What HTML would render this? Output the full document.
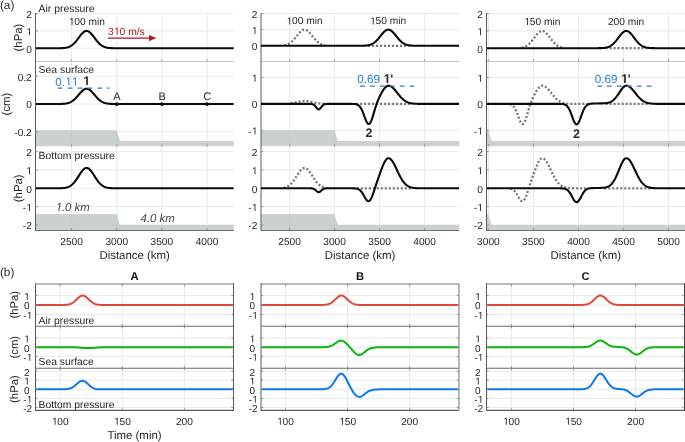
<!DOCTYPE html>
<html><head><meta charset="utf-8"><style>
html,body{margin:0;padding:0;background:#fff;}
svg{display:block;will-change:transform;}
text{font-family:"Liberation Sans", sans-serif;text-rendering:geometricPrecision;}
</style></head><body>
<svg width="685" height="442" viewBox="0 0 685 442">
<defs><clipPath id="ca00"><rect x="35.5" y="13.5" width="198.3" height="48.0"/></clipPath><clipPath id="ca01"><rect x="35.5" y="61.5" width="198.3" height="84.80000000000001"/></clipPath><clipPath id="ca02"><rect x="35.5" y="146.3" width="198.3" height="84.0"/></clipPath><clipPath id="ca10"><rect x="261.0" y="13.5" width="198.2" height="48.0"/></clipPath><clipPath id="ca11"><rect x="261.0" y="61.5" width="198.2" height="84.80000000000001"/></clipPath><clipPath id="ca12"><rect x="261.0" y="146.3" width="198.2" height="84.0"/></clipPath><clipPath id="ca20"><rect x="486.5" y="13.5" width="198.5" height="48.0"/></clipPath><clipPath id="ca21"><rect x="486.5" y="61.5" width="198.5" height="84.80000000000001"/></clipPath><clipPath id="ca22"><rect x="486.5" y="146.3" width="198.5" height="84.0"/></clipPath><clipPath id="cb00"><rect x="35.5" y="284.3" width="198.2" height="42.0"/></clipPath><clipPath id="cb01"><rect x="35.5" y="326.3" width="198.2" height="41.89999999999998"/></clipPath><clipPath id="cb02"><rect x="35.5" y="368.2" width="198.2" height="42.10000000000002"/></clipPath><clipPath id="cb10"><rect x="261.0" y="284.3" width="198.3" height="42.0"/></clipPath><clipPath id="cb11"><rect x="261.0" y="326.3" width="198.3" height="41.89999999999998"/></clipPath><clipPath id="cb12"><rect x="261.0" y="368.2" width="198.3" height="42.10000000000002"/></clipPath><clipPath id="cb20"><rect x="486.5" y="284.3" width="198.10000000000002" height="42.0"/></clipPath><clipPath id="cb21"><rect x="486.5" y="326.3" width="198.10000000000002" height="41.89999999999998"/></clipPath><clipPath id="cb22"><rect x="486.5" y="368.2" width="198.10000000000002" height="42.10000000000002"/></clipPath>
<path id="g1r" d="M585,0 L585,1237 L267,1010 L267,1180 L600,1409 L766,1409 L766,0 Z"/>
<path id="g1b" d="M538,0 L538,1170 L200,959 L200,1180 L553,1409 L819,1409 L819,0 Z"/>
<path id="g1i" d="M472,0 L710,1223 L349,1000 L384,1180 L761,1409 L927,1409 L653,0 Z"/>
</defs>
<rect width="685" height="442" fill="#fff"/>
<line x1="71.60" y1="13.50" x2="71.60" y2="61.50" stroke="#e9e9e9" stroke-width="1" />
<line x1="116.73" y1="13.50" x2="116.73" y2="61.50" stroke="#e9e9e9" stroke-width="1" />
<line x1="161.86" y1="13.50" x2="161.86" y2="61.50" stroke="#e9e9e9" stroke-width="1" />
<line x1="206.99" y1="13.50" x2="206.99" y2="61.50" stroke="#e9e9e9" stroke-width="1" />
<line x1="35.50" y1="48.25" x2="233.80" y2="48.25" stroke="#e9e9e9" stroke-width="1" />
<line x1="35.50" y1="30.90" x2="233.80" y2="30.90" stroke="#e9e9e9" stroke-width="1" />
<line x1="35.50" y1="13.55" x2="233.80" y2="13.55" stroke="#e9e9e9" stroke-width="1" />
<line x1="71.60" y1="61.50" x2="71.60" y2="146.30" stroke="#e9e9e9" stroke-width="1" />
<line x1="116.73" y1="61.50" x2="116.73" y2="146.30" stroke="#e9e9e9" stroke-width="1" />
<line x1="161.86" y1="61.50" x2="161.86" y2="146.30" stroke="#e9e9e9" stroke-width="1" />
<line x1="206.99" y1="61.50" x2="206.99" y2="146.30" stroke="#e9e9e9" stroke-width="1" />
<line x1="35.50" y1="131.70" x2="233.80" y2="131.70" stroke="#e9e9e9" stroke-width="1" />
<line x1="35.50" y1="104.00" x2="233.80" y2="104.00" stroke="#e9e9e9" stroke-width="1" />
<line x1="35.50" y1="76.30" x2="233.80" y2="76.30" stroke="#e9e9e9" stroke-width="1" />
<line x1="71.60" y1="146.30" x2="71.60" y2="230.30" stroke="#e9e9e9" stroke-width="1" />
<line x1="116.73" y1="146.30" x2="116.73" y2="230.30" stroke="#e9e9e9" stroke-width="1" />
<line x1="161.86" y1="146.30" x2="161.86" y2="230.30" stroke="#e9e9e9" stroke-width="1" />
<line x1="206.99" y1="146.30" x2="206.99" y2="230.30" stroke="#e9e9e9" stroke-width="1" />
<line x1="35.50" y1="225.00" x2="233.80" y2="225.00" stroke="#e9e9e9" stroke-width="1" />
<line x1="35.50" y1="206.65" x2="233.80" y2="206.65" stroke="#e9e9e9" stroke-width="1" />
<line x1="35.50" y1="188.30" x2="233.80" y2="188.30" stroke="#e9e9e9" stroke-width="1" />
<line x1="35.50" y1="169.95" x2="233.80" y2="169.95" stroke="#e9e9e9" stroke-width="1" />
<line x1="35.50" y1="151.60" x2="233.80" y2="151.60" stroke="#e9e9e9" stroke-width="1" />
<line x1="289.60" y1="13.50" x2="289.60" y2="61.50" stroke="#e9e9e9" stroke-width="1" />
<line x1="334.60" y1="13.50" x2="334.60" y2="61.50" stroke="#e9e9e9" stroke-width="1" />
<line x1="379.60" y1="13.50" x2="379.60" y2="61.50" stroke="#e9e9e9" stroke-width="1" />
<line x1="424.60" y1="13.50" x2="424.60" y2="61.50" stroke="#e9e9e9" stroke-width="1" />
<line x1="261.00" y1="45.80" x2="459.20" y2="45.80" stroke="#e9e9e9" stroke-width="1" />
<line x1="261.00" y1="29.65" x2="459.20" y2="29.65" stroke="#e9e9e9" stroke-width="1" />
<line x1="261.00" y1="13.50" x2="459.20" y2="13.50" stroke="#e9e9e9" stroke-width="1" />
<line x1="289.60" y1="61.50" x2="289.60" y2="146.30" stroke="#e9e9e9" stroke-width="1" />
<line x1="334.60" y1="61.50" x2="334.60" y2="146.30" stroke="#e9e9e9" stroke-width="1" />
<line x1="379.60" y1="61.50" x2="379.60" y2="146.30" stroke="#e9e9e9" stroke-width="1" />
<line x1="424.60" y1="61.50" x2="424.60" y2="146.30" stroke="#e9e9e9" stroke-width="1" />
<line x1="261.00" y1="130.30" x2="459.20" y2="130.30" stroke="#e9e9e9" stroke-width="1" />
<line x1="261.00" y1="103.90" x2="459.20" y2="103.90" stroke="#e9e9e9" stroke-width="1" />
<line x1="261.00" y1="77.50" x2="459.20" y2="77.50" stroke="#e9e9e9" stroke-width="1" />
<line x1="289.60" y1="146.30" x2="289.60" y2="230.30" stroke="#e9e9e9" stroke-width="1" />
<line x1="334.60" y1="146.30" x2="334.60" y2="230.30" stroke="#e9e9e9" stroke-width="1" />
<line x1="379.60" y1="146.30" x2="379.60" y2="230.30" stroke="#e9e9e9" stroke-width="1" />
<line x1="424.60" y1="146.30" x2="424.60" y2="230.30" stroke="#e9e9e9" stroke-width="1" />
<line x1="261.00" y1="225.00" x2="459.20" y2="225.00" stroke="#e9e9e9" stroke-width="1" />
<line x1="261.00" y1="206.65" x2="459.20" y2="206.65" stroke="#e9e9e9" stroke-width="1" />
<line x1="261.00" y1="188.30" x2="459.20" y2="188.30" stroke="#e9e9e9" stroke-width="1" />
<line x1="261.00" y1="169.95" x2="459.20" y2="169.95" stroke="#e9e9e9" stroke-width="1" />
<line x1="261.00" y1="151.60" x2="459.20" y2="151.60" stroke="#e9e9e9" stroke-width="1" />
<line x1="488.40" y1="13.50" x2="488.40" y2="61.50" stroke="#e9e9e9" stroke-width="1" />
<line x1="533.45" y1="13.50" x2="533.45" y2="61.50" stroke="#e9e9e9" stroke-width="1" />
<line x1="578.50" y1="13.50" x2="578.50" y2="61.50" stroke="#e9e9e9" stroke-width="1" />
<line x1="623.55" y1="13.50" x2="623.55" y2="61.50" stroke="#e9e9e9" stroke-width="1" />
<line x1="668.60" y1="13.50" x2="668.60" y2="61.50" stroke="#e9e9e9" stroke-width="1" />
<line x1="486.50" y1="48.20" x2="685.00" y2="48.20" stroke="#e9e9e9" stroke-width="1" />
<line x1="486.50" y1="30.90" x2="685.00" y2="30.90" stroke="#e9e9e9" stroke-width="1" />
<line x1="486.50" y1="13.60" x2="685.00" y2="13.60" stroke="#e9e9e9" stroke-width="1" />
<line x1="488.40" y1="61.50" x2="488.40" y2="146.30" stroke="#e9e9e9" stroke-width="1" />
<line x1="533.45" y1="61.50" x2="533.45" y2="146.30" stroke="#e9e9e9" stroke-width="1" />
<line x1="578.50" y1="61.50" x2="578.50" y2="146.30" stroke="#e9e9e9" stroke-width="1" />
<line x1="623.55" y1="61.50" x2="623.55" y2="146.30" stroke="#e9e9e9" stroke-width="1" />
<line x1="668.60" y1="61.50" x2="668.60" y2="146.30" stroke="#e9e9e9" stroke-width="1" />
<line x1="486.50" y1="130.30" x2="685.00" y2="130.30" stroke="#e9e9e9" stroke-width="1" />
<line x1="486.50" y1="103.90" x2="685.00" y2="103.90" stroke="#e9e9e9" stroke-width="1" />
<line x1="486.50" y1="77.50" x2="685.00" y2="77.50" stroke="#e9e9e9" stroke-width="1" />
<line x1="488.40" y1="146.30" x2="488.40" y2="230.30" stroke="#e9e9e9" stroke-width="1" />
<line x1="533.45" y1="146.30" x2="533.45" y2="230.30" stroke="#e9e9e9" stroke-width="1" />
<line x1="578.50" y1="146.30" x2="578.50" y2="230.30" stroke="#e9e9e9" stroke-width="1" />
<line x1="623.55" y1="146.30" x2="623.55" y2="230.30" stroke="#e9e9e9" stroke-width="1" />
<line x1="668.60" y1="146.30" x2="668.60" y2="230.30" stroke="#e9e9e9" stroke-width="1" />
<line x1="486.50" y1="225.00" x2="685.00" y2="225.00" stroke="#e9e9e9" stroke-width="1" />
<line x1="486.50" y1="206.65" x2="685.00" y2="206.65" stroke="#e9e9e9" stroke-width="1" />
<line x1="486.50" y1="188.30" x2="685.00" y2="188.30" stroke="#e9e9e9" stroke-width="1" />
<line x1="486.50" y1="169.95" x2="685.00" y2="169.95" stroke="#e9e9e9" stroke-width="1" />
<line x1="486.50" y1="151.60" x2="685.00" y2="151.60" stroke="#e9e9e9" stroke-width="1" />
<path d="M35.50,130.20 L116.73,130.20 L119.93,141.10 L233.80,141.10 L233.80,146.30 L35.50,146.30 Z" fill="#bcc4c4" fill-opacity="0.78"/>
<path d="M35.50,214.00 L116.73,214.00 L119.93,225.00 L233.80,225.00 L233.80,230.30 L35.50,230.30 Z" fill="#bcc4c4" fill-opacity="0.78"/>
<path d="M261.00,130.20 L334.60,130.20 L337.80,141.10 L459.20,141.10 L459.20,146.30 L261.00,146.30 Z" fill="#bcc4c4" fill-opacity="0.78"/>
<path d="M261.00,214.00 L334.60,214.00 L337.80,225.00 L459.20,225.00 L459.20,230.30 L261.00,230.30 Z" fill="#bcc4c4" fill-opacity="0.78"/>
<path d="M486.50,130.20 L488.40,130.20 L491.60,141.10 L685.00,141.10 L685.00,146.30 L486.50,146.30 Z" fill="#bcc4c4" fill-opacity="0.78"/>
<path d="M486.50,214.00 L488.40,214.00 L491.60,225.00 L685.00,225.00 L685.00,230.30 L486.50,230.30 Z" fill="#bcc4c4" fill-opacity="0.78"/>
<line x1="71.60" y1="59.50" x2="71.60" y2="61.50" stroke="#8a8a8a" stroke-width="1" />
<line x1="116.73" y1="59.50" x2="116.73" y2="61.50" stroke="#8a8a8a" stroke-width="1" />
<line x1="161.86" y1="59.50" x2="161.86" y2="61.50" stroke="#8a8a8a" stroke-width="1" />
<line x1="206.99" y1="59.50" x2="206.99" y2="61.50" stroke="#8a8a8a" stroke-width="1" />
<line x1="71.60" y1="144.30" x2="71.60" y2="146.30" stroke="#8a8a8a" stroke-width="1" />
<line x1="116.73" y1="144.30" x2="116.73" y2="146.30" stroke="#8a8a8a" stroke-width="1" />
<line x1="161.86" y1="144.30" x2="161.86" y2="146.30" stroke="#8a8a8a" stroke-width="1" />
<line x1="206.99" y1="144.30" x2="206.99" y2="146.30" stroke="#8a8a8a" stroke-width="1" />
<line x1="71.60" y1="228.30" x2="71.60" y2="230.30" stroke="#8a8a8a" stroke-width="1" />
<line x1="116.73" y1="228.30" x2="116.73" y2="230.30" stroke="#8a8a8a" stroke-width="1" />
<line x1="161.86" y1="228.30" x2="161.86" y2="230.30" stroke="#8a8a8a" stroke-width="1" />
<line x1="206.99" y1="228.30" x2="206.99" y2="230.30" stroke="#8a8a8a" stroke-width="1" />
<line x1="35.50" y1="61.50" x2="233.80" y2="61.50" stroke="#c4c4c4" stroke-width="1" />
<line x1="35.50" y1="230.50" x2="233.80" y2="230.50" stroke="#6e6e6e" stroke-width="1" />
<line x1="35.50" y1="13.00" x2="35.50" y2="231.00" stroke="#5a5a5a" stroke-width="1" />
<line x1="35.50" y1="48.25" x2="37.70" y2="48.25" stroke="#8a8a8a" stroke-width="1" />
<text x="31.80" y="52.55" font-size="10.2" text-anchor="end" fill="#262626" font-weight="normal" font-style="normal" >0</text>
<line x1="35.50" y1="30.90" x2="37.70" y2="30.90" stroke="#8a8a8a" stroke-width="1" />
<text id="t0" x="31.80" y="35.20" font-size="10.2" text-anchor="end" fill="#262626" font-weight="normal" font-style="normal" >&#8199;</text>
<line x1="35.50" y1="13.55" x2="37.70" y2="13.55" stroke="#8a8a8a" stroke-width="1" />
<text x="31.80" y="17.85" font-size="10.2" text-anchor="end" fill="#262626" font-weight="normal" font-style="normal" >2</text>
<line x1="35.50" y1="131.70" x2="37.70" y2="131.70" stroke="#8a8a8a" stroke-width="1" />
<text x="31.80" y="136.00" font-size="10.2" text-anchor="end" fill="#262626" font-weight="normal" font-style="normal" >-0.2</text>
<line x1="35.50" y1="104.00" x2="37.70" y2="104.00" stroke="#8a8a8a" stroke-width="1" />
<text x="31.80" y="108.30" font-size="10.2" text-anchor="end" fill="#262626" font-weight="normal" font-style="normal" >0</text>
<line x1="35.50" y1="76.30" x2="37.70" y2="76.30" stroke="#8a8a8a" stroke-width="1" />
<text x="31.80" y="80.60" font-size="10.2" text-anchor="end" fill="#262626" font-weight="normal" font-style="normal" >0.2</text>
<line x1="35.50" y1="225.00" x2="37.70" y2="225.00" stroke="#8a8a8a" stroke-width="1" />
<text x="31.80" y="229.30" font-size="10.2" text-anchor="end" fill="#262626" font-weight="normal" font-style="normal" >-2</text>
<line x1="35.50" y1="206.65" x2="37.70" y2="206.65" stroke="#8a8a8a" stroke-width="1" />
<text id="t1" x="31.80" y="210.95" font-size="10.2" text-anchor="end" fill="#262626" font-weight="normal" font-style="normal" >-&#8199;</text>
<line x1="35.50" y1="188.30" x2="37.70" y2="188.30" stroke="#8a8a8a" stroke-width="1" />
<text x="31.80" y="192.60" font-size="10.2" text-anchor="end" fill="#262626" font-weight="normal" font-style="normal" >0</text>
<line x1="35.50" y1="169.95" x2="37.70" y2="169.95" stroke="#8a8a8a" stroke-width="1" />
<text id="t2" x="31.80" y="174.25" font-size="10.2" text-anchor="end" fill="#262626" font-weight="normal" font-style="normal" >&#8199;</text>
<line x1="35.50" y1="151.60" x2="37.70" y2="151.60" stroke="#8a8a8a" stroke-width="1" />
<text x="31.80" y="155.90" font-size="10.2" text-anchor="end" fill="#262626" font-weight="normal" font-style="normal" >2</text>
<text x="71.60" y="244.60" font-size="10.2" text-anchor="middle" fill="#262626" font-weight="normal" font-style="normal" >2500</text>
<text x="116.73" y="244.60" font-size="10.2" text-anchor="middle" fill="#262626" font-weight="normal" font-style="normal" >3000</text>
<text x="161.86" y="244.60" font-size="10.2" text-anchor="middle" fill="#262626" font-weight="normal" font-style="normal" >3500</text>
<text x="206.99" y="244.60" font-size="10.2" text-anchor="middle" fill="#262626" font-weight="normal" font-style="normal" >4000</text>
<text x="134.65" y="259.00" font-size="11.45" text-anchor="middle" fill="#262626" font-weight="normal" font-style="normal" >Distance (km)</text>
<line x1="289.60" y1="59.50" x2="289.60" y2="61.50" stroke="#8a8a8a" stroke-width="1" />
<line x1="334.60" y1="59.50" x2="334.60" y2="61.50" stroke="#8a8a8a" stroke-width="1" />
<line x1="379.60" y1="59.50" x2="379.60" y2="61.50" stroke="#8a8a8a" stroke-width="1" />
<line x1="424.60" y1="59.50" x2="424.60" y2="61.50" stroke="#8a8a8a" stroke-width="1" />
<line x1="289.60" y1="144.30" x2="289.60" y2="146.30" stroke="#8a8a8a" stroke-width="1" />
<line x1="334.60" y1="144.30" x2="334.60" y2="146.30" stroke="#8a8a8a" stroke-width="1" />
<line x1="379.60" y1="144.30" x2="379.60" y2="146.30" stroke="#8a8a8a" stroke-width="1" />
<line x1="424.60" y1="144.30" x2="424.60" y2="146.30" stroke="#8a8a8a" stroke-width="1" />
<line x1="289.60" y1="228.30" x2="289.60" y2="230.30" stroke="#8a8a8a" stroke-width="1" />
<line x1="334.60" y1="228.30" x2="334.60" y2="230.30" stroke="#8a8a8a" stroke-width="1" />
<line x1="379.60" y1="228.30" x2="379.60" y2="230.30" stroke="#8a8a8a" stroke-width="1" />
<line x1="424.60" y1="228.30" x2="424.60" y2="230.30" stroke="#8a8a8a" stroke-width="1" />
<line x1="261.00" y1="61.50" x2="459.20" y2="61.50" stroke="#c4c4c4" stroke-width="1" />
<line x1="261.00" y1="230.50" x2="459.20" y2="230.50" stroke="#6e6e6e" stroke-width="1" />
<line x1="261.00" y1="13.00" x2="261.00" y2="231.00" stroke="#5a5a5a" stroke-width="1" />
<line x1="261.00" y1="45.80" x2="263.20" y2="45.80" stroke="#8a8a8a" stroke-width="1" />
<text x="257.30" y="50.10" font-size="10.2" text-anchor="end" fill="#262626" font-weight="normal" font-style="normal" >0</text>
<line x1="261.00" y1="29.65" x2="263.20" y2="29.65" stroke="#8a8a8a" stroke-width="1" />
<text id="t3" x="257.30" y="33.95" font-size="10.2" text-anchor="end" fill="#262626" font-weight="normal" font-style="normal" >&#8199;</text>
<line x1="261.00" y1="13.50" x2="263.20" y2="13.50" stroke="#8a8a8a" stroke-width="1" />
<text x="257.30" y="17.80" font-size="10.2" text-anchor="end" fill="#262626" font-weight="normal" font-style="normal" >2</text>
<line x1="261.00" y1="130.30" x2="263.20" y2="130.30" stroke="#8a8a8a" stroke-width="1" />
<text id="t4" x="257.30" y="134.60" font-size="10.2" text-anchor="end" fill="#262626" font-weight="normal" font-style="normal" >-&#8199;</text>
<line x1="261.00" y1="103.90" x2="263.20" y2="103.90" stroke="#8a8a8a" stroke-width="1" />
<text x="257.30" y="108.20" font-size="10.2" text-anchor="end" fill="#262626" font-weight="normal" font-style="normal" >0</text>
<line x1="261.00" y1="77.50" x2="263.20" y2="77.50" stroke="#8a8a8a" stroke-width="1" />
<text id="t5" x="257.30" y="81.80" font-size="10.2" text-anchor="end" fill="#262626" font-weight="normal" font-style="normal" >&#8199;</text>
<line x1="261.00" y1="225.00" x2="263.20" y2="225.00" stroke="#8a8a8a" stroke-width="1" />
<text x="257.30" y="229.30" font-size="10.2" text-anchor="end" fill="#262626" font-weight="normal" font-style="normal" >-2</text>
<line x1="261.00" y1="206.65" x2="263.20" y2="206.65" stroke="#8a8a8a" stroke-width="1" />
<text id="t6" x="257.30" y="210.95" font-size="10.2" text-anchor="end" fill="#262626" font-weight="normal" font-style="normal" >-&#8199;</text>
<line x1="261.00" y1="188.30" x2="263.20" y2="188.30" stroke="#8a8a8a" stroke-width="1" />
<text x="257.30" y="192.60" font-size="10.2" text-anchor="end" fill="#262626" font-weight="normal" font-style="normal" >0</text>
<line x1="261.00" y1="169.95" x2="263.20" y2="169.95" stroke="#8a8a8a" stroke-width="1" />
<text id="t7" x="257.30" y="174.25" font-size="10.2" text-anchor="end" fill="#262626" font-weight="normal" font-style="normal" >&#8199;</text>
<line x1="261.00" y1="151.60" x2="263.20" y2="151.60" stroke="#8a8a8a" stroke-width="1" />
<text x="257.30" y="155.90" font-size="10.2" text-anchor="end" fill="#262626" font-weight="normal" font-style="normal" >2</text>
<text x="289.60" y="244.60" font-size="10.2" text-anchor="middle" fill="#262626" font-weight="normal" font-style="normal" >2500</text>
<text x="334.60" y="244.60" font-size="10.2" text-anchor="middle" fill="#262626" font-weight="normal" font-style="normal" >3000</text>
<text x="379.60" y="244.60" font-size="10.2" text-anchor="middle" fill="#262626" font-weight="normal" font-style="normal" >3500</text>
<text x="424.60" y="244.60" font-size="10.2" text-anchor="middle" fill="#262626" font-weight="normal" font-style="normal" >4000</text>
<text x="360.10" y="259.00" font-size="11.45" text-anchor="middle" fill="#262626" font-weight="normal" font-style="normal" >Distance (km)</text>
<line x1="488.40" y1="59.50" x2="488.40" y2="61.50" stroke="#8a8a8a" stroke-width="1" />
<line x1="533.45" y1="59.50" x2="533.45" y2="61.50" stroke="#8a8a8a" stroke-width="1" />
<line x1="578.50" y1="59.50" x2="578.50" y2="61.50" stroke="#8a8a8a" stroke-width="1" />
<line x1="623.55" y1="59.50" x2="623.55" y2="61.50" stroke="#8a8a8a" stroke-width="1" />
<line x1="668.60" y1="59.50" x2="668.60" y2="61.50" stroke="#8a8a8a" stroke-width="1" />
<line x1="488.40" y1="144.30" x2="488.40" y2="146.30" stroke="#8a8a8a" stroke-width="1" />
<line x1="533.45" y1="144.30" x2="533.45" y2="146.30" stroke="#8a8a8a" stroke-width="1" />
<line x1="578.50" y1="144.30" x2="578.50" y2="146.30" stroke="#8a8a8a" stroke-width="1" />
<line x1="623.55" y1="144.30" x2="623.55" y2="146.30" stroke="#8a8a8a" stroke-width="1" />
<line x1="668.60" y1="144.30" x2="668.60" y2="146.30" stroke="#8a8a8a" stroke-width="1" />
<line x1="488.40" y1="228.30" x2="488.40" y2="230.30" stroke="#8a8a8a" stroke-width="1" />
<line x1="533.45" y1="228.30" x2="533.45" y2="230.30" stroke="#8a8a8a" stroke-width="1" />
<line x1="578.50" y1="228.30" x2="578.50" y2="230.30" stroke="#8a8a8a" stroke-width="1" />
<line x1="623.55" y1="228.30" x2="623.55" y2="230.30" stroke="#8a8a8a" stroke-width="1" />
<line x1="668.60" y1="228.30" x2="668.60" y2="230.30" stroke="#8a8a8a" stroke-width="1" />
<line x1="486.50" y1="61.50" x2="685.00" y2="61.50" stroke="#c4c4c4" stroke-width="1" />
<line x1="486.50" y1="230.50" x2="685.00" y2="230.50" stroke="#6e6e6e" stroke-width="1" />
<line x1="486.50" y1="13.00" x2="486.50" y2="231.00" stroke="#5a5a5a" stroke-width="1" />
<line x1="486.50" y1="48.20" x2="488.70" y2="48.20" stroke="#8a8a8a" stroke-width="1" />
<text x="482.80" y="52.50" font-size="10.2" text-anchor="end" fill="#262626" font-weight="normal" font-style="normal" >0</text>
<line x1="486.50" y1="30.90" x2="488.70" y2="30.90" stroke="#8a8a8a" stroke-width="1" />
<text id="t8" x="482.80" y="35.20" font-size="10.2" text-anchor="end" fill="#262626" font-weight="normal" font-style="normal" >&#8199;</text>
<line x1="486.50" y1="13.60" x2="488.70" y2="13.60" stroke="#8a8a8a" stroke-width="1" />
<text x="482.80" y="17.90" font-size="10.2" text-anchor="end" fill="#262626" font-weight="normal" font-style="normal" >2</text>
<line x1="486.50" y1="130.30" x2="488.70" y2="130.30" stroke="#8a8a8a" stroke-width="1" />
<text id="t9" x="482.80" y="134.60" font-size="10.2" text-anchor="end" fill="#262626" font-weight="normal" font-style="normal" >-&#8199;</text>
<line x1="486.50" y1="103.90" x2="488.70" y2="103.90" stroke="#8a8a8a" stroke-width="1" />
<text x="482.80" y="108.20" font-size="10.2" text-anchor="end" fill="#262626" font-weight="normal" font-style="normal" >0</text>
<line x1="486.50" y1="77.50" x2="488.70" y2="77.50" stroke="#8a8a8a" stroke-width="1" />
<text id="t10" x="482.80" y="81.80" font-size="10.2" text-anchor="end" fill="#262626" font-weight="normal" font-style="normal" >&#8199;</text>
<line x1="486.50" y1="225.00" x2="488.70" y2="225.00" stroke="#8a8a8a" stroke-width="1" />
<text x="482.80" y="229.30" font-size="10.2" text-anchor="end" fill="#262626" font-weight="normal" font-style="normal" >-2</text>
<line x1="486.50" y1="206.65" x2="488.70" y2="206.65" stroke="#8a8a8a" stroke-width="1" />
<text id="t11" x="482.80" y="210.95" font-size="10.2" text-anchor="end" fill="#262626" font-weight="normal" font-style="normal" >-&#8199;</text>
<line x1="486.50" y1="188.30" x2="488.70" y2="188.30" stroke="#8a8a8a" stroke-width="1" />
<text x="482.80" y="192.60" font-size="10.2" text-anchor="end" fill="#262626" font-weight="normal" font-style="normal" >0</text>
<line x1="486.50" y1="169.95" x2="488.70" y2="169.95" stroke="#8a8a8a" stroke-width="1" />
<text id="t12" x="482.80" y="174.25" font-size="10.2" text-anchor="end" fill="#262626" font-weight="normal" font-style="normal" >&#8199;</text>
<line x1="486.50" y1="151.60" x2="488.70" y2="151.60" stroke="#8a8a8a" stroke-width="1" />
<text x="482.80" y="155.90" font-size="10.2" text-anchor="end" fill="#262626" font-weight="normal" font-style="normal" >2</text>
<text x="488.40" y="244.60" font-size="10.2" text-anchor="middle" fill="#262626" font-weight="normal" font-style="normal" >3000</text>
<text x="533.45" y="244.60" font-size="10.2" text-anchor="middle" fill="#262626" font-weight="normal" font-style="normal" >3500</text>
<text x="578.50" y="244.60" font-size="10.2" text-anchor="middle" fill="#262626" font-weight="normal" font-style="normal" >4000</text>
<text x="623.55" y="244.60" font-size="10.2" text-anchor="middle" fill="#262626" font-weight="normal" font-style="normal" >4500</text>
<text x="668.60" y="244.60" font-size="10.2" text-anchor="middle" fill="#262626" font-weight="normal" font-style="normal" >5000</text>
<text x="585.75" y="259.00" font-size="11.45" text-anchor="middle" fill="#262626" font-weight="normal" font-style="normal" >Distance (km)</text>
<path d="M35.50,48.25 L36.16,48.25 L36.82,48.25 L37.48,48.25 L38.14,48.25 L38.81,48.25 L39.47,48.25 L40.13,48.25 L40.79,48.25 L41.45,48.25 L42.11,48.25 L42.77,48.25 L43.43,48.25 L44.09,48.25 L44.75,48.25 L45.42,48.25 L46.08,48.25 L46.74,48.25 L47.40,48.25 L48.06,48.25 L48.72,48.25 L49.38,48.25 L50.04,48.25 L50.70,48.25 L51.36,48.25 L52.03,48.25 L52.69,48.25 L53.35,48.25 L54.01,48.25 L54.67,48.25 L55.33,48.24 L55.99,48.24 L56.65,48.24 L57.31,48.23 L57.97,48.23 L58.64,48.22 L59.30,48.21 L59.96,48.19 L60.62,48.18 L61.28,48.15 L61.94,48.12 L62.60,48.09 L63.26,48.04 L63.92,47.98 L64.58,47.91 L65.25,47.82 L65.91,47.71 L66.57,47.58 L67.23,47.42 L67.89,47.23 L68.55,47.01 L69.21,46.75 L69.87,46.45 L70.53,46.10 L71.19,45.71 L71.86,45.26 L72.52,44.76 L73.18,44.21 L73.84,43.60 L74.50,42.94 L75.16,42.23 L75.82,41.47 L76.48,40.66 L77.14,39.83 L77.80,38.96 L78.47,38.08 L79.13,37.20 L79.79,36.32 L80.45,35.46 L81.11,34.64 L81.77,33.87 L82.43,33.16 L83.09,32.53 L83.75,31.99 L84.41,31.55 L85.07,31.22 L85.74,31.00 L86.40,30.90 L87.06,30.93 L87.72,31.08 L88.38,31.35 L89.04,31.73 L89.70,32.22 L90.36,32.80 L91.02,33.46 L91.69,34.20 L92.35,35.00 L93.01,35.83 L93.67,36.70 L94.33,37.58 L94.99,38.47 L95.65,39.34 L96.31,40.20 L96.97,41.02 L97.63,41.80 L98.29,42.54 L98.96,43.24 L99.62,43.87 L100.28,44.46 L100.94,44.99 L101.60,45.46 L102.26,45.89 L102.92,46.26 L103.58,46.58 L104.24,46.87 L104.91,47.11 L105.57,47.32 L106.23,47.49 L106.89,47.64 L107.55,47.76 L108.21,47.86 L108.87,47.94 L109.53,48.01 L110.19,48.06 L110.85,48.10 L111.52,48.14 L112.18,48.16 L112.84,48.19 L113.50,48.20 L114.16,48.21 L114.82,48.22 L115.48,48.23 L116.14,48.24 L116.80,48.24 L117.46,48.24 L118.13,48.24 L118.79,48.25 L119.45,48.25 L120.11,48.25 L120.77,48.25 L121.43,48.25 L122.09,48.25 L122.75,48.25 L123.41,48.25 L124.07,48.25 L124.74,48.25 L125.40,48.25 L126.06,48.25 L126.72,48.25 L127.38,48.25 L128.04,48.25 L128.70,48.25 L129.36,48.25 L130.02,48.25 L130.68,48.25 L131.35,48.25 L132.01,48.25 L132.67,48.25 L133.33,48.25 L133.99,48.25 L134.65,48.25 L135.31,48.25 L135.97,48.25 L136.63,48.25 L137.29,48.25 L137.96,48.25 L138.62,48.25 L139.28,48.25 L139.94,48.25 L140.60,48.25 L141.26,48.25 L141.92,48.25 L142.58,48.25 L143.24,48.25 L143.90,48.25 L144.56,48.25 L145.23,48.25 L145.89,48.25 L146.55,48.25 L147.21,48.25 L147.87,48.25 L148.53,48.25 L149.19,48.25 L149.85,48.25 L150.51,48.25 L151.18,48.25 L151.84,48.25 L152.50,48.25 L153.16,48.25 L153.82,48.25 L154.48,48.25 L155.14,48.25 L155.80,48.25 L156.46,48.25 L157.12,48.25 L157.79,48.25 L158.45,48.25 L159.11,48.25 L159.77,48.25 L160.43,48.25 L161.09,48.25 L161.75,48.25 L162.41,48.25 L163.07,48.25 L163.73,48.25 L164.40,48.25 L165.06,48.25 L165.72,48.25 L166.38,48.25 L167.04,48.25 L167.70,48.25 L168.36,48.25 L169.02,48.25 L169.68,48.25 L170.34,48.25 L171.00,48.25 L171.67,48.25 L172.33,48.25 L172.99,48.25 L173.65,48.25 L174.31,48.25 L174.97,48.25 L175.63,48.25 L176.29,48.25 L176.95,48.25 L177.62,48.25 L178.28,48.25 L178.94,48.25 L179.60,48.25 L180.26,48.25 L180.92,48.25 L181.58,48.25 L182.24,48.25 L182.90,48.25 L183.56,48.25 L184.23,48.25 L184.89,48.25 L185.55,48.25 L186.21,48.25 L186.87,48.25 L187.53,48.25 L188.19,48.25 L188.85,48.25 L189.51,48.25 L190.17,48.25 L190.84,48.25 L191.50,48.25 L192.16,48.25 L192.82,48.25 L193.48,48.25 L194.14,48.25 L194.80,48.25 L195.46,48.25 L196.12,48.25 L196.78,48.25 L197.44,48.25 L198.11,48.25 L198.77,48.25 L199.43,48.25 L200.09,48.25 L200.75,48.25 L201.41,48.25 L202.07,48.25 L202.73,48.25 L203.39,48.25 L204.06,48.25 L204.72,48.25 L205.38,48.25 L206.04,48.25 L206.70,48.25 L207.36,48.25 L208.02,48.25 L208.68,48.25 L209.34,48.25 L210.00,48.25 L210.67,48.25 L211.33,48.25 L211.99,48.25 L212.65,48.25 L213.31,48.25 L213.97,48.25 L214.63,48.25 L215.29,48.25 L215.95,48.25 L216.61,48.25 L217.28,48.25 L217.94,48.25 L218.60,48.25 L219.26,48.25 L219.92,48.25 L220.58,48.25 L221.24,48.25 L221.90,48.25 L222.56,48.25 L223.22,48.25 L223.89,48.25 L224.55,48.25 L225.21,48.25 L225.87,48.25 L226.53,48.25 L227.19,48.25 L227.85,48.25 L228.51,48.25 L229.17,48.25 L229.83,48.25 L230.50,48.25 L231.16,48.25 L231.82,48.25 L232.48,48.25 L233.14,48.25 L233.80,48.25" fill="none" stroke="#0a0a0a" stroke-width="2.1" stroke-linejoin="round" stroke-linecap="butt"  clip-path="url(#ca00)"/>
<path d="M35.50,104.00 L36.16,104.00 L36.82,104.00 L37.48,104.00 L38.14,104.00 L38.81,104.00 L39.47,104.00 L40.13,104.00 L40.79,104.00 L41.45,104.00 L42.11,104.00 L42.77,104.00 L43.43,104.00 L44.09,104.00 L44.75,104.00 L45.42,104.00 L46.08,104.00 L46.74,104.00 L47.40,104.00 L48.06,104.00 L48.72,104.00 L49.38,104.00 L50.04,104.00 L50.70,104.00 L51.36,104.00 L52.03,104.00 L52.69,104.00 L53.35,104.00 L54.01,104.00 L54.67,104.00 L55.33,103.99 L55.99,103.99 L56.65,103.99 L57.31,103.99 L57.97,103.98 L58.64,103.97 L59.30,103.96 L59.96,103.95 L60.62,103.94 L61.28,103.92 L61.94,103.89 L62.60,103.86 L63.26,103.81 L63.92,103.76 L64.58,103.70 L65.25,103.62 L65.91,103.52 L66.57,103.41 L67.23,103.27 L67.89,103.10 L68.55,102.91 L69.21,102.68 L69.87,102.42 L70.53,102.11 L71.19,101.77 L71.86,101.38 L72.52,100.94 L73.18,100.45 L73.84,99.92 L74.50,99.34 L75.16,98.71 L75.82,98.04 L76.48,97.34 L77.14,96.60 L77.80,95.84 L78.47,95.07 L79.13,94.29 L79.79,93.52 L80.45,92.77 L81.11,92.05 L81.77,91.37 L82.43,90.75 L83.09,90.20 L83.75,89.72 L84.41,89.34 L85.07,89.04 L85.74,88.85 L86.40,88.77 L87.06,88.79 L87.72,88.92 L88.38,89.16 L89.04,89.49 L89.70,89.92 L90.36,90.43 L91.02,91.02 L91.69,91.66 L92.35,92.36 L93.01,93.10 L93.67,93.86 L94.33,94.63 L94.99,95.41 L95.65,96.18 L96.31,96.93 L96.97,97.65 L97.63,98.34 L98.29,98.99 L98.96,99.60 L99.62,100.16 L100.28,100.67 L100.94,101.14 L101.60,101.55 L102.26,101.92 L102.92,102.25 L103.58,102.54 L104.24,102.79 L104.91,103.00 L105.57,103.18 L106.23,103.33 L106.89,103.46 L107.55,103.57 L108.21,103.66 L108.87,103.73 L109.53,103.79 L110.19,103.83 L110.85,103.87 L111.52,103.90 L112.18,103.92 L112.84,103.94 L113.50,103.96 L114.16,103.97 L114.82,103.98 L115.48,103.98 L116.14,103.99 L116.80,103.99 L117.46,103.99 L118.13,104.00 L118.79,104.00 L119.45,104.00 L120.11,104.00 L120.77,104.00 L121.43,104.00 L122.09,104.00 L122.75,104.00 L123.41,104.00 L124.07,104.00 L124.74,104.00 L125.40,104.00 L126.06,104.00 L126.72,104.00 L127.38,104.00 L128.04,104.00 L128.70,104.00 L129.36,104.00 L130.02,104.00 L130.68,104.00 L131.35,104.00 L132.01,104.00 L132.67,104.00 L133.33,104.00 L133.99,104.00 L134.65,104.00 L135.31,104.00 L135.97,104.00 L136.63,104.00 L137.29,104.00 L137.96,104.00 L138.62,104.00 L139.28,104.00 L139.94,104.00 L140.60,104.00 L141.26,104.00 L141.92,104.00 L142.58,104.00 L143.24,104.00 L143.90,104.00 L144.56,104.00 L145.23,104.00 L145.89,104.00 L146.55,104.00 L147.21,104.00 L147.87,104.00 L148.53,104.00 L149.19,104.00 L149.85,104.00 L150.51,104.00 L151.18,104.00 L151.84,104.00 L152.50,104.00 L153.16,104.00 L153.82,104.00 L154.48,104.00 L155.14,104.00 L155.80,104.00 L156.46,104.00 L157.12,104.00 L157.79,104.00 L158.45,104.00 L159.11,104.00 L159.77,104.00 L160.43,104.00 L161.09,104.00 L161.75,104.00 L162.41,104.00 L163.07,104.00 L163.73,104.00 L164.40,104.00 L165.06,104.00 L165.72,104.00 L166.38,104.00 L167.04,104.00 L167.70,104.00 L168.36,104.00 L169.02,104.00 L169.68,104.00 L170.34,104.00 L171.00,104.00 L171.67,104.00 L172.33,104.00 L172.99,104.00 L173.65,104.00 L174.31,104.00 L174.97,104.00 L175.63,104.00 L176.29,104.00 L176.95,104.00 L177.62,104.00 L178.28,104.00 L178.94,104.00 L179.60,104.00 L180.26,104.00 L180.92,104.00 L181.58,104.00 L182.24,104.00 L182.90,104.00 L183.56,104.00 L184.23,104.00 L184.89,104.00 L185.55,104.00 L186.21,104.00 L186.87,104.00 L187.53,104.00 L188.19,104.00 L188.85,104.00 L189.51,104.00 L190.17,104.00 L190.84,104.00 L191.50,104.00 L192.16,104.00 L192.82,104.00 L193.48,104.00 L194.14,104.00 L194.80,104.00 L195.46,104.00 L196.12,104.00 L196.78,104.00 L197.44,104.00 L198.11,104.00 L198.77,104.00 L199.43,104.00 L200.09,104.00 L200.75,104.00 L201.41,104.00 L202.07,104.00 L202.73,104.00 L203.39,104.00 L204.06,104.00 L204.72,104.00 L205.38,104.00 L206.04,104.00 L206.70,104.00 L207.36,104.00 L208.02,104.00 L208.68,104.00 L209.34,104.00 L210.00,104.00 L210.67,104.00 L211.33,104.00 L211.99,104.00 L212.65,104.00 L213.31,104.00 L213.97,104.00 L214.63,104.00 L215.29,104.00 L215.95,104.00 L216.61,104.00 L217.28,104.00 L217.94,104.00 L218.60,104.00 L219.26,104.00 L219.92,104.00 L220.58,104.00 L221.24,104.00 L221.90,104.00 L222.56,104.00 L223.22,104.00 L223.89,104.00 L224.55,104.00 L225.21,104.00 L225.87,104.00 L226.53,104.00 L227.19,104.00 L227.85,104.00 L228.51,104.00 L229.17,104.00 L229.83,104.00 L230.50,104.00 L231.16,104.00 L231.82,104.00 L232.48,104.00 L233.14,104.00 L233.80,104.00" fill="none" stroke="#0a0a0a" stroke-width="2.1" stroke-linejoin="round" stroke-linecap="butt"  clip-path="url(#ca01)"/>
<path d="M35.50,188.30 L36.16,188.30 L36.82,188.30 L37.48,188.30 L38.14,188.30 L38.81,188.30 L39.47,188.30 L40.13,188.30 L40.79,188.30 L41.45,188.30 L42.11,188.30 L42.77,188.30 L43.43,188.30 L44.09,188.30 L44.75,188.30 L45.42,188.30 L46.08,188.30 L46.74,188.30 L47.40,188.30 L48.06,188.30 L48.72,188.30 L49.38,188.30 L50.04,188.30 L50.70,188.30 L51.36,188.30 L52.03,188.30 L52.69,188.30 L53.35,188.30 L54.01,188.30 L54.67,188.29 L55.33,188.29 L55.99,188.29 L56.65,188.29 L57.31,188.28 L57.97,188.27 L58.64,188.26 L59.30,188.25 L59.96,188.24 L60.62,188.21 L61.28,188.19 L61.94,188.15 L62.60,188.11 L63.26,188.05 L63.92,187.98 L64.58,187.90 L65.25,187.79 L65.91,187.66 L66.57,187.51 L67.23,187.32 L67.89,187.10 L68.55,186.84 L69.21,186.54 L69.87,186.18 L70.53,185.78 L71.19,185.31 L71.86,184.79 L72.52,184.21 L73.18,183.56 L73.84,182.84 L74.50,182.07 L75.16,181.23 L75.82,180.34 L76.48,179.39 L77.14,178.41 L77.80,177.40 L78.47,176.36 L79.13,175.32 L79.79,174.29 L80.45,173.29 L81.11,172.33 L81.77,171.42 L82.43,170.59 L83.09,169.85 L83.75,169.21 L84.41,168.69 L85.07,168.30 L85.74,168.05 L86.40,167.94 L87.06,167.97 L87.72,168.14 L88.38,168.46 L89.04,168.91 L89.70,169.48 L90.36,170.16 L91.02,170.94 L91.69,171.81 L92.35,172.74 L93.01,173.72 L93.67,174.74 L94.33,175.78 L94.99,176.82 L95.65,177.84 L96.31,178.85 L96.97,179.81 L97.63,180.73 L98.29,181.60 L98.96,182.41 L99.62,183.16 L100.28,183.85 L100.94,184.47 L101.60,185.03 L102.26,185.52 L102.92,185.96 L103.58,186.34 L104.24,186.68 L104.91,186.96 L105.57,187.20 L106.23,187.41 L106.89,187.58 L107.55,187.72 L108.21,187.84 L108.87,187.94 L109.53,188.02 L110.19,188.08 L110.85,188.13 L111.52,188.17 L112.18,188.20 L112.84,188.22 L113.50,188.24 L114.16,188.26 L114.82,188.27 L115.48,188.28 L116.14,188.28 L116.80,188.29 L117.46,188.29 L118.13,188.29 L118.79,188.30 L119.45,188.30 L120.11,188.30 L120.77,188.30 L121.43,188.30 L122.09,188.30 L122.75,188.30 L123.41,188.30 L124.07,188.30 L124.74,188.30 L125.40,188.30 L126.06,188.30 L126.72,188.30 L127.38,188.30 L128.04,188.30 L128.70,188.30 L129.36,188.30 L130.02,188.30 L130.68,188.30 L131.35,188.30 L132.01,188.30 L132.67,188.30 L133.33,188.30 L133.99,188.30 L134.65,188.30 L135.31,188.30 L135.97,188.30 L136.63,188.30 L137.29,188.30 L137.96,188.30 L138.62,188.30 L139.28,188.30 L139.94,188.30 L140.60,188.30 L141.26,188.30 L141.92,188.30 L142.58,188.30 L143.24,188.30 L143.90,188.30 L144.56,188.30 L145.23,188.30 L145.89,188.30 L146.55,188.30 L147.21,188.30 L147.87,188.30 L148.53,188.30 L149.19,188.30 L149.85,188.30 L150.51,188.30 L151.18,188.30 L151.84,188.30 L152.50,188.30 L153.16,188.30 L153.82,188.30 L154.48,188.30 L155.14,188.30 L155.80,188.30 L156.46,188.30 L157.12,188.30 L157.79,188.30 L158.45,188.30 L159.11,188.30 L159.77,188.30 L160.43,188.30 L161.09,188.30 L161.75,188.30 L162.41,188.30 L163.07,188.30 L163.73,188.30 L164.40,188.30 L165.06,188.30 L165.72,188.30 L166.38,188.30 L167.04,188.30 L167.70,188.30 L168.36,188.30 L169.02,188.30 L169.68,188.30 L170.34,188.30 L171.00,188.30 L171.67,188.30 L172.33,188.30 L172.99,188.30 L173.65,188.30 L174.31,188.30 L174.97,188.30 L175.63,188.30 L176.29,188.30 L176.95,188.30 L177.62,188.30 L178.28,188.30 L178.94,188.30 L179.60,188.30 L180.26,188.30 L180.92,188.30 L181.58,188.30 L182.24,188.30 L182.90,188.30 L183.56,188.30 L184.23,188.30 L184.89,188.30 L185.55,188.30 L186.21,188.30 L186.87,188.30 L187.53,188.30 L188.19,188.30 L188.85,188.30 L189.51,188.30 L190.17,188.30 L190.84,188.30 L191.50,188.30 L192.16,188.30 L192.82,188.30 L193.48,188.30 L194.14,188.30 L194.80,188.30 L195.46,188.30 L196.12,188.30 L196.78,188.30 L197.44,188.30 L198.11,188.30 L198.77,188.30 L199.43,188.30 L200.09,188.30 L200.75,188.30 L201.41,188.30 L202.07,188.30 L202.73,188.30 L203.39,188.30 L204.06,188.30 L204.72,188.30 L205.38,188.30 L206.04,188.30 L206.70,188.30 L207.36,188.30 L208.02,188.30 L208.68,188.30 L209.34,188.30 L210.00,188.30 L210.67,188.30 L211.33,188.30 L211.99,188.30 L212.65,188.30 L213.31,188.30 L213.97,188.30 L214.63,188.30 L215.29,188.30 L215.95,188.30 L216.61,188.30 L217.28,188.30 L217.94,188.30 L218.60,188.30 L219.26,188.30 L219.92,188.30 L220.58,188.30 L221.24,188.30 L221.90,188.30 L222.56,188.30 L223.22,188.30 L223.89,188.30 L224.55,188.30 L225.21,188.30 L225.87,188.30 L226.53,188.30 L227.19,188.30 L227.85,188.30 L228.51,188.30 L229.17,188.30 L229.83,188.30 L230.50,188.30 L231.16,188.30 L231.82,188.30 L232.48,188.30 L233.14,188.30 L233.80,188.30" fill="none" stroke="#0a0a0a" stroke-width="2.1" stroke-linejoin="round" stroke-linecap="butt"  clip-path="url(#ca02)"/>
<path d="M284.12,45.26 L284.78,45.13 L285.44,44.97 L286.11,44.79 L286.77,44.57 L287.43,44.32 L288.09,44.02 L288.75,43.69 L289.41,43.30 L290.07,42.87 L290.73,42.39 L291.39,41.86 L292.05,41.27 L292.71,40.64 L293.37,39.96 L294.03,39.24 L294.69,38.47 L295.35,37.68 L296.02,36.87 L296.68,36.05 L297.34,35.22 L298.00,34.41 L298.66,33.62 L299.32,32.87 L299.98,32.17 L300.64,31.53 L301.30,30.97 L301.96,30.50 L302.62,30.13 L303.28,29.86 L303.94,29.70 L304.60,29.65 L305.26,29.72 L305.93,29.90 L306.59,30.19 L307.25,30.59 L307.91,31.08 L308.57,31.65 L309.23,32.30 L309.89,33.01 L310.55,33.77 L311.21,34.57 L311.87,35.38 L312.53,36.21 L313.19,37.03 L313.85,37.84 L314.51,38.62 L315.17,39.38 L315.84,40.09 L316.50,40.77 L317.16,41.39 L317.82,41.96 L318.48,42.49 L319.14,42.96 L319.80,43.38 L320.46,43.76 L321.12,44.08 L321.78,44.37 L322.44,44.62 L323.10,44.83 L323.76,45.01 L324.42,45.16 L325.08,45.28" fill="none" stroke="#767676" stroke-width="2.3" stroke-linejoin="round" stroke-linecap="butt" stroke-dasharray="2.0 2.0" clip-path="url(#ca10)"/>
<path d="M368.03,45.80 L368.69,45.80 L369.35,45.80 L370.01,45.80 L370.67,45.80 L371.33,45.80 L371.99,45.80 L372.65,45.80 L373.31,45.80 L373.97,45.80 L374.63,45.80 L375.30,45.80 L375.96,45.80 L376.62,45.80 L377.28,45.80 L377.94,45.80 L378.60,45.80 L379.26,45.80 L379.92,45.80 L380.58,45.80 L381.24,45.80 L381.90,45.80 L382.56,45.80 L383.22,45.80 L383.88,45.80 L384.54,45.80 L385.21,45.80 L385.87,45.80 L386.53,45.80 L387.19,45.80 L387.85,45.80 L388.51,45.80 L389.17,45.80 L389.83,45.80 L390.49,45.80 L391.15,45.80 L391.81,45.80 L392.47,45.80 L393.13,45.80 L393.79,45.80 L394.45,45.80 L395.12,45.80 L395.78,45.80 L396.44,45.80 L397.10,45.80 L397.76,45.80 L398.42,45.80 L399.08,45.80 L399.74,45.80 L400.40,45.80 L401.06,45.80 L401.72,45.80 L402.38,45.80 L403.04,45.80 L403.70,45.80 L404.36,45.80 L405.03,45.80 L405.69,45.80 L406.35,45.80 L407.01,45.80 L407.67,45.80 L408.33,45.80 L408.99,45.80" fill="none" stroke="#767676" stroke-width="2.3" stroke-linejoin="round" stroke-linecap="butt" stroke-dasharray="2.0 2.0" clip-path="url(#ca10)"/>
<path d="M261.00,45.80 L261.66,45.80 L262.32,45.80 L262.98,45.80 L263.64,45.80 L264.30,45.80 L264.96,45.80 L265.62,45.80 L266.29,45.80 L266.95,45.80 L267.61,45.80 L268.27,45.80 L268.93,45.80 L269.59,45.80 L270.25,45.80 L270.91,45.80 L271.57,45.80 L272.23,45.80 L272.89,45.80 L273.55,45.80 L274.21,45.80 L274.87,45.80 L275.53,45.80 L276.20,45.80 L276.86,45.80 L277.52,45.80 L278.18,45.80 L278.84,45.80 L279.50,45.80 L280.16,45.80 L280.82,45.80 L281.48,45.80 L282.14,45.80 L282.80,45.80 L283.46,45.80 L284.12,45.80 L284.78,45.80 L285.44,45.80 L286.11,45.80 L286.77,45.80 L287.43,45.80 L288.09,45.80 L288.75,45.80 L289.41,45.80 L290.07,45.80 L290.73,45.80 L291.39,45.80 L292.05,45.80 L292.71,45.80 L293.37,45.80 L294.03,45.80 L294.69,45.80 L295.35,45.80 L296.02,45.80 L296.68,45.80 L297.34,45.80 L298.00,45.80 L298.66,45.80 L299.32,45.80 L299.98,45.80 L300.64,45.80 L301.30,45.80 L301.96,45.80 L302.62,45.80 L303.28,45.80 L303.94,45.80 L304.60,45.80 L305.26,45.80 L305.93,45.80 L306.59,45.80 L307.25,45.80 L307.91,45.80 L308.57,45.80 L309.23,45.80 L309.89,45.80 L310.55,45.80 L311.21,45.80 L311.87,45.80 L312.53,45.80 L313.19,45.80 L313.85,45.80 L314.51,45.80 L315.17,45.80 L315.84,45.80 L316.50,45.80 L317.16,45.80 L317.82,45.80 L318.48,45.80 L319.14,45.80 L319.80,45.80 L320.46,45.80 L321.12,45.80 L321.78,45.80 L322.44,45.80 L323.10,45.80 L323.76,45.80 L324.42,45.80 L325.08,45.80 L325.75,45.80 L326.41,45.80 L327.07,45.80 L327.73,45.80 L328.39,45.80 L329.05,45.80 L329.71,45.80 L330.37,45.80 L331.03,45.80 L331.69,45.80 L332.35,45.80 L333.01,45.80 L333.67,45.80 L334.33,45.80 L334.99,45.80 L335.66,45.80 L336.32,45.80 L336.98,45.80 L337.64,45.80 L338.30,45.80 L338.96,45.80 L339.62,45.80 L340.28,45.80 L340.94,45.80 L341.60,45.80 L342.26,45.80 L342.92,45.80 L343.58,45.80 L344.24,45.80 L344.90,45.80 L345.57,45.80 L346.23,45.80 L346.89,45.80 L347.55,45.80 L348.21,45.80 L348.87,45.80 L349.53,45.80 L350.19,45.80 L350.85,45.80 L351.51,45.80 L352.17,45.80 L352.83,45.80 L353.49,45.80 L354.15,45.80 L354.81,45.80 L355.48,45.80 L356.14,45.80 L356.80,45.80 L357.46,45.79 L358.12,45.79 L358.78,45.79 L359.44,45.78 L360.10,45.78 L360.76,45.77 L361.42,45.76 L362.08,45.74 L362.74,45.72 L363.40,45.70 L364.06,45.67 L364.72,45.63 L365.39,45.58 L366.05,45.52 L366.71,45.44 L367.37,45.35 L368.03,45.24 L368.69,45.11 L369.35,44.94 L370.01,44.75 L370.67,44.53 L371.33,44.27 L371.99,43.97 L372.65,43.62 L373.31,43.23 L373.97,42.79 L374.63,42.30 L375.30,41.76 L375.96,41.17 L376.62,40.53 L377.28,39.84 L377.94,39.11 L378.60,38.34 L379.26,37.54 L379.92,36.73 L380.58,35.90 L381.24,35.08 L381.90,34.27 L382.56,33.49 L383.22,32.74 L383.88,32.05 L384.54,31.43 L385.21,30.89 L385.87,30.43 L386.53,30.07 L387.19,29.82 L387.85,29.68 L388.51,29.65 L389.17,29.74 L389.83,29.94 L390.49,30.25 L391.15,30.67 L391.81,31.17 L392.47,31.76 L393.13,32.42 L393.79,33.14 L394.45,33.91 L395.12,34.71 L395.78,35.52 L396.44,36.35 L397.10,37.17 L397.76,37.98 L398.42,38.76 L399.08,39.51 L399.74,40.21 L400.40,40.88 L401.06,41.49 L401.72,42.06 L402.38,42.57 L403.04,43.04 L403.70,43.45 L404.36,43.82 L405.03,44.14 L405.69,44.42 L406.35,44.66 L407.01,44.86 L407.67,45.03 L408.33,45.18 L408.99,45.30 L409.65,45.40 L410.31,45.49 L410.97,45.55 L411.63,45.61 L412.29,45.65 L412.95,45.68 L413.61,45.71 L414.27,45.73 L414.94,45.75 L415.60,45.76 L416.26,45.77 L416.92,45.78 L417.58,45.78 L418.24,45.79 L418.90,45.79 L419.56,45.79 L420.22,45.80 L420.88,45.80 L421.54,45.80 L422.20,45.80 L422.86,45.80 L423.52,45.80 L424.18,45.80 L424.85,45.80 L425.51,45.80 L426.17,45.80 L426.83,45.80 L427.49,45.80 L428.15,45.80 L428.81,45.80 L429.47,45.80 L430.13,45.80 L430.79,45.80 L431.45,45.80 L432.11,45.80 L432.77,45.80 L433.43,45.80 L434.09,45.80 L434.76,45.80 L435.42,45.80 L436.08,45.80 L436.74,45.80 L437.40,45.80 L438.06,45.80 L438.72,45.80 L439.38,45.80 L440.04,45.80 L440.70,45.80 L441.36,45.80 L442.02,45.80 L442.68,45.80 L443.34,45.80 L444.00,45.80 L444.67,45.80 L445.33,45.80 L445.99,45.80 L446.65,45.80 L447.31,45.80 L447.97,45.80 L448.63,45.80 L449.29,45.80 L449.95,45.80 L450.61,45.80 L451.27,45.80 L451.93,45.80 L452.59,45.80 L453.25,45.80 L453.91,45.80 L454.58,45.80 L455.24,45.80 L455.90,45.80 L456.56,45.80 L457.22,45.80 L457.88,45.80 L458.54,45.80 L459.20,45.80" fill="none" stroke="#0a0a0a" stroke-width="2.1" stroke-linejoin="round" stroke-linecap="butt"  clip-path="url(#ca10)"/>
<path d="M290.73,103.29 L291.39,103.19 L292.05,103.09 L292.71,102.97 L293.37,102.85 L294.03,102.72 L294.69,102.58 L295.35,102.44 L296.02,102.29 L296.68,102.15 L297.34,102.00 L298.00,101.85 L298.66,101.71 L299.32,101.57 L299.98,101.45 L300.64,101.33 L301.30,101.23 L301.96,101.15 L302.62,101.08 L303.28,101.03 L303.94,101.00 L304.60,101.00 L305.26,101.01 L305.93,101.04 L306.59,101.09 L307.25,101.16 L307.91,101.25 L308.57,101.36 L309.23,101.47 L309.89,101.60 L310.55,101.74 L311.21,101.88 L311.87,102.03 L312.53,102.18 L313.19,102.32 L313.85,102.47 L314.51,102.61 L315.17,102.75 L315.84,102.87 L316.50,102.99 L317.16,103.11 L317.82,103.21 L318.48,103.30 L319.14,103.39 L319.80,103.47 L320.46,103.53 L321.12,103.59 L321.78,103.64 L322.44,103.69 L323.10,103.73 L323.76,103.76 L324.42,103.78 L325.08,103.81" fill="none" stroke="#767676" stroke-width="2.3" stroke-linejoin="round" stroke-linecap="butt" stroke-dasharray="2.0 2.0" clip-path="url(#ca11)"/>
<path d="M356.14,103.90 L356.80,103.90 L357.46,103.90 L358.12,103.90 L358.78,103.90 L359.44,103.90 L360.10,103.90 L360.76,103.90 L361.42,103.90 L362.08,103.90 L362.74,103.90 L363.40,103.90 L364.06,103.90 L364.72,103.90 L365.39,103.90 L366.05,103.90 L366.71,103.90 L367.37,103.90 L368.03,103.90 L368.69,103.90 L369.35,103.90 L370.01,103.90 L370.67,103.90 L371.33,103.90 L371.99,103.90 L372.65,103.90 L373.31,103.90 L373.97,103.90 L374.63,103.90 L375.30,103.90 L375.96,103.90 L376.62,103.90 L377.28,103.90 L377.94,103.90 L378.60,103.90 L379.26,103.90 L379.92,103.90 L380.58,103.90 L381.24,103.90 L381.90,103.90 L382.56,103.90 L383.22,103.90 L383.88,103.90 L384.54,103.90 L385.21,103.90 L385.87,103.90 L386.53,103.90 L387.19,103.90 L387.85,103.90 L388.51,103.90 L389.17,103.90 L389.83,103.90 L390.49,103.90 L391.15,103.90 L391.81,103.90 L392.47,103.90 L393.13,103.90 L393.79,103.90 L394.45,103.90 L395.12,103.90 L395.78,103.90 L396.44,103.90 L397.10,103.90 L397.76,103.90 L398.42,103.90 L399.08,103.90 L399.74,103.90 L400.40,103.90 L401.06,103.90 L401.72,103.90 L402.38,103.90 L403.04,103.90 L403.70,103.90 L404.36,103.90 L405.03,103.90 L405.69,103.90 L406.35,103.90 L407.01,103.90 L407.67,103.90 L408.33,103.90 L408.99,103.90 L409.65,103.90 L410.31,103.90 L410.97,103.90 L411.63,103.90" fill="none" stroke="#767676" stroke-width="2.3" stroke-linejoin="round" stroke-linecap="butt" stroke-dasharray="2.0 2.0" clip-path="url(#ca11)"/>
<path d="M261.00,103.90 L261.66,103.90 L262.32,103.90 L262.98,103.90 L263.64,103.90 L264.30,103.90 L264.96,103.90 L265.62,103.90 L266.29,103.90 L266.95,103.90 L267.61,103.90 L268.27,103.90 L268.93,103.90 L269.59,103.90 L270.25,103.90 L270.91,103.90 L271.57,103.90 L272.23,103.90 L272.89,103.90 L273.55,103.90 L274.21,103.90 L274.87,103.90 L275.53,103.90 L276.20,103.90 L276.86,103.90 L277.52,103.90 L278.18,103.90 L278.84,103.90 L279.50,103.90 L280.16,103.90 L280.82,103.90 L281.48,103.90 L282.14,103.90 L282.80,103.90 L283.46,103.90 L284.12,103.90 L284.78,103.90 L285.44,103.90 L286.11,103.90 L286.77,103.90 L287.43,103.90 L288.09,103.90 L288.75,103.90 L289.41,103.90 L290.07,103.90 L290.73,103.90 L291.39,103.90 L292.05,103.90 L292.71,103.90 L293.37,103.90 L294.03,103.90 L294.69,103.90 L295.35,103.90 L296.02,103.90 L296.68,103.90 L297.34,103.90 L298.00,103.90 L298.66,103.90 L299.32,103.90 L299.98,103.90 L300.64,103.90 L301.30,103.90 L301.96,103.90 L302.62,103.90 L303.28,103.90 L303.94,103.90 L304.60,103.90 L305.26,103.90 L305.93,103.90 L306.59,103.90 L307.25,103.90 L307.91,103.90 L308.57,103.90 L309.23,103.90 L309.89,103.91 L310.55,103.93 L311.21,103.97 L311.87,104.05 L312.53,104.19 L313.19,104.42 L313.85,104.79 L314.51,105.32 L315.17,106.02 L315.84,106.84 L316.50,107.72 L317.16,108.53 L317.82,109.14 L318.48,109.43 L319.14,109.35 L319.80,108.91 L320.46,108.21 L321.12,107.36 L321.78,106.49 L322.44,105.71 L323.10,105.08 L323.76,104.62 L324.42,104.31 L325.08,104.12 L325.75,104.01 L326.41,103.95 L327.07,103.92 L327.73,103.91 L328.39,103.90 L329.05,103.90 L329.71,103.90 L330.37,103.90 L331.03,103.90 L331.69,103.90 L332.35,103.90 L333.01,103.90 L333.67,103.90 L334.33,103.90 L334.99,103.90 L335.66,103.90 L336.32,103.90 L336.98,103.90 L337.64,103.90 L338.30,103.90 L338.96,103.90 L339.62,103.90 L340.28,103.90 L340.94,103.90 L341.60,103.90 L342.26,103.90 L342.92,103.90 L343.58,103.90 L344.24,103.90 L344.90,103.90 L345.57,103.90 L346.23,103.90 L346.89,103.90 L347.55,103.90 L348.21,103.90 L348.87,103.90 L349.53,103.90 L350.19,103.90 L350.85,103.91 L351.51,103.91 L352.17,103.92 L352.83,103.94 L353.49,103.96 L354.15,104.00 L354.81,104.05 L355.48,104.14 L356.14,104.27 L356.80,104.46 L357.46,104.72 L358.12,105.07 L358.78,105.55 L359.44,106.16 L360.10,106.95 L360.76,107.92 L361.42,109.08 L362.08,110.44 L362.74,111.97 L363.40,113.65 L364.06,115.43 L364.72,117.24 L365.39,119.00 L366.05,120.62 L366.71,122.02 L367.37,123.10 L368.03,123.80 L368.69,124.06 L369.35,123.86 L370.01,123.19 L370.67,122.10 L371.33,120.62 L371.99,118.83 L372.65,116.81 L373.31,114.64 L373.97,112.40 L374.63,110.17 L375.30,108.00 L375.96,105.92 L376.62,103.96 L377.28,102.13 L377.94,100.43 L378.60,98.85 L379.26,97.37 L379.92,95.98 L380.58,94.67 L381.24,93.43 L381.90,92.26 L382.56,91.15 L383.22,90.12 L383.88,89.16 L384.54,88.30 L385.21,87.53 L385.87,86.89 L386.53,86.37 L387.19,85.99 L387.85,85.76 L388.51,85.69 L389.17,85.74 L389.83,85.89 L390.49,86.15 L391.15,86.50 L391.81,86.94 L392.47,87.47 L393.13,88.07 L393.79,88.73 L394.45,89.45 L395.12,90.22 L395.78,91.02 L396.44,91.84 L397.10,92.67 L397.76,93.51 L398.42,94.33 L399.08,95.15 L399.74,95.94 L400.40,96.70 L401.06,97.42 L401.72,98.10 L402.38,98.75 L403.04,99.34 L403.70,99.89 L404.36,100.40 L405.03,100.86 L405.69,101.27 L406.35,101.64 L407.01,101.97 L407.67,102.26 L408.33,102.52 L408.99,102.74 L409.65,102.93 L410.31,103.09 L410.97,103.23 L411.63,103.35 L412.29,103.45 L412.95,103.54 L413.61,103.61 L414.27,103.67 L414.94,103.71 L415.60,103.75 L416.26,103.78 L416.92,103.81 L417.58,103.83 L418.24,103.84 L418.90,103.86 L419.56,103.87 L420.22,103.88 L420.88,103.88 L421.54,103.89 L422.20,103.89 L422.86,103.89 L423.52,103.89 L424.18,103.90 L424.85,103.90 L425.51,103.90 L426.17,103.90 L426.83,103.90 L427.49,103.90 L428.15,103.90 L428.81,103.90 L429.47,103.90 L430.13,103.90 L430.79,103.90 L431.45,103.90 L432.11,103.90 L432.77,103.90 L433.43,103.90 L434.09,103.90 L434.76,103.90 L435.42,103.90 L436.08,103.90 L436.74,103.90 L437.40,103.90 L438.06,103.90 L438.72,103.90 L439.38,103.90 L440.04,103.90 L440.70,103.90 L441.36,103.90 L442.02,103.90 L442.68,103.90 L443.34,103.90 L444.00,103.90 L444.67,103.90 L445.33,103.90 L445.99,103.90 L446.65,103.90 L447.31,103.90 L447.97,103.90 L448.63,103.90 L449.29,103.90 L449.95,103.90 L450.61,103.90 L451.27,103.90 L451.93,103.90 L452.59,103.90 L453.25,103.90 L453.91,103.90 L454.58,103.90 L455.24,103.90 L455.90,103.90 L456.56,103.90 L457.22,103.90 L457.88,103.90 L458.54,103.90 L459.20,103.90" fill="none" stroke="#0a0a0a" stroke-width="2.1" stroke-linejoin="round" stroke-linecap="butt"  clip-path="url(#ca11)"/>
<path d="M283.46,187.76 L284.12,187.62 L284.78,187.46 L285.44,187.26 L286.11,187.03 L286.77,186.75 L287.43,186.43 L288.09,186.06 L288.75,185.64 L289.41,185.15 L290.07,184.61 L290.73,184.00 L291.39,183.33 L292.05,182.59 L292.71,181.79 L293.37,180.93 L294.03,180.02 L294.69,179.06 L295.35,178.06 L296.02,177.04 L296.68,176.00 L297.34,174.96 L298.00,173.93 L298.66,172.94 L299.32,171.99 L299.98,171.11 L300.64,170.31 L301.30,169.60 L301.96,169.01 L302.62,168.53 L303.28,168.19 L303.94,167.99 L304.60,167.93 L305.26,168.02 L305.93,168.25 L306.59,168.62 L307.25,169.11 L307.91,169.73 L308.57,170.46 L309.23,171.27 L309.89,172.17 L310.55,173.13 L311.21,174.13 L311.87,175.16 L312.53,176.20 L313.19,177.24 L313.85,178.26 L314.51,179.25 L315.17,180.20 L315.84,181.10 L316.50,181.95 L317.16,182.74 L317.82,183.46 L318.48,184.12 L319.14,184.72 L319.80,185.25 L320.46,185.72 L321.12,186.14 L321.78,186.50 L322.44,186.81 L323.10,187.07 L323.76,187.30 L324.42,187.49 L325.08,187.65 L325.75,187.78 L326.41,187.89" fill="none" stroke="#767676" stroke-width="2.3" stroke-linejoin="round" stroke-linecap="butt" stroke-dasharray="2.0 2.0" clip-path="url(#ca12)"/>
<path d="M356.80,188.30 L357.46,188.30 L358.12,188.30 L358.78,188.30 L359.44,188.30 L360.10,188.30 L360.76,188.30 L361.42,188.30 L362.08,188.30 L362.74,188.30 L363.40,188.30 L364.06,188.30 L364.72,188.30 L365.39,188.30 L366.05,188.30 L366.71,188.30 L367.37,188.30 L368.03,188.30 L368.69,188.30 L369.35,188.30 L370.01,188.30 L370.67,188.30 L371.33,188.30 L371.99,188.30 L372.65,188.30 L373.31,188.30 L373.97,188.30 L374.63,188.30 L375.30,188.30 L375.96,188.30 L376.62,188.30 L377.28,188.30 L377.94,188.30 L378.60,188.30 L379.26,188.30 L379.92,188.30 L380.58,188.30 L381.24,188.30 L381.90,188.30 L382.56,188.30 L383.22,188.30 L383.88,188.30 L384.54,188.30 L385.21,188.30 L385.87,188.30 L386.53,188.30 L387.19,188.30 L387.85,188.30 L388.51,188.30 L389.17,188.30 L389.83,188.30 L390.49,188.30 L391.15,188.30 L391.81,188.30 L392.47,188.30 L393.13,188.30 L393.79,188.30 L394.45,188.30 L395.12,188.30 L395.78,188.30 L396.44,188.30 L397.10,188.30 L397.76,188.30 L398.42,188.30 L399.08,188.30 L399.74,188.30 L400.40,188.30 L401.06,188.30 L401.72,188.30 L402.38,188.30 L403.04,188.30 L403.70,188.30 L404.36,188.30 L405.03,188.30 L405.69,188.30 L406.35,188.30 L407.01,188.30 L407.67,188.30 L408.33,188.30 L408.99,188.30 L409.65,188.30 L410.31,188.30 L410.97,188.30 L411.63,188.30 L412.29,188.30 L412.95,188.30" fill="none" stroke="#767676" stroke-width="2.3" stroke-linejoin="round" stroke-linecap="butt" stroke-dasharray="2.0 2.0" clip-path="url(#ca12)"/>
<path d="M261.00,188.30 L261.66,188.30 L262.32,188.30 L262.98,188.30 L263.64,188.30 L264.30,188.30 L264.96,188.30 L265.62,188.30 L266.29,188.30 L266.95,188.30 L267.61,188.30 L268.27,188.30 L268.93,188.30 L269.59,188.30 L270.25,188.30 L270.91,188.30 L271.57,188.30 L272.23,188.30 L272.89,188.30 L273.55,188.30 L274.21,188.30 L274.87,188.30 L275.53,188.30 L276.20,188.30 L276.86,188.30 L277.52,188.30 L278.18,188.30 L278.84,188.30 L279.50,188.30 L280.16,188.30 L280.82,188.30 L281.48,188.30 L282.14,188.30 L282.80,188.30 L283.46,188.30 L284.12,188.30 L284.78,188.30 L285.44,188.30 L286.11,188.30 L286.77,188.30 L287.43,188.30 L288.09,188.30 L288.75,188.30 L289.41,188.30 L290.07,188.30 L290.73,188.30 L291.39,188.30 L292.05,188.30 L292.71,188.30 L293.37,188.30 L294.03,188.30 L294.69,188.30 L295.35,188.30 L296.02,188.30 L296.68,188.30 L297.34,188.30 L298.00,188.30 L298.66,188.30 L299.32,188.30 L299.98,188.30 L300.64,188.30 L301.30,188.30 L301.96,188.30 L302.62,188.30 L303.28,188.30 L303.94,188.30 L304.60,188.30 L305.26,188.30 L305.93,188.30 L306.59,188.30 L307.25,188.30 L307.91,188.30 L308.57,188.30 L309.23,188.30 L309.89,188.31 L310.55,188.32 L311.21,188.35 L311.87,188.40 L312.53,188.50 L313.19,188.66 L313.85,188.92 L314.51,189.29 L315.17,189.77 L315.84,190.35 L316.50,190.96 L317.16,191.52 L317.82,191.94 L318.48,192.14 L319.14,192.09 L319.80,191.79 L320.46,191.29 L321.12,190.70 L321.78,190.10 L322.44,189.56 L323.10,189.12 L323.76,188.80 L324.42,188.58 L325.08,188.45 L325.75,188.37 L326.41,188.33 L327.07,188.31 L327.73,188.31 L328.39,188.30 L329.05,188.30 L329.71,188.30 L330.37,188.30 L331.03,188.30 L331.69,188.30 L332.35,188.30 L333.01,188.30 L333.67,188.30 L334.33,188.30 L334.99,188.30 L335.66,188.30 L336.32,188.30 L336.98,188.30 L337.64,188.30 L338.30,188.30 L338.96,188.30 L339.62,188.30 L340.28,188.30 L340.94,188.30 L341.60,188.30 L342.26,188.30 L342.92,188.30 L343.58,188.30 L344.24,188.30 L344.90,188.30 L345.57,188.30 L346.23,188.30 L346.89,188.30 L347.55,188.30 L348.21,188.30 L348.87,188.30 L349.53,188.30 L350.19,188.30 L350.85,188.30 L351.51,188.31 L352.17,188.31 L352.83,188.32 L353.49,188.34 L354.15,188.36 L354.81,188.40 L355.48,188.46 L356.14,188.55 L356.80,188.67 L357.46,188.84 L358.12,189.08 L358.78,189.39 L359.44,189.80 L360.10,190.32 L360.76,190.96 L361.42,191.73 L362.08,192.63 L362.74,193.64 L363.40,194.75 L364.06,195.91 L364.72,197.09 L365.39,198.23 L366.05,199.27 L366.71,200.14 L367.37,200.78 L368.03,201.15 L368.69,201.20 L369.35,200.92 L370.01,200.30 L370.67,199.36 L371.33,198.12 L371.99,196.63 L372.65,194.93 L373.31,193.09 L373.97,191.14 L374.63,189.13 L375.30,187.11 L375.96,185.08 L376.62,183.08 L377.28,181.10 L377.94,179.15 L378.60,177.23 L379.26,175.34 L379.92,173.48 L380.58,171.65 L381.24,169.87 L381.90,168.14 L382.56,166.47 L383.22,164.90 L383.88,163.44 L384.54,162.11 L385.21,160.95 L385.87,159.97 L386.53,159.19 L387.19,158.63 L387.85,158.30 L388.51,158.21 L389.17,158.32 L389.83,158.61 L390.49,159.08 L391.15,159.70 L391.81,160.48 L392.47,161.40 L393.13,162.45 L393.79,163.60 L394.45,164.84 L395.12,166.15 L395.78,167.52 L396.44,168.91 L397.10,170.32 L397.76,171.72 L398.42,173.11 L399.08,174.47 L399.74,175.77 L400.40,177.03 L401.06,178.21 L401.72,179.33 L402.38,180.37 L403.04,181.33 L403.70,182.21 L404.36,183.01 L405.03,183.74 L405.69,184.38 L406.35,184.96 L407.01,185.47 L407.67,185.91 L408.33,186.30 L408.99,186.63 L409.65,186.92 L410.31,187.16 L410.97,187.37 L411.63,187.54 L412.29,187.69 L412.95,187.81 L413.61,187.91 L414.27,187.99 L414.94,188.05 L415.60,188.11 L416.26,188.15 L416.92,188.18 L417.58,188.21 L418.24,188.23 L418.90,188.25 L419.56,188.26 L420.22,188.27 L420.88,188.28 L421.54,188.28 L422.20,188.29 L422.86,188.29 L423.52,188.29 L424.18,188.30 L424.85,188.30 L425.51,188.30 L426.17,188.30 L426.83,188.30 L427.49,188.30 L428.15,188.30 L428.81,188.30 L429.47,188.30 L430.13,188.30 L430.79,188.30 L431.45,188.30 L432.11,188.30 L432.77,188.30 L433.43,188.30 L434.09,188.30 L434.76,188.30 L435.42,188.30 L436.08,188.30 L436.74,188.30 L437.40,188.30 L438.06,188.30 L438.72,188.30 L439.38,188.30 L440.04,188.30 L440.70,188.30 L441.36,188.30 L442.02,188.30 L442.68,188.30 L443.34,188.30 L444.00,188.30 L444.67,188.30 L445.33,188.30 L445.99,188.30 L446.65,188.30 L447.31,188.30 L447.97,188.30 L448.63,188.30 L449.29,188.30 L449.95,188.30 L450.61,188.30 L451.27,188.30 L451.93,188.30 L452.59,188.30 L453.25,188.30 L453.91,188.30 L454.58,188.30 L455.24,188.30 L455.90,188.30 L456.56,188.30 L457.22,188.30 L457.88,188.30 L458.54,188.30 L459.20,188.30" fill="none" stroke="#0a0a0a" stroke-width="2.1" stroke-linejoin="round" stroke-linecap="butt"  clip-path="url(#ca12)"/>
<path d="M521.57,47.66 L522.23,47.52 L522.89,47.36 L523.55,47.18 L524.22,46.95 L524.88,46.69 L525.54,46.39 L526.20,46.04 L526.86,45.64 L527.52,45.19 L528.19,44.69 L528.85,44.14 L529.51,43.53 L530.17,42.86 L530.83,42.14 L531.49,41.38 L532.15,40.58 L532.82,39.74 L533.48,38.87 L534.14,37.99 L534.80,37.10 L535.46,36.23 L536.12,35.37 L536.79,34.56 L537.45,33.79 L538.11,33.09 L538.77,32.47 L539.43,31.94 L540.10,31.51 L540.76,31.19 L541.42,30.98 L542.08,30.90 L542.74,30.94 L543.40,31.11 L544.07,31.39 L544.73,31.78 L545.39,32.28 L546.05,32.88 L546.71,33.55 L547.37,34.30 L548.03,35.10 L548.70,35.94 L549.36,36.81 L550.02,37.70 L550.68,38.58 L551.34,39.45 L552.00,40.30 L552.67,41.12 L553.33,41.90 L553.99,42.63 L554.65,43.31 L555.31,43.94 L555.98,44.51 L556.64,45.03 L557.30,45.50 L557.96,45.91 L558.62,46.28 L559.28,46.60 L559.95,46.87 L560.61,47.11 L561.27,47.31 L561.93,47.47 L562.59,47.62" fill="none" stroke="#767676" stroke-width="2.3" stroke-linejoin="round" stroke-linecap="butt" stroke-dasharray="2.0 2.0" clip-path="url(#ca20)"/>
<path d="M605.60,48.20 L606.26,48.20 L606.92,48.20 L607.59,48.20 L608.25,48.20 L608.91,48.20 L609.57,48.20 L610.23,48.20 L610.89,48.20 L611.56,48.20 L612.22,48.20 L612.88,48.20 L613.54,48.20 L614.20,48.20 L614.86,48.20 L615.53,48.20 L616.19,48.20 L616.85,48.20 L617.51,48.20 L618.17,48.20 L618.83,48.20 L619.50,48.20 L620.16,48.20 L620.82,48.20 L621.48,48.20 L622.14,48.20 L622.80,48.20 L623.47,48.20 L624.13,48.20 L624.79,48.20 L625.45,48.20 L626.11,48.20 L626.77,48.20 L627.44,48.20 L628.10,48.20 L628.76,48.20 L629.42,48.20 L630.08,48.20 L630.74,48.20 L631.41,48.20 L632.07,48.20 L632.73,48.20 L633.39,48.20 L634.05,48.20 L634.71,48.20 L635.38,48.20 L636.04,48.20 L636.70,48.20 L637.36,48.20 L638.02,48.20 L638.68,48.20 L639.35,48.20 L640.01,48.20 L640.67,48.20 L641.33,48.20 L641.99,48.20 L642.65,48.20 L643.32,48.20 L643.98,48.20 L644.64,48.20 L645.30,48.20 L645.96,48.20 L646.62,48.20 L647.29,48.20" fill="none" stroke="#767676" stroke-width="2.3" stroke-linejoin="round" stroke-linecap="butt" stroke-dasharray="2.0 2.0" clip-path="url(#ca20)"/>
<path d="M486.50,48.20 L487.16,48.20 L487.82,48.20 L488.49,48.20 L489.15,48.20 L489.81,48.20 L490.47,48.20 L491.13,48.20 L491.79,48.20 L492.45,48.20 L493.12,48.20 L493.78,48.20 L494.44,48.20 L495.10,48.20 L495.76,48.20 L496.43,48.20 L497.09,48.20 L497.75,48.20 L498.41,48.20 L499.07,48.20 L499.73,48.20 L500.39,48.20 L501.06,48.20 L501.72,48.20 L502.38,48.20 L503.04,48.20 L503.70,48.20 L504.37,48.20 L505.03,48.20 L505.69,48.20 L506.35,48.20 L507.01,48.20 L507.67,48.20 L508.33,48.20 L509.00,48.20 L509.66,48.20 L510.32,48.20 L510.98,48.20 L511.64,48.20 L512.31,48.20 L512.97,48.20 L513.63,48.20 L514.29,48.20 L514.95,48.20 L515.61,48.20 L516.27,48.20 L516.94,48.20 L517.60,48.20 L518.26,48.20 L518.92,48.20 L519.58,48.20 L520.25,48.20 L520.91,48.20 L521.57,48.20 L522.23,48.20 L522.89,48.20 L523.55,48.20 L524.22,48.20 L524.88,48.20 L525.54,48.20 L526.20,48.20 L526.86,48.20 L527.52,48.20 L528.19,48.20 L528.85,48.20 L529.51,48.20 L530.17,48.20 L530.83,48.20 L531.49,48.20 L532.15,48.20 L532.82,48.20 L533.48,48.20 L534.14,48.20 L534.80,48.20 L535.46,48.20 L536.12,48.20 L536.79,48.20 L537.45,48.20 L538.11,48.20 L538.77,48.20 L539.43,48.20 L540.10,48.20 L540.76,48.20 L541.42,48.20 L542.08,48.20 L542.74,48.20 L543.40,48.20 L544.07,48.20 L544.73,48.20 L545.39,48.20 L546.05,48.20 L546.71,48.20 L547.37,48.20 L548.03,48.20 L548.70,48.20 L549.36,48.20 L550.02,48.20 L550.68,48.20 L551.34,48.20 L552.00,48.20 L552.67,48.20 L553.33,48.20 L553.99,48.20 L554.65,48.20 L555.31,48.20 L555.98,48.20 L556.64,48.20 L557.30,48.20 L557.96,48.20 L558.62,48.20 L559.28,48.20 L559.95,48.20 L560.61,48.20 L561.27,48.20 L561.93,48.20 L562.59,48.20 L563.25,48.20 L563.91,48.20 L564.58,48.20 L565.24,48.20 L565.90,48.20 L566.56,48.20 L567.22,48.20 L567.88,48.20 L568.55,48.20 L569.21,48.20 L569.87,48.20 L570.53,48.20 L571.19,48.20 L571.86,48.20 L572.52,48.20 L573.18,48.20 L573.84,48.20 L574.50,48.20 L575.16,48.20 L575.83,48.20 L576.49,48.20 L577.15,48.20 L577.81,48.20 L578.47,48.20 L579.13,48.20 L579.79,48.20 L580.46,48.20 L581.12,48.20 L581.78,48.20 L582.44,48.20 L583.10,48.20 L583.76,48.20 L584.43,48.20 L585.09,48.20 L585.75,48.20 L586.41,48.20 L587.07,48.20 L587.74,48.20 L588.40,48.20 L589.06,48.20 L589.72,48.20 L590.38,48.20 L591.04,48.20 L591.71,48.20 L592.37,48.20 L593.03,48.20 L593.69,48.20 L594.35,48.20 L595.01,48.19 L595.67,48.19 L596.34,48.19 L597.00,48.18 L597.66,48.18 L598.32,48.17 L598.98,48.16 L599.64,48.15 L600.31,48.13 L600.97,48.10 L601.63,48.08 L602.29,48.04 L602.95,47.99 L603.62,47.93 L604.28,47.86 L604.94,47.77 L605.60,47.66 L606.26,47.53 L606.92,47.37 L607.59,47.18 L608.25,46.96 L608.91,46.70 L609.57,46.40 L610.23,46.06 L610.89,45.66 L611.56,45.22 L612.22,44.72 L612.88,44.16 L613.54,43.56 L614.20,42.89 L614.86,42.18 L615.53,41.42 L616.19,40.62 L616.85,39.78 L617.51,38.91 L618.17,38.03 L618.83,37.15 L619.50,36.27 L620.16,35.41 L620.82,34.60 L621.48,33.83 L622.14,33.12 L622.80,32.50 L623.47,31.96 L624.13,31.52 L624.79,31.20 L625.45,30.99 L626.11,30.90 L626.77,30.94 L627.44,31.10 L628.10,31.37 L628.76,31.76 L629.42,32.26 L630.08,32.85 L630.74,33.52 L631.41,34.26 L632.07,35.06 L632.73,35.90 L633.39,36.77 L634.05,37.65 L634.71,38.54 L635.38,39.41 L636.04,40.26 L636.70,41.08 L637.36,41.86 L638.02,42.59 L638.68,43.28 L639.35,43.91 L640.01,44.49 L640.67,45.01 L641.33,45.48 L641.99,45.90 L642.65,46.26 L643.32,46.58 L643.98,46.86 L644.64,47.09 L645.30,47.30 L645.96,47.47 L646.62,47.61 L647.29,47.73 L647.95,47.82 L648.61,47.90 L649.27,47.97 L649.93,48.02 L650.59,48.06 L651.26,48.09 L651.92,48.12 L652.58,48.14 L653.24,48.15 L653.90,48.17 L654.56,48.17 L655.23,48.18 L655.89,48.19 L656.55,48.19 L657.21,48.19 L657.87,48.19 L658.53,48.20 L659.20,48.20 L659.86,48.20 L660.52,48.20 L661.18,48.20 L661.84,48.20 L662.50,48.20 L663.17,48.20 L663.83,48.20 L664.49,48.20 L665.15,48.20 L665.81,48.20 L666.47,48.20 L667.14,48.20 L667.80,48.20 L668.46,48.20 L669.12,48.20 L669.78,48.20 L670.44,48.20 L671.11,48.20 L671.77,48.20 L672.43,48.20 L673.09,48.20 L673.75,48.20 L674.41,48.20 L675.08,48.20 L675.74,48.20 L676.40,48.20 L677.06,48.20 L677.72,48.20 L678.38,48.20 L679.05,48.20 L679.71,48.20 L680.37,48.20 L681.03,48.20 L681.69,48.20 L682.35,48.20 L683.02,48.20 L683.68,48.20 L684.34,48.20 L685.00,48.20" fill="none" stroke="#0a0a0a" stroke-width="2.1" stroke-linejoin="round" stroke-linecap="butt"  clip-path="url(#ca20)"/>
<path d="M509.66,104.21 L510.32,104.36 L510.98,104.59 L511.64,104.90 L512.31,105.31 L512.97,105.86 L513.63,106.57 L514.29,107.45 L514.95,108.53 L515.61,109.80 L516.27,111.26 L516.94,112.88 L517.60,114.62 L518.26,116.42 L518.92,118.22 L519.58,119.92 L520.25,121.43 L520.91,122.66 L521.57,123.54 L522.23,124.00 L522.89,124.01 L523.55,123.55 L524.22,122.64 L524.88,121.32 L525.54,119.66 L526.20,117.73 L526.86,115.62 L527.52,113.40 L528.19,111.16 L528.85,108.95 L529.51,106.83 L530.17,104.81 L530.83,102.93 L531.49,101.17 L532.15,99.53 L532.82,98.01 L533.48,96.58 L534.14,95.24 L534.80,93.97 L535.46,92.77 L536.12,91.63 L536.79,90.56 L537.45,89.57 L538.11,88.66 L538.77,87.85 L539.43,87.16 L540.10,86.58 L540.76,86.14 L541.42,85.85 L542.08,85.70 L542.74,85.70 L543.40,85.81 L544.07,86.02 L544.73,86.33 L545.39,86.74 L546.05,87.23 L546.71,87.80 L547.37,88.44 L548.03,89.14 L548.70,89.88 L549.36,90.67 L550.02,91.48 L550.68,92.31 L551.34,93.15 L552.00,93.98 L552.67,94.80 L553.33,95.60 L553.99,96.37 L554.65,97.11 L555.31,97.82 L555.98,98.48 L556.64,99.09 L557.30,99.66 L557.96,100.19 L558.62,100.67 L559.28,101.10 L559.95,101.49 L560.61,101.83 L561.27,102.14 L561.93,102.41 L562.59,102.65 L563.25,102.85 L563.91,103.03 L564.58,103.18 L565.24,103.31 L565.90,103.41 L566.56,103.50 L567.22,103.58 L567.88,103.64 L568.55,103.69 L569.21,103.74 L569.87,103.77 L570.53,103.80 L571.19,103.82 L571.86,103.84 L572.52,103.85 L573.18,103.86 L573.84,103.87 L574.50,103.88 L575.16,103.88 L575.83,103.89 L576.49,103.89 L577.15,103.89 L577.81,103.90 L578.47,103.90 L579.13,103.90 L579.79,103.90 L580.46,103.90 L581.12,103.90 L581.78,103.90 L582.44,103.90 L583.10,103.90 L583.76,103.90 L584.43,103.90 L585.09,103.90 L585.75,103.90 L586.41,103.90 L587.07,103.90 L587.74,103.90 L588.40,103.90 L589.06,103.90" fill="none" stroke="#767676" stroke-width="2.3" stroke-linejoin="round" stroke-linecap="butt" stroke-dasharray="2.0 2.0" clip-path="url(#ca21)"/>
<path d="M605.60,103.90 L606.26,103.90 L606.92,103.90 L607.59,103.90 L608.25,103.90 L608.91,103.90 L609.57,103.90 L610.23,103.90 L610.89,103.90 L611.56,103.90 L612.22,103.90 L612.88,103.90 L613.54,103.90 L614.20,103.90 L614.86,103.90 L615.53,103.90 L616.19,103.90 L616.85,103.90 L617.51,103.90 L618.17,103.90 L618.83,103.90 L619.50,103.90 L620.16,103.90 L620.82,103.90 L621.48,103.90 L622.14,103.90 L622.80,103.90 L623.47,103.90 L624.13,103.90 L624.79,103.90 L625.45,103.90 L626.11,103.90 L626.77,103.90 L627.44,103.90 L628.10,103.90 L628.76,103.90 L629.42,103.90 L630.08,103.90 L630.74,103.90 L631.41,103.90 L632.07,103.90 L632.73,103.90 L633.39,103.90 L634.05,103.90 L634.71,103.90 L635.38,103.90 L636.04,103.90 L636.70,103.90 L637.36,103.90 L638.02,103.90 L638.68,103.90 L639.35,103.90 L640.01,103.90 L640.67,103.90 L641.33,103.90 L641.99,103.90 L642.65,103.90 L643.32,103.90 L643.98,103.90 L644.64,103.90 L645.30,103.90 L645.96,103.90 L646.62,103.90 L647.29,103.90 L647.95,103.90 L648.61,103.90 L649.27,103.90" fill="none" stroke="#767676" stroke-width="2.3" stroke-linejoin="round" stroke-linecap="butt" stroke-dasharray="2.0 2.0" clip-path="url(#ca21)"/>
<path d="M486.50,103.90 L487.16,103.90 L487.82,103.90 L488.49,103.90 L489.15,103.90 L489.81,103.90 L490.47,103.90 L491.13,103.90 L491.79,103.90 L492.45,103.90 L493.12,103.90 L493.78,103.90 L494.44,103.90 L495.10,103.90 L495.76,103.90 L496.43,103.90 L497.09,103.90 L497.75,103.90 L498.41,103.90 L499.07,103.90 L499.73,103.90 L500.39,103.90 L501.06,103.90 L501.72,103.90 L502.38,103.90 L503.04,103.90 L503.70,103.90 L504.37,103.90 L505.03,103.90 L505.69,103.90 L506.35,103.90 L507.01,103.90 L507.67,103.90 L508.33,103.90 L509.00,103.90 L509.66,103.90 L510.32,103.90 L510.98,103.90 L511.64,103.90 L512.31,103.90 L512.97,103.90 L513.63,103.90 L514.29,103.90 L514.95,103.90 L515.61,103.90 L516.27,103.90 L516.94,103.90 L517.60,103.90 L518.26,103.90 L518.92,103.90 L519.58,103.90 L520.25,103.90 L520.91,103.90 L521.57,103.90 L522.23,103.90 L522.89,103.90 L523.55,103.90 L524.22,103.90 L524.88,103.90 L525.54,103.90 L526.20,103.90 L526.86,103.90 L527.52,103.90 L528.19,103.90 L528.85,103.90 L529.51,103.90 L530.17,103.90 L530.83,103.90 L531.49,103.90 L532.15,103.90 L532.82,103.90 L533.48,103.90 L534.14,103.90 L534.80,103.90 L535.46,103.90 L536.12,103.90 L536.79,103.90 L537.45,103.90 L538.11,103.90 L538.77,103.90 L539.43,103.90 L540.10,103.90 L540.76,103.90 L541.42,103.90 L542.08,103.90 L542.74,103.90 L543.40,103.90 L544.07,103.90 L544.73,103.90 L545.39,103.90 L546.05,103.90 L546.71,103.90 L547.37,103.90 L548.03,103.90 L548.70,103.90 L549.36,103.90 L550.02,103.90 L550.68,103.90 L551.34,103.90 L552.00,103.90 L552.67,103.90 L553.33,103.90 L553.99,103.90 L554.65,103.90 L555.31,103.90 L555.98,103.90 L556.64,103.90 L557.30,103.90 L557.96,103.90 L558.62,103.91 L559.28,103.91 L559.95,103.92 L560.61,103.94 L561.27,103.96 L561.93,104.00 L562.59,104.06 L563.25,104.15 L563.91,104.29 L564.58,104.48 L565.24,104.75 L565.90,105.12 L566.56,105.61 L567.22,106.25 L567.88,107.05 L568.55,108.05 L569.21,109.24 L569.87,110.62 L570.53,112.18 L571.19,113.89 L571.86,115.69 L572.52,117.52 L573.18,119.29 L573.84,120.93 L574.50,122.34 L575.16,123.43 L575.83,124.15 L576.49,124.45 L577.15,124.30 L577.81,123.72 L578.47,122.75 L579.13,121.44 L579.79,119.86 L580.46,118.12 L581.12,116.29 L581.78,114.46 L582.44,112.70 L583.10,111.06 L583.76,109.60 L584.43,108.32 L585.09,107.24 L585.75,106.35 L586.41,105.64 L587.07,105.08 L587.74,104.65 L588.40,104.33 L589.06,104.09 L589.72,103.92 L590.38,103.80 L591.04,103.71 L591.71,103.65 L592.37,103.60 L593.03,103.56 L593.69,103.54 L594.35,103.52 L595.01,103.50 L595.67,103.48 L596.34,103.47 L597.00,103.45 L597.66,103.44 L598.32,103.43 L598.98,103.42 L599.64,103.41 L600.31,103.40 L600.97,103.39 L601.63,103.38 L602.29,103.36 L602.95,103.34 L603.62,103.32 L604.28,103.28 L604.94,103.24 L605.60,103.19 L606.26,103.11 L606.92,103.02 L607.59,102.91 L608.25,102.76 L608.91,102.59 L609.57,102.37 L610.23,102.11 L610.89,101.80 L611.56,101.44 L612.22,101.02 L612.88,100.53 L613.54,99.98 L614.20,99.36 L614.86,98.67 L615.53,97.91 L616.19,97.09 L616.85,96.21 L617.51,95.29 L618.17,94.32 L618.83,93.33 L619.50,92.33 L620.16,91.33 L620.82,90.36 L621.48,89.44 L622.14,88.57 L622.80,87.79 L623.47,87.11 L624.13,86.54 L624.79,86.11 L625.45,85.82 L626.11,85.67 L626.77,85.67 L627.44,85.78 L628.10,85.99 L628.76,86.30 L629.42,86.70 L630.08,87.19 L630.74,87.76 L631.41,88.40 L632.07,89.09 L632.73,89.84 L633.39,90.62 L634.05,91.44 L634.71,92.27 L635.38,93.10 L636.04,93.94 L636.70,94.76 L637.36,95.56 L638.02,96.34 L638.68,97.08 L639.35,97.78 L640.01,98.45 L640.67,99.06 L641.33,99.64 L641.99,100.16 L642.65,100.65 L643.32,101.08 L643.98,101.47 L644.64,101.82 L645.30,102.13 L645.96,102.40 L646.62,102.64 L647.29,102.84 L647.95,103.02 L648.61,103.17 L649.27,103.30 L649.93,103.41 L650.59,103.50 L651.26,103.58 L651.92,103.64 L652.58,103.69 L653.24,103.73 L653.90,103.77 L654.56,103.80 L655.23,103.82 L655.89,103.84 L656.55,103.85 L657.21,103.86 L657.87,103.87 L658.53,103.88 L659.20,103.88 L659.86,103.89 L660.52,103.89 L661.18,103.89 L661.84,103.90 L662.50,103.90 L663.17,103.90 L663.83,103.90 L664.49,103.90 L665.15,103.90 L665.81,103.90 L666.47,103.90 L667.14,103.90 L667.80,103.90 L668.46,103.90 L669.12,103.90 L669.78,103.90 L670.44,103.90 L671.11,103.90 L671.77,103.90 L672.43,103.90 L673.09,103.90 L673.75,103.90 L674.41,103.90 L675.08,103.90 L675.74,103.90 L676.40,103.90 L677.06,103.90 L677.72,103.90 L678.38,103.90 L679.05,103.90 L679.71,103.90 L680.37,103.90 L681.03,103.90 L681.69,103.90 L682.35,103.90 L683.02,103.90 L683.68,103.90 L684.34,103.90 L685.00,103.90" fill="none" stroke="#0a0a0a" stroke-width="2.1" stroke-linejoin="round" stroke-linecap="butt"  clip-path="url(#ca21)"/>
<path d="M510.32,188.61 L510.98,188.76 L511.64,188.96 L512.31,189.24 L512.97,189.60 L513.63,190.07 L514.29,190.66 L514.95,191.37 L515.61,192.21 L516.27,193.17 L516.94,194.24 L517.60,195.38 L518.26,196.56 L518.92,197.73 L519.58,198.82 L520.25,199.77 L520.91,200.52 L521.57,201.02 L522.23,201.22 L522.89,201.09 L523.55,200.62 L524.22,199.82 L524.88,198.71 L525.54,197.32 L526.20,195.71 L526.86,193.92 L527.52,192.02 L528.19,190.03 L528.85,188.01 L529.51,185.98 L530.17,183.96 L530.83,181.97 L531.49,180.01 L532.15,178.07 L532.82,176.17 L533.48,174.30 L534.14,172.45 L534.80,170.65 L535.46,168.89 L536.12,167.19 L536.79,165.58 L537.45,164.07 L538.11,162.68 L538.77,161.44 L539.43,160.37 L540.10,159.50 L540.76,158.84 L541.42,158.41 L542.08,158.22 L542.74,158.25 L543.40,158.46 L544.07,158.85 L544.73,159.41 L545.39,160.13 L546.05,160.99 L546.71,161.98 L547.37,163.09 L548.03,164.29 L548.70,165.58 L549.36,166.92 L550.02,168.31 L550.68,169.71 L551.34,171.12 L552.00,172.52 L552.67,173.89 L553.33,175.22 L553.99,176.50 L554.65,177.71 L555.31,178.86 L555.98,179.93 L556.64,180.93 L557.30,181.84 L557.96,182.68 L558.62,183.44 L559.28,184.12 L559.95,184.72 L560.61,185.26 L561.27,185.73 L561.93,186.14 L562.59,186.50 L563.25,186.80 L563.91,187.07 L564.58,187.29 L565.24,187.48 L565.90,187.63 L566.56,187.76 L567.22,187.87 L567.88,187.96 L568.55,188.03 L569.21,188.09 L569.87,188.13 L570.53,188.17 L571.19,188.20 L571.86,188.22 L572.52,188.24 L573.18,188.26 L573.84,188.27 L574.50,188.27 L575.16,188.28 L575.83,188.29 L576.49,188.29 L577.15,188.29 L577.81,188.29 L578.47,188.30 L579.13,188.30 L579.79,188.30 L580.46,188.30 L581.12,188.30 L581.78,188.30 L582.44,188.30 L583.10,188.30 L583.76,188.30 L584.43,188.30 L585.09,188.30 L585.75,188.30 L586.41,188.30 L587.07,188.30 L587.74,188.30 L588.40,188.30" fill="none" stroke="#767676" stroke-width="2.3" stroke-linejoin="round" stroke-linecap="butt" stroke-dasharray="2.0 2.0" clip-path="url(#ca22)"/>
<path d="M604.28,188.30 L604.94,188.30 L605.60,188.30 L606.26,188.30 L606.92,188.30 L607.59,188.30 L608.25,188.30 L608.91,188.30 L609.57,188.30 L610.23,188.30 L610.89,188.30 L611.56,188.30 L612.22,188.30 L612.88,188.30 L613.54,188.30 L614.20,188.30 L614.86,188.30 L615.53,188.30 L616.19,188.30 L616.85,188.30 L617.51,188.30 L618.17,188.30 L618.83,188.30 L619.50,188.30 L620.16,188.30 L620.82,188.30 L621.48,188.30 L622.14,188.30 L622.80,188.30 L623.47,188.30 L624.13,188.30 L624.79,188.30 L625.45,188.30 L626.11,188.30 L626.77,188.30 L627.44,188.30 L628.10,188.30 L628.76,188.30 L629.42,188.30 L630.08,188.30 L630.74,188.30 L631.41,188.30 L632.07,188.30 L632.73,188.30 L633.39,188.30 L634.05,188.30 L634.71,188.30 L635.38,188.30 L636.04,188.30 L636.70,188.30 L637.36,188.30 L638.02,188.30 L638.68,188.30 L639.35,188.30 L640.01,188.30 L640.67,188.30 L641.33,188.30 L641.99,188.30 L642.65,188.30 L643.32,188.30 L643.98,188.30 L644.64,188.30 L645.30,188.30 L645.96,188.30 L646.62,188.30 L647.29,188.30 L647.95,188.30 L648.61,188.30 L649.27,188.30 L649.93,188.30 L650.59,188.30" fill="none" stroke="#767676" stroke-width="2.3" stroke-linejoin="round" stroke-linecap="butt" stroke-dasharray="2.0 2.0" clip-path="url(#ca22)"/>
<path d="M486.50,188.30 L487.16,188.30 L487.82,188.30 L488.49,188.30 L489.15,188.30 L489.81,188.30 L490.47,188.30 L491.13,188.30 L491.79,188.30 L492.45,188.30 L493.12,188.30 L493.78,188.30 L494.44,188.30 L495.10,188.30 L495.76,188.30 L496.43,188.30 L497.09,188.30 L497.75,188.30 L498.41,188.30 L499.07,188.30 L499.73,188.30 L500.39,188.30 L501.06,188.30 L501.72,188.30 L502.38,188.30 L503.04,188.30 L503.70,188.30 L504.37,188.30 L505.03,188.30 L505.69,188.30 L506.35,188.30 L507.01,188.30 L507.67,188.30 L508.33,188.30 L509.00,188.30 L509.66,188.30 L510.32,188.30 L510.98,188.30 L511.64,188.30 L512.31,188.30 L512.97,188.30 L513.63,188.30 L514.29,188.30 L514.95,188.30 L515.61,188.30 L516.27,188.30 L516.94,188.30 L517.60,188.30 L518.26,188.30 L518.92,188.30 L519.58,188.30 L520.25,188.30 L520.91,188.30 L521.57,188.30 L522.23,188.30 L522.89,188.30 L523.55,188.30 L524.22,188.30 L524.88,188.30 L525.54,188.30 L526.20,188.30 L526.86,188.30 L527.52,188.30 L528.19,188.30 L528.85,188.30 L529.51,188.30 L530.17,188.30 L530.83,188.30 L531.49,188.30 L532.15,188.30 L532.82,188.30 L533.48,188.30 L534.14,188.30 L534.80,188.30 L535.46,188.30 L536.12,188.30 L536.79,188.30 L537.45,188.30 L538.11,188.30 L538.77,188.30 L539.43,188.30 L540.10,188.30 L540.76,188.30 L541.42,188.30 L542.08,188.30 L542.74,188.30 L543.40,188.30 L544.07,188.30 L544.73,188.30 L545.39,188.30 L546.05,188.30 L546.71,188.30 L547.37,188.30 L548.03,188.30 L548.70,188.30 L549.36,188.30 L550.02,188.30 L550.68,188.30 L551.34,188.30 L552.00,188.30 L552.67,188.30 L553.33,188.30 L553.99,188.30 L554.65,188.30 L555.31,188.30 L555.98,188.30 L556.64,188.30 L557.30,188.30 L557.96,188.30 L558.62,188.30 L559.28,188.31 L559.95,188.31 L560.61,188.33 L561.27,188.34 L561.93,188.37 L562.59,188.41 L563.25,188.47 L563.91,188.56 L564.58,188.69 L565.24,188.88 L565.90,189.13 L566.56,189.46 L567.22,189.89 L567.88,190.44 L568.55,191.11 L569.21,191.91 L569.87,192.85 L570.53,193.91 L571.19,195.07 L571.86,196.29 L572.52,197.52 L573.18,198.73 L573.84,199.83 L574.50,200.79 L575.16,201.53 L575.83,202.02 L576.49,202.22 L577.15,202.12 L577.81,201.73 L578.47,201.06 L579.13,200.18 L579.79,199.11 L580.46,197.93 L581.12,196.69 L581.78,195.45 L582.44,194.25 L583.10,193.15 L583.76,192.16 L584.43,191.29 L585.09,190.56 L585.75,189.96 L586.41,189.47 L587.07,189.10 L587.74,188.81 L588.40,188.59 L589.06,188.43 L589.72,188.31 L590.38,188.23 L591.04,188.17 L591.71,188.12 L592.37,188.09 L593.03,188.07 L593.69,188.05 L594.35,188.03 L595.01,188.02 L595.67,188.00 L596.34,187.99 L597.00,187.98 L597.66,187.97 L598.32,187.96 L598.98,187.94 L599.64,187.93 L600.31,187.91 L600.97,187.89 L601.63,187.86 L602.29,187.82 L602.95,187.77 L603.62,187.71 L604.28,187.64 L604.94,187.54 L605.60,187.41 L606.26,187.26 L606.92,187.06 L607.59,186.83 L608.25,186.54 L608.91,186.19 L609.57,185.77 L610.23,185.28 L610.89,184.70 L611.56,184.03 L612.22,183.27 L612.88,182.40 L613.54,181.43 L614.20,180.34 L614.86,179.15 L615.53,177.86 L616.19,176.48 L616.85,175.01 L617.51,173.47 L618.17,171.88 L618.83,170.26 L619.50,168.64 L620.16,167.04 L620.82,165.48 L621.48,164.01 L622.14,162.65 L622.80,161.43 L623.47,160.37 L624.13,159.50 L624.79,158.84 L625.45,158.40 L626.11,158.20 L626.77,158.22 L627.44,158.43 L628.10,158.82 L628.76,159.37 L629.42,160.08 L630.08,160.93 L630.74,161.92 L631.41,163.03 L632.07,164.23 L632.73,165.51 L633.39,166.85 L634.05,168.24 L634.71,169.64 L635.38,171.05 L636.04,172.45 L636.70,173.82 L637.36,175.15 L638.02,176.43 L638.68,177.65 L639.35,178.81 L640.01,179.88 L640.67,180.88 L641.33,181.80 L641.99,182.64 L642.65,183.40 L643.32,184.09 L643.98,184.70 L644.64,185.23 L645.30,185.71 L645.96,186.12 L646.62,186.48 L647.29,186.79 L647.95,187.05 L648.61,187.28 L649.27,187.47 L649.93,187.62 L650.59,187.76 L651.26,187.86 L651.92,187.95 L652.58,188.03 L653.24,188.08 L653.90,188.13 L654.56,188.17 L655.23,188.20 L655.89,188.22 L656.55,188.24 L657.21,188.25 L657.87,188.27 L658.53,188.27 L659.20,188.28 L659.86,188.29 L660.52,188.29 L661.18,188.29 L661.84,188.29 L662.50,188.30 L663.17,188.30 L663.83,188.30 L664.49,188.30 L665.15,188.30 L665.81,188.30 L666.47,188.30 L667.14,188.30 L667.80,188.30 L668.46,188.30 L669.12,188.30 L669.78,188.30 L670.44,188.30 L671.11,188.30 L671.77,188.30 L672.43,188.30 L673.09,188.30 L673.75,188.30 L674.41,188.30 L675.08,188.30 L675.74,188.30 L676.40,188.30 L677.06,188.30 L677.72,188.30 L678.38,188.30 L679.05,188.30 L679.71,188.30 L680.37,188.30 L681.03,188.30 L681.69,188.30 L682.35,188.30 L683.02,188.30 L683.68,188.30 L684.34,188.30 L685.00,188.30" fill="none" stroke="#0a0a0a" stroke-width="2.1" stroke-linejoin="round" stroke-linecap="butt"  clip-path="url(#ca22)"/>
<text x="22.00" y="37.50" font-size="11.4" text-anchor="middle" fill="#262626" transform="rotate(-90 22.00 37.50)">(hPa)</text>
<text x="9.50" y="104.00" font-size="11.4" text-anchor="middle" fill="#262626" transform="rotate(-90 9.50 104.00)">(cm)</text>
<text x="22.00" y="188.30" font-size="11.4" text-anchor="middle" fill="#262626" transform="rotate(-90 22.00 188.30)">(hPa)</text>
<text x="38.60" y="11.70" font-size="10.4" text-anchor="start" fill="#262626" font-weight="normal" font-style="normal" >Air pressure</text>
<text x="38.60" y="72.60" font-size="10.4" text-anchor="start" fill="#262626" font-weight="normal" font-style="normal" >Sea surface</text>
<text x="38.60" y="158.70" font-size="10.4" text-anchor="start" fill="#262626" font-weight="normal" font-style="normal" >Bottom pressure</text>
<text x="-0.10" y="9.20" font-size="11.8" text-anchor="start" fill="#262626" font-weight="normal" font-style="normal" >(a)</text>
<text id="t13" x="86.80" y="25.10" font-size="10.2" text-anchor="middle" fill="#262626" font-weight="normal" font-style="normal" >&#8199;00 min</text>
<text id="t14" x="304.50" y="24.40" font-size="10.2" text-anchor="middle" fill="#262626" font-weight="normal" font-style="normal" >&#8199;00 min</text>
<text id="t15" x="388.00" y="24.40" font-size="10.2" text-anchor="middle" fill="#262626" font-weight="normal" font-style="normal" >&#8199;50 min</text>
<text id="t16" x="542.30" y="25.10" font-size="10.2" text-anchor="middle" fill="#262626" font-weight="normal" font-style="normal" >&#8199;50 min</text>
<text x="626.00" y="25.10" font-size="10.2" text-anchor="middle" fill="#262626" font-weight="normal" font-style="normal" >200 min</text>
<text id="t17" x="108.00" y="34.80" font-size="10.35" text-anchor="start" fill="#b0191e" font-weight="normal" font-style="normal" >3&#8199;0 m/s</text>
<line x1="108.00" y1="38.10" x2="150.00" y2="38.10" stroke="#b0191e" stroke-width="1.3" />
<path d="M149.0,34.9 L156.3,38.1 L149.0,41.3 Z" fill="#b0191e"/>
<line x1="57.7" y1="88.2" x2="109.6" y2="88.2" stroke="#2a7fd4" stroke-width="1.3" stroke-dasharray="4.8 5.1"/>
<text id="t18" x="55.30" y="85.50" font-size="11.7" text-anchor="start" fill="#2a7fd4" font-weight="normal" font-style="normal" >0.&#8199;&#8199;</text>
<text id="t19" x="86.40" y="85.10" font-size="12.5" text-anchor="middle" fill="#2a2a2a" font-weight="bold" font-style="normal" >&#8199;</text>
<line x1="360.2" y1="86.1" x2="414.2" y2="86.1" stroke="#2a7fd4" stroke-width="1.3" stroke-dasharray="4.8 5.1"/>
<text x="357.20" y="83.30" font-size="11.7" text-anchor="start" fill="#2a7fd4" font-weight="normal" font-style="normal" >0.69</text>
<text id="t20" x="383.30" y="82.90" font-size="12.5" text-anchor="start" fill="#2a2a2a" font-weight="bold" font-style="normal" >&#8199;'</text>
<text x="368.95" y="136.90" font-size="12.5" text-anchor="middle" fill="#2a2a2a" font-weight="bold" font-style="normal" >2</text>
<line x1="597.2" y1="86.1" x2="652.4" y2="86.1" stroke="#2a7fd4" stroke-width="1.3" stroke-dasharray="4.8 5.1"/>
<text x="594.70" y="83.30" font-size="11.7" text-anchor="start" fill="#2a7fd4" font-weight="normal" font-style="normal" >0.69</text>
<text id="t21" x="620.80" y="82.90" font-size="12.5" text-anchor="start" fill="#2a2a2a" font-weight="bold" font-style="normal" >&#8199;'</text>
<text x="576.45" y="137.70" font-size="12.5" text-anchor="middle" fill="#2a2a2a" font-weight="bold" font-style="normal" >2</text>
<circle cx="116.73" cy="104.1" r="1.9" fill="#0a0a0a"/>
<text x="116.93" y="99.80" font-size="11.0" text-anchor="middle" fill="#262626" font-weight="normal" font-style="normal" >A</text>
<circle cx="161.86" cy="104.1" r="1.9" fill="#0a0a0a"/>
<text x="162.06" y="99.80" font-size="11.0" text-anchor="middle" fill="#262626" font-weight="normal" font-style="normal" >B</text>
<circle cx="206.99" cy="104.1" r="1.9" fill="#0a0a0a"/>
<text x="207.19" y="99.80" font-size="11.0" text-anchor="middle" fill="#262626" font-weight="normal" font-style="normal" >C</text>
<text id="t22" x="72.70" y="210.90" font-size="11.4" text-anchor="middle" fill="#444" font-weight="normal" font-style="italic" >&#8199;.0 km</text>
<text x="157.70" y="221.80" font-size="11.4" text-anchor="middle" fill="#444" font-weight="normal" font-style="italic" >4.0 km</text>
<line x1="60.20" y1="284.30" x2="60.20" y2="326.30" stroke="#e9e9e9" stroke-width="1" />
<line x1="122.30" y1="284.30" x2="122.30" y2="326.30" stroke="#e9e9e9" stroke-width="1" />
<line x1="184.40" y1="284.30" x2="184.40" y2="326.30" stroke="#e9e9e9" stroke-width="1" />
<line x1="35.50" y1="314.45" x2="233.70" y2="314.45" stroke="#e9e9e9" stroke-width="1" />
<line x1="35.50" y1="305.00" x2="233.70" y2="305.00" stroke="#e9e9e9" stroke-width="1" />
<line x1="35.50" y1="295.55" x2="233.70" y2="295.55" stroke="#e9e9e9" stroke-width="1" />
<line x1="60.20" y1="326.30" x2="60.20" y2="368.20" stroke="#e9e9e9" stroke-width="1" />
<line x1="122.30" y1="326.30" x2="122.30" y2="368.20" stroke="#e9e9e9" stroke-width="1" />
<line x1="184.40" y1="326.30" x2="184.40" y2="368.20" stroke="#e9e9e9" stroke-width="1" />
<line x1="35.50" y1="356.40" x2="233.70" y2="356.40" stroke="#e9e9e9" stroke-width="1" />
<line x1="35.50" y1="347.20" x2="233.70" y2="347.20" stroke="#e9e9e9" stroke-width="1" />
<line x1="35.50" y1="338.00" x2="233.70" y2="338.00" stroke="#e9e9e9" stroke-width="1" />
<line x1="60.20" y1="368.20" x2="60.20" y2="410.30" stroke="#e9e9e9" stroke-width="1" />
<line x1="122.30" y1="368.20" x2="122.30" y2="410.30" stroke="#e9e9e9" stroke-width="1" />
<line x1="184.40" y1="368.20" x2="184.40" y2="410.30" stroke="#e9e9e9" stroke-width="1" />
<line x1="35.50" y1="407.50" x2="233.70" y2="407.50" stroke="#e9e9e9" stroke-width="1" />
<line x1="35.50" y1="398.40" x2="233.70" y2="398.40" stroke="#e9e9e9" stroke-width="1" />
<line x1="35.50" y1="389.30" x2="233.70" y2="389.30" stroke="#e9e9e9" stroke-width="1" />
<line x1="35.50" y1="380.20" x2="233.70" y2="380.20" stroke="#e9e9e9" stroke-width="1" />
<line x1="35.50" y1="371.10" x2="233.70" y2="371.10" stroke="#e9e9e9" stroke-width="1" />
<path d="M35.36,305.00 L35.86,305.00 L36.35,305.00 L36.85,305.00 L37.35,305.00 L37.84,305.00 L38.34,305.00 L38.84,305.00 L39.33,305.00 L39.83,305.00 L40.33,305.00 L40.82,305.00 L41.32,305.00 L41.82,305.00 L42.32,305.00 L42.81,305.00 L43.31,305.00 L43.81,305.00 L44.30,305.00 L44.80,305.00 L45.30,305.00 L45.79,305.00 L46.29,305.00 L46.79,305.00 L47.28,305.00 L47.78,305.00 L48.28,305.00 L48.77,305.00 L49.27,305.00 L49.77,305.00 L50.26,305.00 L50.76,305.00 L51.26,305.00 L51.75,305.00 L52.25,305.00 L52.75,305.00 L53.24,305.00 L53.74,305.00 L54.24,305.00 L54.74,305.00 L55.23,305.00 L55.73,305.00 L56.23,305.00 L56.72,305.00 L57.22,305.00 L57.72,305.00 L58.21,305.00 L58.71,305.00 L59.21,305.00 L59.70,305.00 L60.20,304.99 L60.70,304.99 L61.19,304.99 L61.69,304.98 L62.19,304.98 L62.68,304.97 L63.18,304.96 L63.68,304.95 L64.17,304.93 L64.67,304.91 L65.17,304.88 L65.66,304.85 L66.16,304.81 L66.66,304.76 L67.16,304.70 L67.65,304.63 L68.15,304.55 L68.65,304.44 L69.14,304.32 L69.64,304.18 L70.14,304.01 L70.63,303.83 L71.13,303.61 L71.63,303.37 L72.12,303.09 L72.62,302.79 L73.12,302.46 L73.61,302.10 L74.11,301.71 L74.61,301.29 L75.10,300.86 L75.60,300.40 L76.10,299.93 L76.59,299.45 L77.09,298.97 L77.59,298.49 L78.08,298.02 L78.58,297.58 L79.08,297.16 L79.58,296.77 L80.07,296.43 L80.57,296.14 L81.07,295.90 L81.56,295.72 L82.06,295.60 L82.56,295.55 L83.05,295.57 L83.55,295.65 L84.05,295.80 L84.54,296.01 L85.04,296.28 L85.54,296.60 L86.03,296.96 L86.53,297.36 L87.03,297.80 L87.52,298.25 L88.02,298.73 L88.52,299.21 L89.01,299.69 L89.51,300.17 L90.01,300.63 L90.50,301.08 L91.00,301.51 L91.50,301.91 L92.00,302.28 L92.49,302.63 L92.99,302.95 L93.49,303.23 L93.98,303.49 L94.48,303.72 L94.98,303.92 L95.47,304.10 L95.97,304.25 L96.47,304.38 L96.96,304.50 L97.46,304.59 L97.96,304.67 L98.45,304.74 L98.95,304.79 L99.45,304.83 L99.94,304.87 L100.44,304.90 L100.94,304.92 L101.43,304.94 L101.93,304.95 L102.43,304.97 L102.92,304.97 L103.42,304.98 L103.92,304.99 L104.42,304.99 L104.91,304.99 L105.41,304.99 L105.91,305.00 L106.40,305.00 L106.90,305.00 L107.40,305.00 L107.89,305.00 L108.39,305.00 L108.89,305.00 L109.38,305.00 L109.88,305.00 L110.38,305.00 L110.87,305.00 L111.37,305.00 L111.87,305.00 L112.36,305.00 L112.86,305.00 L113.36,305.00 L113.85,305.00 L114.35,305.00 L114.85,305.00 L115.34,305.00 L115.84,305.00 L116.34,305.00 L116.84,305.00 L117.33,305.00 L117.83,305.00 L118.33,305.00 L118.82,305.00 L119.32,305.00 L119.82,305.00 L120.31,305.00 L120.81,305.00 L121.31,305.00 L121.80,305.00 L122.30,305.00 L122.80,305.00 L123.29,305.00 L123.79,305.00 L124.29,305.00 L124.78,305.00 L125.28,305.00 L125.78,305.00 L126.27,305.00 L126.77,305.00 L127.27,305.00 L127.76,305.00 L128.26,305.00 L128.76,305.00 L129.26,305.00 L129.75,305.00 L130.25,305.00 L130.75,305.00 L131.24,305.00 L131.74,305.00 L132.24,305.00 L132.73,305.00 L133.23,305.00 L133.73,305.00 L134.22,305.00 L134.72,305.00 L135.22,305.00 L135.71,305.00 L136.21,305.00 L136.71,305.00 L137.20,305.00 L137.70,305.00 L138.20,305.00 L138.69,305.00 L139.19,305.00 L139.69,305.00 L140.18,305.00 L140.68,305.00 L141.18,305.00 L141.68,305.00 L142.17,305.00 L142.67,305.00 L143.17,305.00 L143.66,305.00 L144.16,305.00 L144.66,305.00 L145.15,305.00 L145.65,305.00 L146.15,305.00 L146.64,305.00 L147.14,305.00 L147.64,305.00 L148.13,305.00 L148.63,305.00 L149.13,305.00 L149.62,305.00 L150.12,305.00 L150.62,305.00 L151.11,305.00 L151.61,305.00 L152.11,305.00 L152.60,305.00 L153.10,305.00 L153.60,305.00 L154.10,305.00 L154.59,305.00 L155.09,305.00 L155.59,305.00 L156.08,305.00 L156.58,305.00 L157.08,305.00 L157.57,305.00 L158.07,305.00 L158.57,305.00 L159.06,305.00 L159.56,305.00 L160.06,305.00 L160.55,305.00 L161.05,305.00 L161.55,305.00 L162.04,305.00 L162.54,305.00 L163.04,305.00 L163.53,305.00 L164.03,305.00 L164.53,305.00 L165.02,305.00 L165.52,305.00 L166.02,305.00 L166.52,305.00 L167.01,305.00 L167.51,305.00 L168.01,305.00 L168.50,305.00 L169.00,305.00 L169.50,305.00 L169.99,305.00 L170.49,305.00 L170.99,305.00 L171.48,305.00 L171.98,305.00 L172.48,305.00 L172.97,305.00 L173.47,305.00 L173.97,305.00 L174.46,305.00 L174.96,305.00 L175.46,305.00 L175.95,305.00 L176.45,305.00 L176.95,305.00 L177.44,305.00 L177.94,305.00 L178.44,305.00 L178.94,305.00 L179.43,305.00 L179.93,305.00 L180.43,305.00 L180.92,305.00 L181.42,305.00 L181.92,305.00 L182.41,305.00 L182.91,305.00 L183.41,305.00 L183.90,305.00 L184.40,305.00 L184.90,305.00 L185.39,305.00 L185.89,305.00 L186.39,305.00 L186.88,305.00 L187.38,305.00 L187.88,305.00 L188.37,305.00 L188.87,305.00 L189.37,305.00 L189.86,305.00 L190.36,305.00 L190.86,305.00 L191.36,305.00 L191.85,305.00 L192.35,305.00 L192.85,305.00 L193.34,305.00 L193.84,305.00 L194.34,305.00 L194.83,305.00 L195.33,305.00 L195.83,305.00 L196.32,305.00 L196.82,305.00 L197.32,305.00 L197.81,305.00 L198.31,305.00 L198.81,305.00 L199.30,305.00 L199.80,305.00 L200.30,305.00 L200.79,305.00 L201.29,305.00 L201.79,305.00 L202.28,305.00 L202.78,305.00 L203.28,305.00 L203.78,305.00 L204.27,305.00 L204.77,305.00 L205.27,305.00 L205.76,305.00 L206.26,305.00 L206.76,305.00 L207.25,305.00 L207.75,305.00 L208.25,305.00 L208.74,305.00 L209.24,305.00 L209.74,305.00 L210.23,305.00 L210.73,305.00 L211.23,305.00 L211.72,305.00 L212.22,305.00 L212.72,305.00 L213.21,305.00 L213.71,305.00 L214.21,305.00 L214.70,305.00 L215.20,305.00 L215.70,305.00 L216.20,305.00 L216.69,305.00 L217.19,305.00 L217.69,305.00 L218.18,305.00 L218.68,305.00 L219.18,305.00 L219.67,305.00 L220.17,305.00 L220.67,305.00 L221.16,305.00 L221.66,305.00 L222.16,305.00 L222.65,305.00 L223.15,305.00 L223.65,305.00 L224.14,305.00 L224.64,305.00 L225.14,305.00 L225.63,305.00 L226.13,305.00 L226.63,305.00 L227.12,305.00 L227.62,305.00 L228.12,305.00 L228.62,305.00 L229.11,305.00 L229.61,305.00 L230.11,305.00 L230.60,305.00 L231.10,305.00 L231.60,305.00 L232.09,305.00 L232.59,305.00 L233.09,305.00 L233.58,305.00 L234.08,305.00" fill="none" stroke="#e2483a" stroke-width="2.0" stroke-linejoin="round" stroke-linecap="butt"  clip-path="url(#cb00)"/>
<path d="M35.36,347.20 L35.86,347.20 L36.35,347.20 L36.85,347.20 L37.35,347.20 L37.84,347.20 L38.34,347.20 L38.84,347.20 L39.33,347.20 L39.83,347.20 L40.33,347.20 L40.82,347.20 L41.32,347.20 L41.82,347.20 L42.32,347.20 L42.81,347.20 L43.31,347.20 L43.81,347.20 L44.30,347.20 L44.80,347.20 L45.30,347.20 L45.79,347.20 L46.29,347.20 L46.79,347.20 L47.28,347.20 L47.78,347.20 L48.28,347.20 L48.77,347.20 L49.27,347.20 L49.77,347.20 L50.26,347.20 L50.76,347.20 L51.26,347.20 L51.75,347.20 L52.25,347.20 L52.75,347.20 L53.24,347.20 L53.74,347.20 L54.24,347.20 L54.74,347.20 L55.23,347.20 L55.73,347.20 L56.23,347.20 L56.72,347.20 L57.22,347.20 L57.72,347.20 L58.21,347.20 L58.71,347.20 L59.21,347.20 L59.70,347.20 L60.20,347.20 L60.70,347.20 L61.19,347.20 L61.69,347.20 L62.19,347.20 L62.68,347.20 L63.18,347.20 L63.68,347.20 L64.17,347.20 L64.67,347.20 L65.17,347.20 L65.66,347.20 L66.16,347.20 L66.66,347.21 L67.16,347.21 L67.65,347.21 L68.15,347.21 L68.65,347.21 L69.14,347.22 L69.64,347.22 L70.14,347.23 L70.63,347.23 L71.13,347.24 L71.63,347.24 L72.12,347.25 L72.62,347.26 L73.12,347.27 L73.61,347.29 L74.11,347.30 L74.61,347.32 L75.10,347.33 L75.60,347.35 L76.10,347.37 L76.59,347.40 L77.09,347.42 L77.59,347.45 L78.08,347.48 L78.58,347.51 L79.08,347.54 L79.58,347.58 L80.07,347.61 L80.57,347.65 L81.07,347.68 L81.56,347.72 L82.06,347.76 L82.56,347.79 L83.05,347.83 L83.55,347.86 L84.05,347.89 L84.54,347.92 L85.04,347.95 L85.54,347.97 L86.03,347.99 L86.53,348.01 L87.03,348.02 L87.52,348.02 L88.02,348.03 L88.52,348.03 L89.01,348.02 L89.51,348.01 L90.01,348.00 L90.50,347.98 L91.00,347.96 L91.50,347.93 L92.00,347.91 L92.49,347.88 L92.99,347.84 L93.49,347.81 L93.98,347.77 L94.48,347.74 L94.98,347.70 L95.47,347.67 L95.97,347.63 L96.47,347.59 L96.96,347.56 L97.46,347.53 L97.96,347.50 L98.45,347.47 L98.95,347.44 L99.45,347.41 L99.94,347.39 L100.44,347.36 L100.94,347.34 L101.43,347.32 L101.93,347.31 L102.43,347.29 L102.92,347.28 L103.42,347.27 L103.92,347.26 L104.42,347.25 L104.91,347.24 L105.41,347.23 L105.91,347.23 L106.40,347.22 L106.90,347.22 L107.40,347.22 L107.89,347.21 L108.39,347.21 L108.89,347.21 L109.38,347.21 L109.88,347.21 L110.38,347.20 L110.87,347.20 L111.37,347.20 L111.87,347.20 L112.36,347.20 L112.86,347.20 L113.36,347.20 L113.85,347.20 L114.35,347.20 L114.85,347.20 L115.34,347.20 L115.84,347.20 L116.34,347.20 L116.84,347.20 L117.33,347.20 L117.83,347.20 L118.33,347.20 L118.82,347.20 L119.32,347.20 L119.82,347.20 L120.31,347.20 L120.81,347.20 L121.31,347.20 L121.80,347.20 L122.30,347.20 L122.80,347.20 L123.29,347.20 L123.79,347.20 L124.29,347.20 L124.78,347.20 L125.28,347.20 L125.78,347.20 L126.27,347.20 L126.77,347.20 L127.27,347.20 L127.76,347.20 L128.26,347.20 L128.76,347.20 L129.26,347.20 L129.75,347.20 L130.25,347.20 L130.75,347.20 L131.24,347.20 L131.74,347.20 L132.24,347.20 L132.73,347.20 L133.23,347.20 L133.73,347.20 L134.22,347.20 L134.72,347.20 L135.22,347.20 L135.71,347.20 L136.21,347.20 L136.71,347.20 L137.20,347.20 L137.70,347.20 L138.20,347.20 L138.69,347.20 L139.19,347.20 L139.69,347.20 L140.18,347.20 L140.68,347.20 L141.18,347.20 L141.68,347.20 L142.17,347.20 L142.67,347.20 L143.17,347.20 L143.66,347.20 L144.16,347.20 L144.66,347.20 L145.15,347.20 L145.65,347.20 L146.15,347.20 L146.64,347.20 L147.14,347.20 L147.64,347.20 L148.13,347.20 L148.63,347.20 L149.13,347.20 L149.62,347.20 L150.12,347.20 L150.62,347.20 L151.11,347.20 L151.61,347.20 L152.11,347.20 L152.60,347.20 L153.10,347.20 L153.60,347.20 L154.10,347.20 L154.59,347.20 L155.09,347.20 L155.59,347.20 L156.08,347.20 L156.58,347.20 L157.08,347.20 L157.57,347.20 L158.07,347.20 L158.57,347.20 L159.06,347.20 L159.56,347.20 L160.06,347.20 L160.55,347.20 L161.05,347.20 L161.55,347.20 L162.04,347.20 L162.54,347.20 L163.04,347.20 L163.53,347.20 L164.03,347.20 L164.53,347.20 L165.02,347.20 L165.52,347.20 L166.02,347.20 L166.52,347.20 L167.01,347.20 L167.51,347.20 L168.01,347.20 L168.50,347.20 L169.00,347.20 L169.50,347.20 L169.99,347.20 L170.49,347.20 L170.99,347.20 L171.48,347.20 L171.98,347.20 L172.48,347.20 L172.97,347.20 L173.47,347.20 L173.97,347.20 L174.46,347.20 L174.96,347.20 L175.46,347.20 L175.95,347.20 L176.45,347.20 L176.95,347.20 L177.44,347.20 L177.94,347.20 L178.44,347.20 L178.94,347.20 L179.43,347.20 L179.93,347.20 L180.43,347.20 L180.92,347.20 L181.42,347.20 L181.92,347.20 L182.41,347.20 L182.91,347.20 L183.41,347.20 L183.90,347.20 L184.40,347.20 L184.90,347.20 L185.39,347.20 L185.89,347.20 L186.39,347.20 L186.88,347.20 L187.38,347.20 L187.88,347.20 L188.37,347.20 L188.87,347.20 L189.37,347.20 L189.86,347.20 L190.36,347.20 L190.86,347.20 L191.36,347.20 L191.85,347.20 L192.35,347.20 L192.85,347.20 L193.34,347.20 L193.84,347.20 L194.34,347.20 L194.83,347.20 L195.33,347.20 L195.83,347.20 L196.32,347.20 L196.82,347.20 L197.32,347.20 L197.81,347.20 L198.31,347.20 L198.81,347.20 L199.30,347.20 L199.80,347.20 L200.30,347.20 L200.79,347.20 L201.29,347.20 L201.79,347.20 L202.28,347.20 L202.78,347.20 L203.28,347.20 L203.78,347.20 L204.27,347.20 L204.77,347.20 L205.27,347.20 L205.76,347.20 L206.26,347.20 L206.76,347.20 L207.25,347.20 L207.75,347.20 L208.25,347.20 L208.74,347.20 L209.24,347.20 L209.74,347.20 L210.23,347.20 L210.73,347.20 L211.23,347.20 L211.72,347.20 L212.22,347.20 L212.72,347.20 L213.21,347.20 L213.71,347.20 L214.21,347.20 L214.70,347.20 L215.20,347.20 L215.70,347.20 L216.20,347.20 L216.69,347.20 L217.19,347.20 L217.69,347.20 L218.18,347.20 L218.68,347.20 L219.18,347.20 L219.67,347.20 L220.17,347.20 L220.67,347.20 L221.16,347.20 L221.66,347.20 L222.16,347.20 L222.65,347.20 L223.15,347.20 L223.65,347.20 L224.14,347.20 L224.64,347.20 L225.14,347.20 L225.63,347.20 L226.13,347.20 L226.63,347.20 L227.12,347.20 L227.62,347.20 L228.12,347.20 L228.62,347.20 L229.11,347.20 L229.61,347.20 L230.11,347.20 L230.60,347.20 L231.10,347.20 L231.60,347.20 L232.09,347.20 L232.59,347.20 L233.09,347.20 L233.58,347.20 L234.08,347.20" fill="none" stroke="#0ab40e" stroke-width="2.0" stroke-linejoin="round" stroke-linecap="butt"  clip-path="url(#cb01)"/>
<path d="M35.36,389.30 L35.86,389.30 L36.35,389.30 L36.85,389.30 L37.35,389.30 L37.84,389.30 L38.34,389.30 L38.84,389.30 L39.33,389.30 L39.83,389.30 L40.33,389.30 L40.82,389.30 L41.32,389.30 L41.82,389.30 L42.32,389.30 L42.81,389.30 L43.31,389.30 L43.81,389.30 L44.30,389.30 L44.80,389.30 L45.30,389.30 L45.79,389.30 L46.29,389.30 L46.79,389.30 L47.28,389.30 L47.78,389.30 L48.28,389.30 L48.77,389.30 L49.27,389.30 L49.77,389.30 L50.26,389.30 L50.76,389.30 L51.26,389.30 L51.75,389.30 L52.25,389.30 L52.75,389.30 L53.24,389.30 L53.74,389.30 L54.24,389.30 L54.74,389.30 L55.23,389.30 L55.73,389.30 L56.23,389.30 L56.72,389.30 L57.22,389.30 L57.72,389.30 L58.21,389.30 L58.71,389.30 L59.21,389.30 L59.70,389.30 L60.20,389.29 L60.70,389.29 L61.19,389.29 L61.69,389.28 L62.19,389.28 L62.68,389.27 L63.18,389.26 L63.68,389.25 L64.17,389.24 L64.67,389.22 L65.17,389.19 L65.66,389.16 L66.16,389.12 L66.66,389.08 L67.16,389.02 L67.65,388.95 L68.15,388.87 L68.65,388.78 L69.14,388.66 L69.64,388.53 L70.14,388.38 L70.63,388.20 L71.13,388.00 L71.63,387.77 L72.12,387.52 L72.62,387.24 L73.12,386.93 L73.61,386.59 L74.11,386.23 L74.61,385.85 L75.10,385.44 L75.60,385.02 L76.10,384.59 L76.59,384.15 L77.09,383.71 L77.59,383.28 L78.08,382.86 L78.58,382.46 L79.08,382.09 L79.58,381.75 L80.07,381.45 L80.57,381.21 L81.07,381.01 L81.56,380.88 L82.06,380.80 L82.56,380.79 L83.05,380.84 L83.55,380.95 L84.05,381.12 L84.54,381.36 L85.04,381.64 L85.54,381.97 L86.03,382.34 L86.53,382.74 L87.03,383.17 L87.52,383.62 L88.02,384.08 L88.52,384.54 L89.01,385.00 L89.51,385.45 L90.01,385.88 L90.50,386.30 L91.00,386.69 L91.50,387.05 L92.00,387.38 L92.49,387.69 L92.99,387.96 L93.49,388.20 L93.98,388.42 L94.48,388.60 L94.98,388.76 L95.47,388.89 L95.97,389.01 L96.47,389.10 L96.96,389.17 L97.46,389.23 L97.96,389.27 L98.45,389.31 L98.95,389.33 L99.45,389.35 L99.94,389.36 L100.44,389.36 L100.94,389.37 L101.43,389.37 L101.93,389.36 L102.43,389.36 L102.92,389.35 L103.42,389.35 L103.92,389.34 L104.42,389.34 L104.91,389.33 L105.41,389.33 L105.91,389.32 L106.40,389.32 L106.90,389.32 L107.40,389.31 L107.89,389.31 L108.39,389.31 L108.89,389.31 L109.38,389.31 L109.88,389.30 L110.38,389.30 L110.87,389.30 L111.37,389.30 L111.87,389.30 L112.36,389.30 L112.86,389.30 L113.36,389.30 L113.85,389.30 L114.35,389.30 L114.85,389.30 L115.34,389.30 L115.84,389.30 L116.34,389.30 L116.84,389.30 L117.33,389.30 L117.83,389.30 L118.33,389.30 L118.82,389.30 L119.32,389.30 L119.82,389.30 L120.31,389.30 L120.81,389.30 L121.31,389.30 L121.80,389.30 L122.30,389.30 L122.80,389.30 L123.29,389.30 L123.79,389.30 L124.29,389.30 L124.78,389.30 L125.28,389.30 L125.78,389.30 L126.27,389.30 L126.77,389.30 L127.27,389.30 L127.76,389.30 L128.26,389.30 L128.76,389.30 L129.26,389.30 L129.75,389.30 L130.25,389.30 L130.75,389.30 L131.24,389.30 L131.74,389.30 L132.24,389.30 L132.73,389.30 L133.23,389.30 L133.73,389.30 L134.22,389.30 L134.72,389.30 L135.22,389.30 L135.71,389.30 L136.21,389.30 L136.71,389.30 L137.20,389.30 L137.70,389.30 L138.20,389.30 L138.69,389.30 L139.19,389.30 L139.69,389.30 L140.18,389.30 L140.68,389.30 L141.18,389.30 L141.68,389.30 L142.17,389.30 L142.67,389.30 L143.17,389.30 L143.66,389.30 L144.16,389.30 L144.66,389.30 L145.15,389.30 L145.65,389.30 L146.15,389.30 L146.64,389.30 L147.14,389.30 L147.64,389.30 L148.13,389.30 L148.63,389.30 L149.13,389.30 L149.62,389.30 L150.12,389.30 L150.62,389.30 L151.11,389.30 L151.61,389.30 L152.11,389.30 L152.60,389.30 L153.10,389.30 L153.60,389.30 L154.10,389.30 L154.59,389.30 L155.09,389.30 L155.59,389.30 L156.08,389.30 L156.58,389.30 L157.08,389.30 L157.57,389.30 L158.07,389.30 L158.57,389.30 L159.06,389.30 L159.56,389.30 L160.06,389.30 L160.55,389.30 L161.05,389.30 L161.55,389.30 L162.04,389.30 L162.54,389.30 L163.04,389.30 L163.53,389.30 L164.03,389.30 L164.53,389.30 L165.02,389.30 L165.52,389.30 L166.02,389.30 L166.52,389.30 L167.01,389.30 L167.51,389.30 L168.01,389.30 L168.50,389.30 L169.00,389.30 L169.50,389.30 L169.99,389.30 L170.49,389.30 L170.99,389.30 L171.48,389.30 L171.98,389.30 L172.48,389.30 L172.97,389.30 L173.47,389.30 L173.97,389.30 L174.46,389.30 L174.96,389.30 L175.46,389.30 L175.95,389.30 L176.45,389.30 L176.95,389.30 L177.44,389.30 L177.94,389.30 L178.44,389.30 L178.94,389.30 L179.43,389.30 L179.93,389.30 L180.43,389.30 L180.92,389.30 L181.42,389.30 L181.92,389.30 L182.41,389.30 L182.91,389.30 L183.41,389.30 L183.90,389.30 L184.40,389.30 L184.90,389.30 L185.39,389.30 L185.89,389.30 L186.39,389.30 L186.88,389.30 L187.38,389.30 L187.88,389.30 L188.37,389.30 L188.87,389.30 L189.37,389.30 L189.86,389.30 L190.36,389.30 L190.86,389.30 L191.36,389.30 L191.85,389.30 L192.35,389.30 L192.85,389.30 L193.34,389.30 L193.84,389.30 L194.34,389.30 L194.83,389.30 L195.33,389.30 L195.83,389.30 L196.32,389.30 L196.82,389.30 L197.32,389.30 L197.81,389.30 L198.31,389.30 L198.81,389.30 L199.30,389.30 L199.80,389.30 L200.30,389.30 L200.79,389.30 L201.29,389.30 L201.79,389.30 L202.28,389.30 L202.78,389.30 L203.28,389.30 L203.78,389.30 L204.27,389.30 L204.77,389.30 L205.27,389.30 L205.76,389.30 L206.26,389.30 L206.76,389.30 L207.25,389.30 L207.75,389.30 L208.25,389.30 L208.74,389.30 L209.24,389.30 L209.74,389.30 L210.23,389.30 L210.73,389.30 L211.23,389.30 L211.72,389.30 L212.22,389.30 L212.72,389.30 L213.21,389.30 L213.71,389.30 L214.21,389.30 L214.70,389.30 L215.20,389.30 L215.70,389.30 L216.20,389.30 L216.69,389.30 L217.19,389.30 L217.69,389.30 L218.18,389.30 L218.68,389.30 L219.18,389.30 L219.67,389.30 L220.17,389.30 L220.67,389.30 L221.16,389.30 L221.66,389.30 L222.16,389.30 L222.65,389.30 L223.15,389.30 L223.65,389.30 L224.14,389.30 L224.64,389.30 L225.14,389.30 L225.63,389.30 L226.13,389.30 L226.63,389.30 L227.12,389.30 L227.62,389.30 L228.12,389.30 L228.62,389.30 L229.11,389.30 L229.61,389.30 L230.11,389.30 L230.60,389.30 L231.10,389.30 L231.60,389.30 L232.09,389.30 L232.59,389.30 L233.09,389.30 L233.58,389.30 L234.08,389.30" fill="none" stroke="#0a78f0" stroke-width="2.0" stroke-linejoin="round" stroke-linecap="butt"  clip-path="url(#cb02)"/>
<line x1="35.50" y1="283.90" x2="233.50" y2="283.90" stroke="#a4a4a4" stroke-width="1.5" />
<line x1="35.50" y1="326.20" x2="233.50" y2="326.20" stroke="#6a6a6a" stroke-width="1.1" />
<line x1="35.50" y1="368.20" x2="233.50" y2="368.20" stroke="#6a6a6a" stroke-width="1.1" />
<line x1="35.50" y1="410.40" x2="233.50" y2="410.40" stroke="#5e5e5e" stroke-width="1.1" />
<line x1="233.50" y1="283.20" x2="233.50" y2="411.00" stroke="#5a5a5a" stroke-width="1.0" />
<line x1="35.50" y1="283.20" x2="35.50" y2="411.00" stroke="#5a5a5a" stroke-width="1.0" />
<line x1="60.20" y1="284.30" x2="60.20" y2="286.30" stroke="#8a8a8a" stroke-width="1" />
<line x1="60.20" y1="324.30" x2="60.20" y2="326.30" stroke="#8a8a8a" stroke-width="1" />
<line x1="122.30" y1="284.30" x2="122.30" y2="286.30" stroke="#8a8a8a" stroke-width="1" />
<line x1="122.30" y1="324.30" x2="122.30" y2="326.30" stroke="#8a8a8a" stroke-width="1" />
<line x1="184.40" y1="284.30" x2="184.40" y2="286.30" stroke="#8a8a8a" stroke-width="1" />
<line x1="184.40" y1="324.30" x2="184.40" y2="326.30" stroke="#8a8a8a" stroke-width="1" />
<line x1="35.50" y1="314.45" x2="37.50" y2="314.45" stroke="#8a8a8a" stroke-width="1" />
<line x1="231.50" y1="314.45" x2="233.50" y2="314.45" stroke="#8a8a8a" stroke-width="1" />
<text id="t23" x="32.10" y="318.85" font-size="10.0" text-anchor="end" fill="#262626" font-weight="normal" font-style="normal" >-&#8199;</text>
<line x1="35.50" y1="305.00" x2="37.50" y2="305.00" stroke="#8a8a8a" stroke-width="1" />
<line x1="231.50" y1="305.00" x2="233.50" y2="305.00" stroke="#8a8a8a" stroke-width="1" />
<text x="29.50" y="309.40" font-size="10.0" text-anchor="end" fill="#262626" font-weight="normal" font-style="normal" >0</text>
<line x1="35.50" y1="295.55" x2="37.50" y2="295.55" stroke="#8a8a8a" stroke-width="1" />
<line x1="231.50" y1="295.55" x2="233.50" y2="295.55" stroke="#8a8a8a" stroke-width="1" />
<text id="t24" x="29.50" y="299.95" font-size="10.0" text-anchor="end" fill="#262626" font-weight="normal" font-style="normal" >&#8199;</text>
<line x1="60.20" y1="326.30" x2="60.20" y2="328.30" stroke="#8a8a8a" stroke-width="1" />
<line x1="60.20" y1="366.20" x2="60.20" y2="368.20" stroke="#8a8a8a" stroke-width="1" />
<line x1="122.30" y1="326.30" x2="122.30" y2="328.30" stroke="#8a8a8a" stroke-width="1" />
<line x1="122.30" y1="366.20" x2="122.30" y2="368.20" stroke="#8a8a8a" stroke-width="1" />
<line x1="184.40" y1="326.30" x2="184.40" y2="328.30" stroke="#8a8a8a" stroke-width="1" />
<line x1="184.40" y1="366.20" x2="184.40" y2="368.20" stroke="#8a8a8a" stroke-width="1" />
<line x1="35.50" y1="356.40" x2="37.50" y2="356.40" stroke="#8a8a8a" stroke-width="1" />
<line x1="231.50" y1="356.40" x2="233.50" y2="356.40" stroke="#8a8a8a" stroke-width="1" />
<text id="t25" x="32.10" y="360.80" font-size="10.0" text-anchor="end" fill="#262626" font-weight="normal" font-style="normal" >-&#8199;</text>
<line x1="35.50" y1="347.20" x2="37.50" y2="347.20" stroke="#8a8a8a" stroke-width="1" />
<line x1="231.50" y1="347.20" x2="233.50" y2="347.20" stroke="#8a8a8a" stroke-width="1" />
<text x="29.50" y="351.60" font-size="10.0" text-anchor="end" fill="#262626" font-weight="normal" font-style="normal" >0</text>
<line x1="35.50" y1="338.00" x2="37.50" y2="338.00" stroke="#8a8a8a" stroke-width="1" />
<line x1="231.50" y1="338.00" x2="233.50" y2="338.00" stroke="#8a8a8a" stroke-width="1" />
<text id="t26" x="29.50" y="342.40" font-size="10.0" text-anchor="end" fill="#262626" font-weight="normal" font-style="normal" >&#8199;</text>
<line x1="60.20" y1="368.20" x2="60.20" y2="370.20" stroke="#8a8a8a" stroke-width="1" />
<line x1="60.20" y1="408.30" x2="60.20" y2="410.30" stroke="#8a8a8a" stroke-width="1" />
<line x1="122.30" y1="368.20" x2="122.30" y2="370.20" stroke="#8a8a8a" stroke-width="1" />
<line x1="122.30" y1="408.30" x2="122.30" y2="410.30" stroke="#8a8a8a" stroke-width="1" />
<line x1="184.40" y1="368.20" x2="184.40" y2="370.20" stroke="#8a8a8a" stroke-width="1" />
<line x1="184.40" y1="408.30" x2="184.40" y2="410.30" stroke="#8a8a8a" stroke-width="1" />
<line x1="35.50" y1="407.50" x2="37.50" y2="407.50" stroke="#8a8a8a" stroke-width="1" />
<line x1="231.50" y1="407.50" x2="233.50" y2="407.50" stroke="#8a8a8a" stroke-width="1" />
<text x="32.10" y="411.90" font-size="10.0" text-anchor="end" fill="#262626" font-weight="normal" font-style="normal" >-2</text>
<line x1="35.50" y1="398.40" x2="37.50" y2="398.40" stroke="#8a8a8a" stroke-width="1" />
<line x1="231.50" y1="398.40" x2="233.50" y2="398.40" stroke="#8a8a8a" stroke-width="1" />
<text id="t27" x="32.10" y="402.80" font-size="10.0" text-anchor="end" fill="#262626" font-weight="normal" font-style="normal" >-&#8199;</text>
<line x1="35.50" y1="389.30" x2="37.50" y2="389.30" stroke="#8a8a8a" stroke-width="1" />
<line x1="231.50" y1="389.30" x2="233.50" y2="389.30" stroke="#8a8a8a" stroke-width="1" />
<text x="29.50" y="393.70" font-size="10.0" text-anchor="end" fill="#262626" font-weight="normal" font-style="normal" >0</text>
<line x1="35.50" y1="380.20" x2="37.50" y2="380.20" stroke="#8a8a8a" stroke-width="1" />
<line x1="231.50" y1="380.20" x2="233.50" y2="380.20" stroke="#8a8a8a" stroke-width="1" />
<text id="t28" x="29.50" y="384.60" font-size="10.0" text-anchor="end" fill="#262626" font-weight="normal" font-style="normal" >&#8199;</text>
<line x1="35.50" y1="371.10" x2="37.50" y2="371.10" stroke="#8a8a8a" stroke-width="1" />
<line x1="231.50" y1="371.10" x2="233.50" y2="371.10" stroke="#8a8a8a" stroke-width="1" />
<text x="29.50" y="375.50" font-size="10.0" text-anchor="end" fill="#262626" font-weight="normal" font-style="normal" >2</text>
<text id="t29" x="60.20" y="424.80" font-size="10.2" text-anchor="middle" fill="#262626" font-weight="normal" font-style="normal" >&#8199;00</text>
<text id="t30" x="122.30" y="424.80" font-size="10.2" text-anchor="middle" fill="#262626" font-weight="normal" font-style="normal" >&#8199;50</text>
<text x="184.40" y="424.80" font-size="10.2" text-anchor="middle" fill="#262626" font-weight="normal" font-style="normal" >200</text>
<text x="134.60" y="280.40" font-size="11.2" text-anchor="middle" fill="#111" font-weight="bold" font-style="normal" >A</text>
<line x1="285.45" y1="284.30" x2="285.45" y2="326.30" stroke="#e9e9e9" stroke-width="1" />
<line x1="347.55" y1="284.30" x2="347.55" y2="326.30" stroke="#e9e9e9" stroke-width="1" />
<line x1="409.65" y1="284.30" x2="409.65" y2="326.30" stroke="#e9e9e9" stroke-width="1" />
<line x1="261.00" y1="314.45" x2="459.30" y2="314.45" stroke="#e9e9e9" stroke-width="1" />
<line x1="261.00" y1="305.00" x2="459.30" y2="305.00" stroke="#e9e9e9" stroke-width="1" />
<line x1="261.00" y1="295.55" x2="459.30" y2="295.55" stroke="#e9e9e9" stroke-width="1" />
<line x1="285.45" y1="326.30" x2="285.45" y2="368.20" stroke="#e9e9e9" stroke-width="1" />
<line x1="347.55" y1="326.30" x2="347.55" y2="368.20" stroke="#e9e9e9" stroke-width="1" />
<line x1="409.65" y1="326.30" x2="409.65" y2="368.20" stroke="#e9e9e9" stroke-width="1" />
<line x1="261.00" y1="356.40" x2="459.30" y2="356.40" stroke="#e9e9e9" stroke-width="1" />
<line x1="261.00" y1="347.20" x2="459.30" y2="347.20" stroke="#e9e9e9" stroke-width="1" />
<line x1="261.00" y1="338.00" x2="459.30" y2="338.00" stroke="#e9e9e9" stroke-width="1" />
<line x1="285.45" y1="368.20" x2="285.45" y2="410.30" stroke="#e9e9e9" stroke-width="1" />
<line x1="347.55" y1="368.20" x2="347.55" y2="410.30" stroke="#e9e9e9" stroke-width="1" />
<line x1="409.65" y1="368.20" x2="409.65" y2="410.30" stroke="#e9e9e9" stroke-width="1" />
<line x1="261.00" y1="407.50" x2="459.30" y2="407.50" stroke="#e9e9e9" stroke-width="1" />
<line x1="261.00" y1="398.40" x2="459.30" y2="398.40" stroke="#e9e9e9" stroke-width="1" />
<line x1="261.00" y1="389.30" x2="459.30" y2="389.30" stroke="#e9e9e9" stroke-width="1" />
<line x1="261.00" y1="380.20" x2="459.30" y2="380.20" stroke="#e9e9e9" stroke-width="1" />
<line x1="261.00" y1="371.10" x2="459.30" y2="371.10" stroke="#e9e9e9" stroke-width="1" />
<path d="M260.61,305.00 L261.11,305.00 L261.60,305.00 L262.10,305.00 L262.60,305.00 L263.09,305.00 L263.59,305.00 L264.09,305.00 L264.58,305.00 L265.08,305.00 L265.58,305.00 L266.07,305.00 L266.57,305.00 L267.07,305.00 L267.57,305.00 L268.06,305.00 L268.56,305.00 L269.06,305.00 L269.55,305.00 L270.05,305.00 L270.55,305.00 L271.04,305.00 L271.54,305.00 L272.04,305.00 L272.53,305.00 L273.03,305.00 L273.53,305.00 L274.02,305.00 L274.52,305.00 L275.02,305.00 L275.51,305.00 L276.01,305.00 L276.51,305.00 L277.00,305.00 L277.50,305.00 L278.00,305.00 L278.49,305.00 L278.99,305.00 L279.49,305.00 L279.99,305.00 L280.48,305.00 L280.98,305.00 L281.48,305.00 L281.97,305.00 L282.47,305.00 L282.97,305.00 L283.46,305.00 L283.96,305.00 L284.46,305.00 L284.95,305.00 L285.45,305.00 L285.95,305.00 L286.44,305.00 L286.94,305.00 L287.44,305.00 L287.93,305.00 L288.43,305.00 L288.93,305.00 L289.42,305.00 L289.92,305.00 L290.42,305.00 L290.91,305.00 L291.41,305.00 L291.91,305.00 L292.41,305.00 L292.90,305.00 L293.40,305.00 L293.90,305.00 L294.39,305.00 L294.89,305.00 L295.39,305.00 L295.88,305.00 L296.38,305.00 L296.88,305.00 L297.37,305.00 L297.87,305.00 L298.37,305.00 L298.86,305.00 L299.36,305.00 L299.86,305.00 L300.35,305.00 L300.85,305.00 L301.35,305.00 L301.84,305.00 L302.34,305.00 L302.84,305.00 L303.33,305.00 L303.83,305.00 L304.33,305.00 L304.83,305.00 L305.32,305.00 L305.82,305.00 L306.32,305.00 L306.81,305.00 L307.31,305.00 L307.81,305.00 L308.30,305.00 L308.80,305.00 L309.30,305.00 L309.79,305.00 L310.29,305.00 L310.79,305.00 L311.28,305.00 L311.78,305.00 L312.28,305.00 L312.77,305.00 L313.27,305.00 L313.77,305.00 L314.26,305.00 L314.76,305.00 L315.26,305.00 L315.75,305.00 L316.25,305.00 L316.75,305.00 L317.25,305.00 L317.74,305.00 L318.24,305.00 L318.74,304.99 L319.23,304.99 L319.73,304.99 L320.23,304.98 L320.72,304.98 L321.22,304.97 L321.72,304.96 L322.21,304.95 L322.71,304.94 L323.21,304.92 L323.70,304.90 L324.20,304.87 L324.70,304.83 L325.19,304.78 L325.69,304.73 L326.19,304.66 L326.68,304.58 L327.18,304.48 L327.68,304.37 L328.17,304.23 L328.67,304.08 L329.17,303.90 L329.67,303.69 L330.16,303.46 L330.66,303.20 L331.16,302.91 L331.65,302.59 L332.15,302.24 L332.65,301.86 L333.14,301.45 L333.64,301.02 L334.14,300.57 L334.63,300.11 L335.13,299.63 L335.63,299.15 L336.12,298.67 L336.62,298.20 L337.12,297.74 L337.61,297.31 L338.11,296.91 L338.61,296.55 L339.10,296.24 L339.60,295.98 L340.10,295.78 L340.59,295.64 L341.09,295.56 L341.59,295.55 L342.09,295.61 L342.58,295.74 L343.08,295.92 L343.58,296.17 L344.07,296.47 L344.57,296.82 L345.07,297.21 L345.56,297.63 L346.06,298.08 L346.56,298.55 L347.05,299.03 L347.55,299.51 L348.05,299.99 L348.54,300.46 L349.04,300.91 L349.54,301.35 L350.03,301.76 L350.53,302.15 L351.03,302.50 L351.52,302.83 L352.02,303.13 L352.52,303.40 L353.01,303.64 L353.51,303.85 L354.01,304.04 L354.51,304.20 L355.00,304.34 L355.50,304.46 L356.00,304.56 L356.49,304.64 L356.99,304.71 L357.49,304.77 L357.98,304.82 L358.48,304.86 L358.98,304.89 L359.47,304.91 L359.97,304.93 L360.47,304.95 L360.96,304.96 L361.46,304.97 L361.96,304.98 L362.45,304.98 L362.95,304.99 L363.45,304.99 L363.94,304.99 L364.44,305.00 L364.94,305.00 L365.43,305.00 L365.93,305.00 L366.43,305.00 L366.93,305.00 L367.42,305.00 L367.92,305.00 L368.42,305.00 L368.91,305.00 L369.41,305.00 L369.91,305.00 L370.40,305.00 L370.90,305.00 L371.40,305.00 L371.89,305.00 L372.39,305.00 L372.89,305.00 L373.38,305.00 L373.88,305.00 L374.38,305.00 L374.87,305.00 L375.37,305.00 L375.87,305.00 L376.36,305.00 L376.86,305.00 L377.36,305.00 L377.85,305.00 L378.35,305.00 L378.85,305.00 L379.35,305.00 L379.84,305.00 L380.34,305.00 L380.84,305.00 L381.33,305.00 L381.83,305.00 L382.33,305.00 L382.82,305.00 L383.32,305.00 L383.82,305.00 L384.31,305.00 L384.81,305.00 L385.31,305.00 L385.80,305.00 L386.30,305.00 L386.80,305.00 L387.29,305.00 L387.79,305.00 L388.29,305.00 L388.78,305.00 L389.28,305.00 L389.78,305.00 L390.27,305.00 L390.77,305.00 L391.27,305.00 L391.77,305.00 L392.26,305.00 L392.76,305.00 L393.26,305.00 L393.75,305.00 L394.25,305.00 L394.75,305.00 L395.24,305.00 L395.74,305.00 L396.24,305.00 L396.73,305.00 L397.23,305.00 L397.73,305.00 L398.22,305.00 L398.72,305.00 L399.22,305.00 L399.71,305.00 L400.21,305.00 L400.71,305.00 L401.20,305.00 L401.70,305.00 L402.20,305.00 L402.69,305.00 L403.19,305.00 L403.69,305.00 L404.19,305.00 L404.68,305.00 L405.18,305.00 L405.68,305.00 L406.17,305.00 L406.67,305.00 L407.17,305.00 L407.66,305.00 L408.16,305.00 L408.66,305.00 L409.15,305.00 L409.65,305.00 L410.15,305.00 L410.64,305.00 L411.14,305.00 L411.64,305.00 L412.13,305.00 L412.63,305.00 L413.13,305.00 L413.62,305.00 L414.12,305.00 L414.62,305.00 L415.11,305.00 L415.61,305.00 L416.11,305.00 L416.61,305.00 L417.10,305.00 L417.60,305.00 L418.10,305.00 L418.59,305.00 L419.09,305.00 L419.59,305.00 L420.08,305.00 L420.58,305.00 L421.08,305.00 L421.57,305.00 L422.07,305.00 L422.57,305.00 L423.06,305.00 L423.56,305.00 L424.06,305.00 L424.55,305.00 L425.05,305.00 L425.55,305.00 L426.04,305.00 L426.54,305.00 L427.04,305.00 L427.53,305.00 L428.03,305.00 L428.53,305.00 L429.03,305.00 L429.52,305.00 L430.02,305.00 L430.52,305.00 L431.01,305.00 L431.51,305.00 L432.01,305.00 L432.50,305.00 L433.00,305.00 L433.50,305.00 L433.99,305.00 L434.49,305.00 L434.99,305.00 L435.48,305.00 L435.98,305.00 L436.48,305.00 L436.97,305.00 L437.47,305.00 L437.97,305.00 L438.46,305.00 L438.96,305.00 L439.46,305.00 L439.95,305.00 L440.45,305.00 L440.95,305.00 L441.45,305.00 L441.94,305.00 L442.44,305.00 L442.94,305.00 L443.43,305.00 L443.93,305.00 L444.43,305.00 L444.92,305.00 L445.42,305.00 L445.92,305.00 L446.41,305.00 L446.91,305.00 L447.41,305.00 L447.90,305.00 L448.40,305.00 L448.90,305.00 L449.39,305.00 L449.89,305.00 L450.39,305.00 L450.88,305.00 L451.38,305.00 L451.88,305.00 L452.37,305.00 L452.87,305.00 L453.37,305.00 L453.87,305.00 L454.36,305.00 L454.86,305.00 L455.36,305.00 L455.85,305.00 L456.35,305.00 L456.85,305.00 L457.34,305.00 L457.84,305.00 L458.34,305.00 L458.83,305.00 L459.33,305.00" fill="none" stroke="#e2483a" stroke-width="2.0" stroke-linejoin="round" stroke-linecap="butt"  clip-path="url(#cb10)"/>
<path d="M260.61,347.20 L261.11,347.20 L261.60,347.20 L262.10,347.20 L262.60,347.20 L263.09,347.20 L263.59,347.20 L264.09,347.20 L264.58,347.20 L265.08,347.20 L265.58,347.20 L266.07,347.20 L266.57,347.20 L267.07,347.20 L267.57,347.20 L268.06,347.20 L268.56,347.20 L269.06,347.20 L269.55,347.20 L270.05,347.20 L270.55,347.20 L271.04,347.20 L271.54,347.20 L272.04,347.20 L272.53,347.20 L273.03,347.20 L273.53,347.20 L274.02,347.20 L274.52,347.20 L275.02,347.20 L275.51,347.20 L276.01,347.20 L276.51,347.20 L277.00,347.20 L277.50,347.20 L278.00,347.20 L278.49,347.20 L278.99,347.20 L279.49,347.20 L279.99,347.20 L280.48,347.20 L280.98,347.20 L281.48,347.20 L281.97,347.20 L282.47,347.20 L282.97,347.20 L283.46,347.20 L283.96,347.20 L284.46,347.20 L284.95,347.20 L285.45,347.20 L285.95,347.20 L286.44,347.20 L286.94,347.20 L287.44,347.20 L287.93,347.20 L288.43,347.20 L288.93,347.20 L289.42,347.20 L289.92,347.20 L290.42,347.20 L290.91,347.20 L291.41,347.20 L291.91,347.20 L292.41,347.20 L292.90,347.20 L293.40,347.20 L293.90,347.20 L294.39,347.20 L294.89,347.20 L295.39,347.20 L295.88,347.20 L296.38,347.20 L296.88,347.20 L297.37,347.20 L297.87,347.20 L298.37,347.20 L298.86,347.20 L299.36,347.20 L299.86,347.20 L300.35,347.20 L300.85,347.20 L301.35,347.20 L301.84,347.20 L302.34,347.20 L302.84,347.20 L303.33,347.20 L303.83,347.20 L304.33,347.20 L304.83,347.20 L305.32,347.20 L305.82,347.20 L306.32,347.20 L306.81,347.20 L307.31,347.20 L307.81,347.20 L308.30,347.20 L308.80,347.20 L309.30,347.20 L309.79,347.20 L310.29,347.20 L310.79,347.20 L311.28,347.20 L311.78,347.20 L312.28,347.20 L312.77,347.20 L313.27,347.20 L313.77,347.20 L314.26,347.20 L314.76,347.20 L315.26,347.20 L315.75,347.20 L316.25,347.20 L316.75,347.20 L317.25,347.20 L317.74,347.20 L318.24,347.20 L318.74,347.20 L319.23,347.20 L319.73,347.20 L320.23,347.19 L320.72,347.19 L321.22,347.19 L321.72,347.18 L322.21,347.18 L322.71,347.17 L323.21,347.16 L323.70,347.15 L324.20,347.13 L324.70,347.11 L325.19,347.08 L325.69,347.05 L326.19,347.01 L326.68,346.96 L327.18,346.90 L327.68,346.83 L328.17,346.74 L328.67,346.64 L329.17,346.52 L329.67,346.38 L330.16,346.22 L330.66,346.04 L331.16,345.84 L331.65,345.61 L332.15,345.36 L332.65,345.09 L333.14,344.79 L333.64,344.48 L334.14,344.15 L334.63,343.80 L335.13,343.45 L335.63,343.09 L336.12,342.74 L336.62,342.39 L337.12,342.06 L337.61,341.75 L338.11,341.46 L338.61,341.21 L339.10,340.99 L339.60,340.82 L340.10,340.70 L340.59,340.63 L341.09,340.62 L341.59,340.66 L342.09,340.75 L342.58,340.90 L343.08,341.11 L343.58,341.36 L344.07,341.66 L344.57,342.00 L345.07,342.38 L345.56,342.80 L346.06,343.25 L346.56,343.72 L347.05,344.21 L347.55,344.73 L348.05,345.25 L348.54,345.80 L349.04,346.35 L349.54,346.91 L350.03,347.48 L350.53,348.05 L351.03,348.62 L351.52,349.20 L352.02,349.77 L352.52,350.34 L353.01,350.90 L353.51,351.44 L354.01,351.97 L354.51,352.47 L355.00,352.94 L355.50,353.37 L356.00,353.77 L356.49,354.11 L356.99,354.41 L357.49,354.64 L357.98,354.82 L358.48,354.93 L358.98,354.98 L359.47,354.96 L359.97,354.88 L360.47,354.75 L360.96,354.56 L361.46,354.32 L361.96,354.03 L362.45,353.71 L362.95,353.36 L363.45,352.98 L363.94,352.59 L364.44,352.19 L364.94,351.79 L365.43,351.40 L365.93,351.01 L366.43,350.64 L366.93,350.29 L367.42,349.96 L367.92,349.65 L368.42,349.36 L368.91,349.10 L369.41,348.86 L369.91,348.64 L370.40,348.45 L370.90,348.28 L371.40,348.13 L371.89,348.00 L372.39,347.88 L372.89,347.78 L373.38,347.69 L373.88,347.62 L374.38,347.55 L374.87,347.50 L375.37,347.45 L375.87,347.41 L376.36,347.38 L376.86,347.35 L377.36,347.32 L377.85,347.30 L378.35,347.28 L378.85,347.27 L379.35,347.26 L379.84,347.25 L380.34,347.24 L380.84,347.23 L381.33,347.22 L381.83,347.22 L382.33,347.22 L382.82,347.21 L383.32,347.21 L383.82,347.21 L384.31,347.21 L384.81,347.20 L385.31,347.20 L385.80,347.20 L386.30,347.20 L386.80,347.20 L387.29,347.20 L387.79,347.20 L388.29,347.20 L388.78,347.20 L389.28,347.20 L389.78,347.20 L390.27,347.20 L390.77,347.20 L391.27,347.20 L391.77,347.20 L392.26,347.20 L392.76,347.20 L393.26,347.20 L393.75,347.20 L394.25,347.20 L394.75,347.20 L395.24,347.20 L395.74,347.20 L396.24,347.20 L396.73,347.20 L397.23,347.20 L397.73,347.20 L398.22,347.20 L398.72,347.20 L399.22,347.20 L399.71,347.20 L400.21,347.20 L400.71,347.20 L401.20,347.20 L401.70,347.20 L402.20,347.20 L402.69,347.20 L403.19,347.20 L403.69,347.20 L404.19,347.20 L404.68,347.20 L405.18,347.20 L405.68,347.20 L406.17,347.20 L406.67,347.20 L407.17,347.20 L407.66,347.20 L408.16,347.20 L408.66,347.20 L409.15,347.20 L409.65,347.20 L410.15,347.20 L410.64,347.20 L411.14,347.20 L411.64,347.20 L412.13,347.20 L412.63,347.20 L413.13,347.20 L413.62,347.20 L414.12,347.20 L414.62,347.20 L415.11,347.20 L415.61,347.20 L416.11,347.20 L416.61,347.20 L417.10,347.20 L417.60,347.20 L418.10,347.20 L418.59,347.20 L419.09,347.20 L419.59,347.20 L420.08,347.20 L420.58,347.20 L421.08,347.20 L421.57,347.20 L422.07,347.20 L422.57,347.20 L423.06,347.20 L423.56,347.20 L424.06,347.20 L424.55,347.20 L425.05,347.20 L425.55,347.20 L426.04,347.20 L426.54,347.20 L427.04,347.20 L427.53,347.20 L428.03,347.20 L428.53,347.20 L429.03,347.20 L429.52,347.20 L430.02,347.20 L430.52,347.20 L431.01,347.20 L431.51,347.20 L432.01,347.20 L432.50,347.20 L433.00,347.20 L433.50,347.20 L433.99,347.20 L434.49,347.20 L434.99,347.20 L435.48,347.20 L435.98,347.20 L436.48,347.20 L436.97,347.20 L437.47,347.20 L437.97,347.20 L438.46,347.20 L438.96,347.20 L439.46,347.20 L439.95,347.20 L440.45,347.20 L440.95,347.20 L441.45,347.20 L441.94,347.20 L442.44,347.20 L442.94,347.20 L443.43,347.20 L443.93,347.20 L444.43,347.20 L444.92,347.20 L445.42,347.20 L445.92,347.20 L446.41,347.20 L446.91,347.20 L447.41,347.20 L447.90,347.20 L448.40,347.20 L448.90,347.20 L449.39,347.20 L449.89,347.20 L450.39,347.20 L450.88,347.20 L451.38,347.20 L451.88,347.20 L452.37,347.20 L452.87,347.20 L453.37,347.20 L453.87,347.20 L454.36,347.20 L454.86,347.20 L455.36,347.20 L455.85,347.20 L456.35,347.20 L456.85,347.20 L457.34,347.20 L457.84,347.20 L458.34,347.20 L458.83,347.20 L459.33,347.20" fill="none" stroke="#0ab40e" stroke-width="2.0" stroke-linejoin="round" stroke-linecap="butt"  clip-path="url(#cb11)"/>
<path d="M260.61,389.30 L261.11,389.30 L261.60,389.30 L262.10,389.30 L262.60,389.30 L263.09,389.30 L263.59,389.30 L264.09,389.30 L264.58,389.30 L265.08,389.30 L265.58,389.30 L266.07,389.30 L266.57,389.30 L267.07,389.30 L267.57,389.30 L268.06,389.30 L268.56,389.30 L269.06,389.30 L269.55,389.30 L270.05,389.30 L270.55,389.30 L271.04,389.30 L271.54,389.30 L272.04,389.30 L272.53,389.30 L273.03,389.30 L273.53,389.30 L274.02,389.30 L274.52,389.30 L275.02,389.30 L275.51,389.30 L276.01,389.30 L276.51,389.30 L277.00,389.30 L277.50,389.30 L278.00,389.30 L278.49,389.30 L278.99,389.30 L279.49,389.30 L279.99,389.30 L280.48,389.30 L280.98,389.30 L281.48,389.30 L281.97,389.30 L282.47,389.30 L282.97,389.30 L283.46,389.30 L283.96,389.30 L284.46,389.30 L284.95,389.30 L285.45,389.30 L285.95,389.30 L286.44,389.30 L286.94,389.30 L287.44,389.30 L287.93,389.30 L288.43,389.30 L288.93,389.30 L289.42,389.30 L289.92,389.30 L290.42,389.30 L290.91,389.30 L291.41,389.30 L291.91,389.30 L292.41,389.30 L292.90,389.30 L293.40,389.30 L293.90,389.30 L294.39,389.30 L294.89,389.30 L295.39,389.30 L295.88,389.30 L296.38,389.30 L296.88,389.30 L297.37,389.30 L297.87,389.30 L298.37,389.30 L298.86,389.30 L299.36,389.30 L299.86,389.30 L300.35,389.30 L300.85,389.30 L301.35,389.30 L301.84,389.30 L302.34,389.30 L302.84,389.30 L303.33,389.30 L303.83,389.30 L304.33,389.30 L304.83,389.30 L305.32,389.30 L305.82,389.30 L306.32,389.30 L306.81,389.30 L307.31,389.30 L307.81,389.30 L308.30,389.30 L308.80,389.30 L309.30,389.30 L309.79,389.30 L310.29,389.30 L310.79,389.30 L311.28,389.30 L311.78,389.30 L312.28,389.30 L312.77,389.30 L313.27,389.30 L313.77,389.30 L314.26,389.30 L314.76,389.30 L315.26,389.30 L315.75,389.30 L316.25,389.30 L316.75,389.30 L317.25,389.30 L317.74,389.30 L318.24,389.29 L318.74,389.29 L319.23,389.29 L319.73,389.28 L320.23,389.28 L320.72,389.27 L321.22,389.26 L321.72,389.25 L322.21,389.23 L322.71,389.21 L323.21,389.18 L323.70,389.15 L324.20,389.10 L324.70,389.05 L325.19,388.98 L325.69,388.89 L326.19,388.79 L326.68,388.66 L327.18,388.51 L327.68,388.32 L328.17,388.11 L328.67,387.86 L329.17,387.57 L329.67,387.23 L330.16,386.85 L330.66,386.42 L331.16,385.94 L331.65,385.40 L332.15,384.82 L332.65,384.18 L333.14,383.50 L333.64,382.78 L334.14,382.02 L334.63,381.23 L335.13,380.42 L335.63,379.60 L336.12,378.79 L336.62,377.99 L337.12,377.22 L337.61,376.50 L338.11,375.83 L338.61,375.24 L339.10,374.73 L339.60,374.31 L340.10,373.99 L340.59,373.79 L341.09,373.70 L341.59,373.73 L342.09,373.88 L342.58,374.15 L343.08,374.53 L343.58,375.02 L344.07,375.60 L344.57,376.28 L345.07,377.03 L345.56,377.85 L346.06,378.73 L346.56,379.64 L347.05,380.59 L347.55,381.57 L348.05,382.55 L348.54,383.54 L349.04,384.52 L349.54,385.49 L350.03,386.45 L350.53,387.39 L351.03,388.30 L351.52,389.19 L352.02,390.04 L352.52,390.86 L353.01,391.65 L353.51,392.39 L354.01,393.09 L354.51,393.74 L355.00,394.34 L355.50,394.88 L356.00,395.37 L356.49,395.79 L356.99,396.15 L357.49,396.44 L357.98,396.66 L358.48,396.81 L358.98,396.88 L359.47,396.89 L359.97,396.84 L360.47,396.72 L360.96,396.54 L361.46,396.31 L361.96,396.04 L362.45,395.72 L362.95,395.38 L363.45,395.01 L363.94,394.63 L364.44,394.24 L364.94,393.84 L365.43,393.45 L365.93,393.07 L366.43,392.70 L366.93,392.35 L367.42,392.03 L367.92,391.72 L368.42,391.43 L368.91,391.18 L369.41,390.94 L369.91,390.73 L370.40,390.54 L370.90,390.37 L371.40,390.22 L371.89,390.09 L372.39,389.97 L372.89,389.87 L373.38,389.79 L373.88,389.71 L374.38,389.65 L374.87,389.60 L375.37,389.55 L375.87,389.51 L376.36,389.47 L376.86,389.44 L377.36,389.42 L377.85,389.40 L378.35,389.38 L378.85,389.37 L379.35,389.36 L379.84,389.35 L380.34,389.34 L380.84,389.33 L381.33,389.32 L381.83,389.32 L382.33,389.32 L382.82,389.31 L383.32,389.31 L383.82,389.31 L384.31,389.31 L384.81,389.30 L385.31,389.30 L385.80,389.30 L386.30,389.30 L386.80,389.30 L387.29,389.30 L387.79,389.30 L388.29,389.30 L388.78,389.30 L389.28,389.30 L389.78,389.30 L390.27,389.30 L390.77,389.30 L391.27,389.30 L391.77,389.30 L392.26,389.30 L392.76,389.30 L393.26,389.30 L393.75,389.30 L394.25,389.30 L394.75,389.30 L395.24,389.30 L395.74,389.30 L396.24,389.30 L396.73,389.30 L397.23,389.30 L397.73,389.30 L398.22,389.30 L398.72,389.30 L399.22,389.30 L399.71,389.30 L400.21,389.30 L400.71,389.30 L401.20,389.30 L401.70,389.30 L402.20,389.30 L402.69,389.30 L403.19,389.30 L403.69,389.30 L404.19,389.30 L404.68,389.30 L405.18,389.30 L405.68,389.30 L406.17,389.30 L406.67,389.30 L407.17,389.30 L407.66,389.30 L408.16,389.30 L408.66,389.30 L409.15,389.30 L409.65,389.30 L410.15,389.30 L410.64,389.30 L411.14,389.30 L411.64,389.30 L412.13,389.30 L412.63,389.30 L413.13,389.30 L413.62,389.30 L414.12,389.30 L414.62,389.30 L415.11,389.30 L415.61,389.30 L416.11,389.30 L416.61,389.30 L417.10,389.30 L417.60,389.30 L418.10,389.30 L418.59,389.30 L419.09,389.30 L419.59,389.30 L420.08,389.30 L420.58,389.30 L421.08,389.30 L421.57,389.30 L422.07,389.30 L422.57,389.30 L423.06,389.30 L423.56,389.30 L424.06,389.30 L424.55,389.30 L425.05,389.30 L425.55,389.30 L426.04,389.30 L426.54,389.30 L427.04,389.30 L427.53,389.30 L428.03,389.30 L428.53,389.30 L429.03,389.30 L429.52,389.30 L430.02,389.30 L430.52,389.30 L431.01,389.30 L431.51,389.30 L432.01,389.30 L432.50,389.30 L433.00,389.30 L433.50,389.30 L433.99,389.30 L434.49,389.30 L434.99,389.30 L435.48,389.30 L435.98,389.30 L436.48,389.30 L436.97,389.30 L437.47,389.30 L437.97,389.30 L438.46,389.30 L438.96,389.30 L439.46,389.30 L439.95,389.30 L440.45,389.30 L440.95,389.30 L441.45,389.30 L441.94,389.30 L442.44,389.30 L442.94,389.30 L443.43,389.30 L443.93,389.30 L444.43,389.30 L444.92,389.30 L445.42,389.30 L445.92,389.30 L446.41,389.30 L446.91,389.30 L447.41,389.30 L447.90,389.30 L448.40,389.30 L448.90,389.30 L449.39,389.30 L449.89,389.30 L450.39,389.30 L450.88,389.30 L451.38,389.30 L451.88,389.30 L452.37,389.30 L452.87,389.30 L453.37,389.30 L453.87,389.30 L454.36,389.30 L454.86,389.30 L455.36,389.30 L455.85,389.30 L456.35,389.30 L456.85,389.30 L457.34,389.30 L457.84,389.30 L458.34,389.30 L458.83,389.30 L459.33,389.30" fill="none" stroke="#0a78f0" stroke-width="2.0" stroke-linejoin="round" stroke-linecap="butt"  clip-path="url(#cb12)"/>
<line x1="261.00" y1="283.90" x2="458.90" y2="283.90" stroke="#a4a4a4" stroke-width="1.5" />
<line x1="261.00" y1="326.20" x2="458.90" y2="326.20" stroke="#6a6a6a" stroke-width="1.1" />
<line x1="261.00" y1="368.20" x2="458.90" y2="368.20" stroke="#6a6a6a" stroke-width="1.1" />
<line x1="261.00" y1="410.40" x2="458.90" y2="410.40" stroke="#5e5e5e" stroke-width="1.1" />
<line x1="458.90" y1="283.20" x2="458.90" y2="411.00" stroke="#a0a0a0" stroke-width="1.5" />
<line x1="261.00" y1="283.20" x2="261.00" y2="411.00" stroke="#5a5a5a" stroke-width="1.0" />
<line x1="285.45" y1="284.30" x2="285.45" y2="286.30" stroke="#8a8a8a" stroke-width="1" />
<line x1="285.45" y1="324.30" x2="285.45" y2="326.30" stroke="#8a8a8a" stroke-width="1" />
<line x1="347.55" y1="284.30" x2="347.55" y2="286.30" stroke="#8a8a8a" stroke-width="1" />
<line x1="347.55" y1="324.30" x2="347.55" y2="326.30" stroke="#8a8a8a" stroke-width="1" />
<line x1="409.65" y1="284.30" x2="409.65" y2="286.30" stroke="#8a8a8a" stroke-width="1" />
<line x1="409.65" y1="324.30" x2="409.65" y2="326.30" stroke="#8a8a8a" stroke-width="1" />
<line x1="261.00" y1="314.45" x2="263.00" y2="314.45" stroke="#8a8a8a" stroke-width="1" />
<line x1="456.90" y1="314.45" x2="458.90" y2="314.45" stroke="#8a8a8a" stroke-width="1" />
<text id="t31" x="257.60" y="318.85" font-size="10.0" text-anchor="end" fill="#262626" font-weight="normal" font-style="normal" >-&#8199;</text>
<line x1="261.00" y1="305.00" x2="263.00" y2="305.00" stroke="#8a8a8a" stroke-width="1" />
<line x1="456.90" y1="305.00" x2="458.90" y2="305.00" stroke="#8a8a8a" stroke-width="1" />
<text x="255.00" y="309.40" font-size="10.0" text-anchor="end" fill="#262626" font-weight="normal" font-style="normal" >0</text>
<line x1="261.00" y1="295.55" x2="263.00" y2="295.55" stroke="#8a8a8a" stroke-width="1" />
<line x1="456.90" y1="295.55" x2="458.90" y2="295.55" stroke="#8a8a8a" stroke-width="1" />
<text id="t32" x="255.00" y="299.95" font-size="10.0" text-anchor="end" fill="#262626" font-weight="normal" font-style="normal" >&#8199;</text>
<line x1="285.45" y1="326.30" x2="285.45" y2="328.30" stroke="#8a8a8a" stroke-width="1" />
<line x1="285.45" y1="366.20" x2="285.45" y2="368.20" stroke="#8a8a8a" stroke-width="1" />
<line x1="347.55" y1="326.30" x2="347.55" y2="328.30" stroke="#8a8a8a" stroke-width="1" />
<line x1="347.55" y1="366.20" x2="347.55" y2="368.20" stroke="#8a8a8a" stroke-width="1" />
<line x1="409.65" y1="326.30" x2="409.65" y2="328.30" stroke="#8a8a8a" stroke-width="1" />
<line x1="409.65" y1="366.20" x2="409.65" y2="368.20" stroke="#8a8a8a" stroke-width="1" />
<line x1="261.00" y1="356.40" x2="263.00" y2="356.40" stroke="#8a8a8a" stroke-width="1" />
<line x1="456.90" y1="356.40" x2="458.90" y2="356.40" stroke="#8a8a8a" stroke-width="1" />
<text id="t33" x="257.60" y="360.80" font-size="10.0" text-anchor="end" fill="#262626" font-weight="normal" font-style="normal" >-&#8199;</text>
<line x1="261.00" y1="347.20" x2="263.00" y2="347.20" stroke="#8a8a8a" stroke-width="1" />
<line x1="456.90" y1="347.20" x2="458.90" y2="347.20" stroke="#8a8a8a" stroke-width="1" />
<text x="255.00" y="351.60" font-size="10.0" text-anchor="end" fill="#262626" font-weight="normal" font-style="normal" >0</text>
<line x1="261.00" y1="338.00" x2="263.00" y2="338.00" stroke="#8a8a8a" stroke-width="1" />
<line x1="456.90" y1="338.00" x2="458.90" y2="338.00" stroke="#8a8a8a" stroke-width="1" />
<text id="t34" x="255.00" y="342.40" font-size="10.0" text-anchor="end" fill="#262626" font-weight="normal" font-style="normal" >&#8199;</text>
<line x1="285.45" y1="368.20" x2="285.45" y2="370.20" stroke="#8a8a8a" stroke-width="1" />
<line x1="285.45" y1="408.30" x2="285.45" y2="410.30" stroke="#8a8a8a" stroke-width="1" />
<line x1="347.55" y1="368.20" x2="347.55" y2="370.20" stroke="#8a8a8a" stroke-width="1" />
<line x1="347.55" y1="408.30" x2="347.55" y2="410.30" stroke="#8a8a8a" stroke-width="1" />
<line x1="409.65" y1="368.20" x2="409.65" y2="370.20" stroke="#8a8a8a" stroke-width="1" />
<line x1="409.65" y1="408.30" x2="409.65" y2="410.30" stroke="#8a8a8a" stroke-width="1" />
<line x1="261.00" y1="407.50" x2="263.00" y2="407.50" stroke="#8a8a8a" stroke-width="1" />
<line x1="456.90" y1="407.50" x2="458.90" y2="407.50" stroke="#8a8a8a" stroke-width="1" />
<text x="257.60" y="411.90" font-size="10.0" text-anchor="end" fill="#262626" font-weight="normal" font-style="normal" >-2</text>
<line x1="261.00" y1="398.40" x2="263.00" y2="398.40" stroke="#8a8a8a" stroke-width="1" />
<line x1="456.90" y1="398.40" x2="458.90" y2="398.40" stroke="#8a8a8a" stroke-width="1" />
<text id="t35" x="257.60" y="402.80" font-size="10.0" text-anchor="end" fill="#262626" font-weight="normal" font-style="normal" >-&#8199;</text>
<line x1="261.00" y1="389.30" x2="263.00" y2="389.30" stroke="#8a8a8a" stroke-width="1" />
<line x1="456.90" y1="389.30" x2="458.90" y2="389.30" stroke="#8a8a8a" stroke-width="1" />
<text x="255.00" y="393.70" font-size="10.0" text-anchor="end" fill="#262626" font-weight="normal" font-style="normal" >0</text>
<line x1="261.00" y1="380.20" x2="263.00" y2="380.20" stroke="#8a8a8a" stroke-width="1" />
<line x1="456.90" y1="380.20" x2="458.90" y2="380.20" stroke="#8a8a8a" stroke-width="1" />
<text id="t36" x="255.00" y="384.60" font-size="10.0" text-anchor="end" fill="#262626" font-weight="normal" font-style="normal" >&#8199;</text>
<line x1="261.00" y1="371.10" x2="263.00" y2="371.10" stroke="#8a8a8a" stroke-width="1" />
<line x1="456.90" y1="371.10" x2="458.90" y2="371.10" stroke="#8a8a8a" stroke-width="1" />
<text x="255.00" y="375.50" font-size="10.0" text-anchor="end" fill="#262626" font-weight="normal" font-style="normal" >2</text>
<text id="t37" x="285.45" y="424.80" font-size="10.2" text-anchor="middle" fill="#262626" font-weight="normal" font-style="normal" >&#8199;00</text>
<text id="t38" x="347.55" y="424.80" font-size="10.2" text-anchor="middle" fill="#262626" font-weight="normal" font-style="normal" >&#8199;50</text>
<text x="409.65" y="424.80" font-size="10.2" text-anchor="middle" fill="#262626" font-weight="normal" font-style="normal" >200</text>
<text x="360.15" y="280.40" font-size="11.2" text-anchor="middle" fill="#111" font-weight="bold" font-style="normal" >B</text>
<line x1="511.40" y1="284.30" x2="511.40" y2="326.30" stroke="#e9e9e9" stroke-width="1" />
<line x1="573.50" y1="284.30" x2="573.50" y2="326.30" stroke="#e9e9e9" stroke-width="1" />
<line x1="635.60" y1="284.30" x2="635.60" y2="326.30" stroke="#e9e9e9" stroke-width="1" />
<line x1="486.50" y1="314.45" x2="684.60" y2="314.45" stroke="#e9e9e9" stroke-width="1" />
<line x1="486.50" y1="305.00" x2="684.60" y2="305.00" stroke="#e9e9e9" stroke-width="1" />
<line x1="486.50" y1="295.55" x2="684.60" y2="295.55" stroke="#e9e9e9" stroke-width="1" />
<line x1="511.40" y1="326.30" x2="511.40" y2="368.20" stroke="#e9e9e9" stroke-width="1" />
<line x1="573.50" y1="326.30" x2="573.50" y2="368.20" stroke="#e9e9e9" stroke-width="1" />
<line x1="635.60" y1="326.30" x2="635.60" y2="368.20" stroke="#e9e9e9" stroke-width="1" />
<line x1="486.50" y1="356.40" x2="684.60" y2="356.40" stroke="#e9e9e9" stroke-width="1" />
<line x1="486.50" y1="347.20" x2="684.60" y2="347.20" stroke="#e9e9e9" stroke-width="1" />
<line x1="486.50" y1="338.00" x2="684.60" y2="338.00" stroke="#e9e9e9" stroke-width="1" />
<line x1="511.40" y1="368.20" x2="511.40" y2="410.30" stroke="#e9e9e9" stroke-width="1" />
<line x1="573.50" y1="368.20" x2="573.50" y2="410.30" stroke="#e9e9e9" stroke-width="1" />
<line x1="635.60" y1="368.20" x2="635.60" y2="410.30" stroke="#e9e9e9" stroke-width="1" />
<line x1="486.50" y1="407.50" x2="684.60" y2="407.50" stroke="#e9e9e9" stroke-width="1" />
<line x1="486.50" y1="398.40" x2="684.60" y2="398.40" stroke="#e9e9e9" stroke-width="1" />
<line x1="486.50" y1="389.30" x2="684.60" y2="389.30" stroke="#e9e9e9" stroke-width="1" />
<line x1="486.50" y1="380.20" x2="684.60" y2="380.20" stroke="#e9e9e9" stroke-width="1" />
<line x1="486.50" y1="371.10" x2="684.60" y2="371.10" stroke="#e9e9e9" stroke-width="1" />
<path d="M486.56,305.00 L487.06,305.00 L487.55,305.00 L488.05,305.00 L488.55,305.00 L489.04,305.00 L489.54,305.00 L490.04,305.00 L490.53,305.00 L491.03,305.00 L491.53,305.00 L492.02,305.00 L492.52,305.00 L493.02,305.00 L493.52,305.00 L494.01,305.00 L494.51,305.00 L495.01,305.00 L495.50,305.00 L496.00,305.00 L496.50,305.00 L496.99,305.00 L497.49,305.00 L497.99,305.00 L498.48,305.00 L498.98,305.00 L499.48,305.00 L499.97,305.00 L500.47,305.00 L500.97,305.00 L501.46,305.00 L501.96,305.00 L502.46,305.00 L502.95,305.00 L503.45,305.00 L503.95,305.00 L504.44,305.00 L504.94,305.00 L505.44,305.00 L505.94,305.00 L506.43,305.00 L506.93,305.00 L507.43,305.00 L507.92,305.00 L508.42,305.00 L508.92,305.00 L509.41,305.00 L509.91,305.00 L510.41,305.00 L510.90,305.00 L511.40,305.00 L511.90,305.00 L512.39,305.00 L512.89,305.00 L513.39,305.00 L513.88,305.00 L514.38,305.00 L514.88,305.00 L515.37,305.00 L515.87,305.00 L516.37,305.00 L516.86,305.00 L517.36,305.00 L517.86,305.00 L518.36,305.00 L518.85,305.00 L519.35,305.00 L519.85,305.00 L520.34,305.00 L520.84,305.00 L521.34,305.00 L521.83,305.00 L522.33,305.00 L522.83,305.00 L523.32,305.00 L523.82,305.00 L524.32,305.00 L524.81,305.00 L525.31,305.00 L525.81,305.00 L526.30,305.00 L526.80,305.00 L527.30,305.00 L527.79,305.00 L528.29,305.00 L528.79,305.00 L529.28,305.00 L529.78,305.00 L530.28,305.00 L530.78,305.00 L531.27,305.00 L531.77,305.00 L532.27,305.00 L532.76,305.00 L533.26,305.00 L533.76,305.00 L534.25,305.00 L534.75,305.00 L535.25,305.00 L535.74,305.00 L536.24,305.00 L536.74,305.00 L537.23,305.00 L537.73,305.00 L538.23,305.00 L538.72,305.00 L539.22,305.00 L539.72,305.00 L540.21,305.00 L540.71,305.00 L541.21,305.00 L541.70,305.00 L542.20,305.00 L542.70,305.00 L543.20,305.00 L543.69,305.00 L544.19,305.00 L544.69,305.00 L545.18,305.00 L545.68,305.00 L546.18,305.00 L546.67,305.00 L547.17,305.00 L547.67,305.00 L548.16,305.00 L548.66,305.00 L549.16,305.00 L549.65,305.00 L550.15,305.00 L550.65,305.00 L551.14,305.00 L551.64,305.00 L552.14,305.00 L552.63,305.00 L553.13,305.00 L553.63,305.00 L554.12,305.00 L554.62,305.00 L555.12,305.00 L555.62,305.00 L556.11,305.00 L556.61,305.00 L557.11,305.00 L557.60,305.00 L558.10,305.00 L558.60,305.00 L559.09,305.00 L559.59,305.00 L560.09,305.00 L560.58,305.00 L561.08,305.00 L561.58,305.00 L562.07,305.00 L562.57,305.00 L563.07,305.00 L563.56,305.00 L564.06,305.00 L564.56,305.00 L565.05,305.00 L565.55,305.00 L566.05,305.00 L566.54,305.00 L567.04,305.00 L567.54,305.00 L568.04,305.00 L568.53,305.00 L569.03,305.00 L569.53,305.00 L570.02,305.00 L570.52,305.00 L571.02,305.00 L571.51,305.00 L572.01,305.00 L572.51,305.00 L573.00,305.00 L573.50,305.00 L574.00,305.00 L574.49,305.00 L574.99,305.00 L575.49,305.00 L575.98,305.00 L576.48,305.00 L576.98,305.00 L577.47,305.00 L577.97,304.99 L578.47,304.99 L578.96,304.99 L579.46,304.98 L579.96,304.98 L580.46,304.97 L580.95,304.96 L581.45,304.95 L581.95,304.93 L582.44,304.91 L582.94,304.88 L583.44,304.85 L583.93,304.81 L584.43,304.76 L584.93,304.70 L585.42,304.63 L585.92,304.55 L586.42,304.44 L586.91,304.32 L587.41,304.18 L587.91,304.01 L588.40,303.83 L588.90,303.61 L589.40,303.37 L589.89,303.09 L590.39,302.79 L590.89,302.46 L591.38,302.10 L591.88,301.71 L592.38,301.29 L592.88,300.86 L593.37,300.40 L593.87,299.93 L594.37,299.45 L594.86,298.97 L595.36,298.49 L595.86,298.02 L596.35,297.58 L596.85,297.16 L597.35,296.77 L597.84,296.43 L598.34,296.14 L598.84,295.90 L599.33,295.72 L599.83,295.60 L600.33,295.55 L600.82,295.57 L601.32,295.65 L601.82,295.80 L602.31,296.01 L602.81,296.28 L603.31,296.60 L603.80,296.96 L604.30,297.36 L604.80,297.80 L605.30,298.25 L605.79,298.73 L606.29,299.21 L606.79,299.69 L607.28,300.17 L607.78,300.63 L608.28,301.08 L608.77,301.51 L609.27,301.91 L609.77,302.28 L610.26,302.63 L610.76,302.95 L611.26,303.23 L611.75,303.49 L612.25,303.72 L612.75,303.92 L613.24,304.10 L613.74,304.25 L614.24,304.38 L614.73,304.50 L615.23,304.59 L615.73,304.67 L616.22,304.74 L616.72,304.79 L617.22,304.83 L617.72,304.87 L618.21,304.90 L618.71,304.92 L619.21,304.94 L619.70,304.95 L620.20,304.97 L620.70,304.97 L621.19,304.98 L621.69,304.99 L622.19,304.99 L622.68,304.99 L623.18,304.99 L623.68,305.00 L624.17,305.00 L624.67,305.00 L625.17,305.00 L625.66,305.00 L626.16,305.00 L626.66,305.00 L627.15,305.00 L627.65,305.00 L628.15,305.00 L628.64,305.00 L629.14,305.00 L629.64,305.00 L630.14,305.00 L630.63,305.00 L631.13,305.00 L631.63,305.00 L632.12,305.00 L632.62,305.00 L633.12,305.00 L633.61,305.00 L634.11,305.00 L634.61,305.00 L635.10,305.00 L635.60,305.00 L636.10,305.00 L636.59,305.00 L637.09,305.00 L637.59,305.00 L638.08,305.00 L638.58,305.00 L639.08,305.00 L639.57,305.00 L640.07,305.00 L640.57,305.00 L641.06,305.00 L641.56,305.00 L642.06,305.00 L642.56,305.00 L643.05,305.00 L643.55,305.00 L644.05,305.00 L644.54,305.00 L645.04,305.00 L645.54,305.00 L646.03,305.00 L646.53,305.00 L647.03,305.00 L647.52,305.00 L648.02,305.00 L648.52,305.00 L649.01,305.00 L649.51,305.00 L650.01,305.00 L650.50,305.00 L651.00,305.00 L651.50,305.00 L651.99,305.00 L652.49,305.00 L652.99,305.00 L653.48,305.00 L653.98,305.00 L654.48,305.00 L654.98,305.00 L655.47,305.00 L655.97,305.00 L656.47,305.00 L656.96,305.00 L657.46,305.00 L657.96,305.00 L658.45,305.00 L658.95,305.00 L659.45,305.00 L659.94,305.00 L660.44,305.00 L660.94,305.00 L661.43,305.00 L661.93,305.00 L662.43,305.00 L662.92,305.00 L663.42,305.00 L663.92,305.00 L664.41,305.00 L664.91,305.00 L665.41,305.00 L665.90,305.00 L666.40,305.00 L666.90,305.00 L667.40,305.00 L667.89,305.00 L668.39,305.00 L668.89,305.00 L669.38,305.00 L669.88,305.00 L670.38,305.00 L670.87,305.00 L671.37,305.00 L671.87,305.00 L672.36,305.00 L672.86,305.00 L673.36,305.00 L673.85,305.00 L674.35,305.00 L674.85,305.00 L675.34,305.00 L675.84,305.00 L676.34,305.00 L676.83,305.00 L677.33,305.00 L677.83,305.00 L678.32,305.00 L678.82,305.00 L679.32,305.00 L679.82,305.00 L680.31,305.00 L680.81,305.00 L681.31,305.00 L681.80,305.00 L682.30,305.00 L682.80,305.00 L683.29,305.00 L683.79,305.00 L684.29,305.00 L684.78,305.00 L685.28,305.00" fill="none" stroke="#e2483a" stroke-width="2.0" stroke-linejoin="round" stroke-linecap="butt"  clip-path="url(#cb20)"/>
<path d="M486.56,347.20 L487.06,347.20 L487.55,347.20 L488.05,347.20 L488.55,347.20 L489.04,347.20 L489.54,347.20 L490.04,347.20 L490.53,347.20 L491.03,347.20 L491.53,347.20 L492.02,347.20 L492.52,347.20 L493.02,347.20 L493.52,347.20 L494.01,347.20 L494.51,347.20 L495.01,347.20 L495.50,347.20 L496.00,347.20 L496.50,347.20 L496.99,347.20 L497.49,347.20 L497.99,347.20 L498.48,347.20 L498.98,347.20 L499.48,347.20 L499.97,347.20 L500.47,347.20 L500.97,347.20 L501.46,347.20 L501.96,347.20 L502.46,347.20 L502.95,347.20 L503.45,347.20 L503.95,347.20 L504.44,347.20 L504.94,347.20 L505.44,347.20 L505.94,347.20 L506.43,347.20 L506.93,347.20 L507.43,347.20 L507.92,347.20 L508.42,347.20 L508.92,347.20 L509.41,347.20 L509.91,347.20 L510.41,347.20 L510.90,347.20 L511.40,347.20 L511.90,347.20 L512.39,347.20 L512.89,347.20 L513.39,347.20 L513.88,347.20 L514.38,347.20 L514.88,347.20 L515.37,347.20 L515.87,347.20 L516.37,347.20 L516.86,347.20 L517.36,347.20 L517.86,347.20 L518.36,347.20 L518.85,347.20 L519.35,347.20 L519.85,347.20 L520.34,347.20 L520.84,347.20 L521.34,347.20 L521.83,347.20 L522.33,347.20 L522.83,347.20 L523.32,347.20 L523.82,347.20 L524.32,347.20 L524.81,347.20 L525.31,347.20 L525.81,347.20 L526.30,347.20 L526.80,347.20 L527.30,347.20 L527.79,347.20 L528.29,347.20 L528.79,347.20 L529.28,347.20 L529.78,347.20 L530.28,347.20 L530.78,347.20 L531.27,347.20 L531.77,347.20 L532.27,347.20 L532.76,347.20 L533.26,347.20 L533.76,347.20 L534.25,347.20 L534.75,347.20 L535.25,347.20 L535.74,347.20 L536.24,347.20 L536.74,347.20 L537.23,347.20 L537.73,347.20 L538.23,347.20 L538.72,347.20 L539.22,347.20 L539.72,347.20 L540.21,347.20 L540.71,347.20 L541.21,347.20 L541.70,347.20 L542.20,347.20 L542.70,347.20 L543.20,347.20 L543.69,347.20 L544.19,347.20 L544.69,347.20 L545.18,347.20 L545.68,347.20 L546.18,347.20 L546.67,347.20 L547.17,347.20 L547.67,347.20 L548.16,347.20 L548.66,347.20 L549.16,347.20 L549.65,347.20 L550.15,347.20 L550.65,347.20 L551.14,347.20 L551.64,347.20 L552.14,347.20 L552.63,347.20 L553.13,347.20 L553.63,347.20 L554.12,347.20 L554.62,347.20 L555.12,347.20 L555.62,347.20 L556.11,347.20 L556.61,347.20 L557.11,347.20 L557.60,347.20 L558.10,347.20 L558.60,347.20 L559.09,347.20 L559.59,347.20 L560.09,347.20 L560.58,347.20 L561.08,347.20 L561.58,347.20 L562.07,347.20 L562.57,347.20 L563.07,347.20 L563.56,347.20 L564.06,347.20 L564.56,347.20 L565.05,347.20 L565.55,347.20 L566.05,347.20 L566.54,347.20 L567.04,347.20 L567.54,347.20 L568.04,347.20 L568.53,347.20 L569.03,347.20 L569.53,347.20 L570.02,347.20 L570.52,347.20 L571.02,347.20 L571.51,347.20 L572.01,347.20 L572.51,347.20 L573.00,347.20 L573.50,347.20 L574.00,347.20 L574.49,347.20 L574.99,347.20 L575.49,347.20 L575.98,347.20 L576.48,347.20 L576.98,347.20 L577.47,347.20 L577.97,347.20 L578.47,347.20 L578.96,347.20 L579.46,347.19 L579.96,347.19 L580.46,347.19 L580.95,347.18 L581.45,347.18 L581.95,347.17 L582.44,347.16 L582.94,347.14 L583.44,347.13 L583.93,347.10 L584.43,347.08 L584.93,347.04 L585.42,347.00 L585.92,346.95 L586.42,346.88 L586.91,346.81 L587.41,346.72 L587.91,346.61 L588.40,346.49 L588.90,346.34 L589.40,346.18 L589.89,345.99 L590.39,345.78 L590.89,345.55 L591.38,345.29 L591.88,345.01 L592.38,344.71 L592.88,344.39 L593.37,344.06 L593.87,343.71 L594.37,343.36 L594.86,343.00 L595.36,342.65 L595.86,342.30 L596.35,341.97 L596.85,341.66 L597.35,341.38 L597.84,341.13 L598.34,340.93 L598.84,340.76 L599.33,340.64 L599.83,340.58 L600.33,340.56 L600.82,340.60 L601.32,340.69 L601.82,340.82 L602.31,341.00 L602.81,341.23 L603.31,341.49 L603.80,341.78 L604.30,342.09 L604.80,342.42 L605.30,342.76 L605.79,343.11 L606.29,343.46 L606.79,343.80 L607.28,344.14 L607.78,344.45 L608.28,344.75 L608.77,345.03 L609.27,345.29 L609.77,345.52 L610.26,345.73 L610.76,345.92 L611.26,346.08 L611.75,346.23 L612.25,346.35 L612.75,346.46 L613.24,346.54 L613.74,346.62 L614.24,346.68 L614.73,346.73 L615.23,346.77 L615.73,346.81 L616.22,346.83 L616.72,346.86 L617.22,346.88 L617.72,346.90 L618.21,346.92 L618.71,346.94 L619.21,346.96 L619.70,346.99 L620.20,347.02 L620.70,347.05 L621.19,347.09 L621.69,347.15 L622.19,347.21 L622.68,347.28 L623.18,347.37 L623.68,347.47 L624.17,347.59 L624.67,347.73 L625.17,347.89 L625.66,348.07 L626.16,348.28 L626.66,348.51 L627.15,348.77 L627.65,349.05 L628.15,349.36 L628.64,349.69 L629.14,350.04 L629.64,350.41 L630.14,350.80 L630.63,351.20 L631.13,351.60 L631.63,352.01 L632.12,352.40 L632.62,352.78 L633.12,353.14 L633.61,353.47 L634.11,353.77 L634.61,354.03 L635.10,354.24 L635.60,354.40 L636.10,354.50 L636.59,354.55 L637.09,354.53 L637.59,354.46 L638.08,354.34 L638.58,354.16 L639.08,353.93 L639.57,353.65 L640.07,353.34 L640.57,353.00 L641.06,352.64 L641.56,352.25 L642.06,351.86 L642.56,351.46 L643.05,351.07 L643.55,350.69 L644.05,350.32 L644.54,349.96 L645.04,349.63 L645.54,349.32 L646.03,349.03 L646.53,348.78 L647.03,348.54 L647.52,348.34 L648.02,348.15 L648.52,347.99 L649.01,347.85 L649.51,347.74 L650.01,347.64 L650.50,347.55 L651.00,347.48 L651.50,347.42 L651.99,347.38 L652.49,347.34 L652.99,347.31 L653.48,347.28 L653.98,347.26 L654.48,347.25 L654.98,347.24 L655.47,347.23 L655.97,347.22 L656.47,347.21 L656.96,347.21 L657.46,347.21 L657.96,347.21 L658.45,347.20 L658.95,347.20 L659.45,347.20 L659.94,347.20 L660.44,347.20 L660.94,347.20 L661.43,347.20 L661.93,347.20 L662.43,347.20 L662.92,347.20 L663.42,347.20 L663.92,347.20 L664.41,347.20 L664.91,347.20 L665.41,347.20 L665.90,347.20 L666.40,347.20 L666.90,347.20 L667.40,347.20 L667.89,347.20 L668.39,347.20 L668.89,347.20 L669.38,347.20 L669.88,347.20 L670.38,347.20 L670.87,347.20 L671.37,347.20 L671.87,347.20 L672.36,347.20 L672.86,347.20 L673.36,347.20 L673.85,347.20 L674.35,347.20 L674.85,347.20 L675.34,347.20 L675.84,347.20 L676.34,347.20 L676.83,347.20 L677.33,347.20 L677.83,347.20 L678.32,347.20 L678.82,347.20 L679.32,347.20 L679.82,347.20 L680.31,347.20 L680.81,347.20 L681.31,347.20 L681.80,347.20 L682.30,347.20 L682.80,347.20 L683.29,347.20 L683.79,347.20 L684.29,347.20 L684.78,347.20 L685.28,347.20" fill="none" stroke="#0ab40e" stroke-width="2.0" stroke-linejoin="round" stroke-linecap="butt"  clip-path="url(#cb21)"/>
<path d="M486.56,389.30 L487.06,389.30 L487.55,389.30 L488.05,389.30 L488.55,389.30 L489.04,389.30 L489.54,389.30 L490.04,389.30 L490.53,389.30 L491.03,389.30 L491.53,389.30 L492.02,389.30 L492.52,389.30 L493.02,389.30 L493.52,389.30 L494.01,389.30 L494.51,389.30 L495.01,389.30 L495.50,389.30 L496.00,389.30 L496.50,389.30 L496.99,389.30 L497.49,389.30 L497.99,389.30 L498.48,389.30 L498.98,389.30 L499.48,389.30 L499.97,389.30 L500.47,389.30 L500.97,389.30 L501.46,389.30 L501.96,389.30 L502.46,389.30 L502.95,389.30 L503.45,389.30 L503.95,389.30 L504.44,389.30 L504.94,389.30 L505.44,389.30 L505.94,389.30 L506.43,389.30 L506.93,389.30 L507.43,389.30 L507.92,389.30 L508.42,389.30 L508.92,389.30 L509.41,389.30 L509.91,389.30 L510.41,389.30 L510.90,389.30 L511.40,389.30 L511.90,389.30 L512.39,389.30 L512.89,389.30 L513.39,389.30 L513.88,389.30 L514.38,389.30 L514.88,389.30 L515.37,389.30 L515.87,389.30 L516.37,389.30 L516.86,389.30 L517.36,389.30 L517.86,389.30 L518.36,389.30 L518.85,389.30 L519.35,389.30 L519.85,389.30 L520.34,389.30 L520.84,389.30 L521.34,389.30 L521.83,389.30 L522.33,389.30 L522.83,389.30 L523.32,389.30 L523.82,389.30 L524.32,389.30 L524.81,389.30 L525.31,389.30 L525.81,389.30 L526.30,389.30 L526.80,389.30 L527.30,389.30 L527.79,389.30 L528.29,389.30 L528.79,389.30 L529.28,389.30 L529.78,389.30 L530.28,389.30 L530.78,389.30 L531.27,389.30 L531.77,389.30 L532.27,389.30 L532.76,389.30 L533.26,389.30 L533.76,389.30 L534.25,389.30 L534.75,389.30 L535.25,389.30 L535.74,389.30 L536.24,389.30 L536.74,389.30 L537.23,389.30 L537.73,389.30 L538.23,389.30 L538.72,389.30 L539.22,389.30 L539.72,389.30 L540.21,389.30 L540.71,389.30 L541.21,389.30 L541.70,389.30 L542.20,389.30 L542.70,389.30 L543.20,389.30 L543.69,389.30 L544.19,389.30 L544.69,389.30 L545.18,389.30 L545.68,389.30 L546.18,389.30 L546.67,389.30 L547.17,389.30 L547.67,389.30 L548.16,389.30 L548.66,389.30 L549.16,389.30 L549.65,389.30 L550.15,389.30 L550.65,389.30 L551.14,389.30 L551.64,389.30 L552.14,389.30 L552.63,389.30 L553.13,389.30 L553.63,389.30 L554.12,389.30 L554.62,389.30 L555.12,389.30 L555.62,389.30 L556.11,389.30 L556.61,389.30 L557.11,389.30 L557.60,389.30 L558.10,389.30 L558.60,389.30 L559.09,389.30 L559.59,389.30 L560.09,389.30 L560.58,389.30 L561.08,389.30 L561.58,389.30 L562.07,389.30 L562.57,389.30 L563.07,389.30 L563.56,389.30 L564.06,389.30 L564.56,389.30 L565.05,389.30 L565.55,389.30 L566.05,389.30 L566.54,389.30 L567.04,389.30 L567.54,389.30 L568.04,389.30 L568.53,389.30 L569.03,389.30 L569.53,389.30 L570.02,389.30 L570.52,389.30 L571.02,389.30 L571.51,389.30 L572.01,389.30 L572.51,389.30 L573.00,389.30 L573.50,389.30 L574.00,389.30 L574.49,389.30 L574.99,389.30 L575.49,389.30 L575.98,389.30 L576.48,389.30 L576.98,389.30 L577.47,389.29 L577.97,389.29 L578.47,389.29 L578.96,389.28 L579.46,389.28 L579.96,389.27 L580.46,389.26 L580.95,389.24 L581.45,389.23 L581.95,389.20 L582.44,389.17 L582.94,389.13 L583.44,389.09 L583.93,389.02 L584.43,388.95 L584.93,388.86 L585.42,388.75 L585.92,388.61 L586.42,388.45 L586.91,388.26 L587.41,388.03 L587.91,387.77 L588.40,387.46 L588.90,387.11 L589.40,386.72 L589.89,386.27 L590.39,385.77 L590.89,385.22 L591.38,384.62 L591.88,383.97 L592.38,383.27 L592.88,382.54 L593.37,381.76 L593.87,380.97 L594.37,380.16 L594.86,379.34 L595.36,378.53 L595.86,377.74 L596.35,376.98 L596.85,376.27 L597.35,375.62 L597.84,375.05 L598.34,374.56 L598.84,374.17 L599.33,373.88 L599.83,373.70 L600.33,373.64 L600.82,373.69 L601.32,373.86 L601.82,374.13 L602.31,374.51 L602.81,374.99 L603.31,375.55 L603.80,376.19 L604.30,376.89 L604.80,377.64 L605.30,378.42 L605.79,379.22 L606.29,380.02 L606.79,380.83 L607.28,381.61 L607.78,382.38 L608.28,383.10 L608.77,383.79 L609.27,384.43 L609.77,385.02 L610.26,385.57 L610.76,386.06 L611.26,386.50 L611.75,386.89 L612.25,387.23 L612.75,387.53 L613.24,387.78 L613.74,388.01 L614.24,388.19 L614.73,388.35 L615.23,388.48 L615.73,388.59 L616.22,388.68 L616.72,388.76 L617.22,388.82 L617.72,388.88 L618.21,388.92 L618.71,388.97 L619.21,389.00 L619.70,389.04 L620.20,389.08 L620.70,389.13 L621.19,389.18 L621.69,389.23 L622.19,389.30 L622.68,389.37 L623.18,389.46 L623.68,389.56 L624.17,389.68 L624.67,389.82 L625.17,389.98 L625.66,390.16 L626.16,390.37 L626.66,390.60 L627.15,390.85 L627.65,391.13 L628.15,391.43 L628.64,391.76 L629.14,392.11 L629.64,392.48 L630.14,392.86 L630.63,393.26 L631.13,393.65 L631.63,394.05 L632.12,394.44 L632.62,394.82 L633.12,395.18 L633.61,395.51 L634.11,395.80 L634.61,396.05 L635.10,396.26 L635.60,396.42 L636.10,396.52 L636.59,396.57 L637.09,396.55 L637.59,396.48 L638.08,396.36 L638.58,396.18 L639.08,395.95 L639.57,395.68 L640.07,395.38 L640.57,395.04 L641.06,394.68 L641.56,394.30 L642.06,393.91 L642.56,393.52 L643.05,393.13 L643.55,392.75 L644.05,392.38 L644.54,392.03 L645.04,391.70 L645.54,391.40 L646.03,391.12 L646.53,390.86 L647.03,390.63 L647.52,390.42 L648.02,390.24 L648.52,390.08 L649.01,389.95 L649.51,389.83 L650.01,389.73 L650.50,389.65 L651.00,389.58 L651.50,389.52 L651.99,389.47 L652.49,389.44 L652.99,389.41 L653.48,389.38 L653.98,389.36 L654.48,389.35 L654.98,389.34 L655.47,389.33 L655.97,389.32 L656.47,389.31 L656.96,389.31 L657.46,389.31 L657.96,389.31 L658.45,389.30 L658.95,389.30 L659.45,389.30 L659.94,389.30 L660.44,389.30 L660.94,389.30 L661.43,389.30 L661.93,389.30 L662.43,389.30 L662.92,389.30 L663.42,389.30 L663.92,389.30 L664.41,389.30 L664.91,389.30 L665.41,389.30 L665.90,389.30 L666.40,389.30 L666.90,389.30 L667.40,389.30 L667.89,389.30 L668.39,389.30 L668.89,389.30 L669.38,389.30 L669.88,389.30 L670.38,389.30 L670.87,389.30 L671.37,389.30 L671.87,389.30 L672.36,389.30 L672.86,389.30 L673.36,389.30 L673.85,389.30 L674.35,389.30 L674.85,389.30 L675.34,389.30 L675.84,389.30 L676.34,389.30 L676.83,389.30 L677.33,389.30 L677.83,389.30 L678.32,389.30 L678.82,389.30 L679.32,389.30 L679.82,389.30 L680.31,389.30 L680.81,389.30 L681.31,389.30 L681.80,389.30 L682.30,389.30 L682.80,389.30 L683.29,389.30 L683.79,389.30 L684.29,389.30 L684.78,389.30 L685.28,389.30" fill="none" stroke="#0a78f0" stroke-width="2.0" stroke-linejoin="round" stroke-linecap="butt"  clip-path="url(#cb22)"/>
<line x1="486.50" y1="283.90" x2="684.50" y2="283.90" stroke="#a4a4a4" stroke-width="1.5" />
<line x1="486.50" y1="326.20" x2="684.50" y2="326.20" stroke="#6a6a6a" stroke-width="1.1" />
<line x1="486.50" y1="368.20" x2="684.50" y2="368.20" stroke="#6a6a6a" stroke-width="1.1" />
<line x1="486.50" y1="410.40" x2="684.50" y2="410.40" stroke="#5e5e5e" stroke-width="1.1" />
<line x1="684.50" y1="283.20" x2="684.50" y2="411.00" stroke="#404040" stroke-width="1.0" />
<line x1="486.50" y1="283.20" x2="486.50" y2="411.00" stroke="#5a5a5a" stroke-width="1.0" />
<line x1="511.40" y1="284.30" x2="511.40" y2="286.30" stroke="#8a8a8a" stroke-width="1" />
<line x1="511.40" y1="324.30" x2="511.40" y2="326.30" stroke="#8a8a8a" stroke-width="1" />
<line x1="573.50" y1="284.30" x2="573.50" y2="286.30" stroke="#8a8a8a" stroke-width="1" />
<line x1="573.50" y1="324.30" x2="573.50" y2="326.30" stroke="#8a8a8a" stroke-width="1" />
<line x1="635.60" y1="284.30" x2="635.60" y2="286.30" stroke="#8a8a8a" stroke-width="1" />
<line x1="635.60" y1="324.30" x2="635.60" y2="326.30" stroke="#8a8a8a" stroke-width="1" />
<line x1="486.50" y1="314.45" x2="488.50" y2="314.45" stroke="#8a8a8a" stroke-width="1" />
<line x1="682.50" y1="314.45" x2="684.50" y2="314.45" stroke="#8a8a8a" stroke-width="1" />
<text id="t39" x="483.10" y="318.85" font-size="10.0" text-anchor="end" fill="#262626" font-weight="normal" font-style="normal" >-&#8199;</text>
<line x1="486.50" y1="305.00" x2="488.50" y2="305.00" stroke="#8a8a8a" stroke-width="1" />
<line x1="682.50" y1="305.00" x2="684.50" y2="305.00" stroke="#8a8a8a" stroke-width="1" />
<text x="480.50" y="309.40" font-size="10.0" text-anchor="end" fill="#262626" font-weight="normal" font-style="normal" >0</text>
<line x1="486.50" y1="295.55" x2="488.50" y2="295.55" stroke="#8a8a8a" stroke-width="1" />
<line x1="682.50" y1="295.55" x2="684.50" y2="295.55" stroke="#8a8a8a" stroke-width="1" />
<text id="t40" x="480.50" y="299.95" font-size="10.0" text-anchor="end" fill="#262626" font-weight="normal" font-style="normal" >&#8199;</text>
<line x1="511.40" y1="326.30" x2="511.40" y2="328.30" stroke="#8a8a8a" stroke-width="1" />
<line x1="511.40" y1="366.20" x2="511.40" y2="368.20" stroke="#8a8a8a" stroke-width="1" />
<line x1="573.50" y1="326.30" x2="573.50" y2="328.30" stroke="#8a8a8a" stroke-width="1" />
<line x1="573.50" y1="366.20" x2="573.50" y2="368.20" stroke="#8a8a8a" stroke-width="1" />
<line x1="635.60" y1="326.30" x2="635.60" y2="328.30" stroke="#8a8a8a" stroke-width="1" />
<line x1="635.60" y1="366.20" x2="635.60" y2="368.20" stroke="#8a8a8a" stroke-width="1" />
<line x1="486.50" y1="356.40" x2="488.50" y2="356.40" stroke="#8a8a8a" stroke-width="1" />
<line x1="682.50" y1="356.40" x2="684.50" y2="356.40" stroke="#8a8a8a" stroke-width="1" />
<text id="t41" x="483.10" y="360.80" font-size="10.0" text-anchor="end" fill="#262626" font-weight="normal" font-style="normal" >-&#8199;</text>
<line x1="486.50" y1="347.20" x2="488.50" y2="347.20" stroke="#8a8a8a" stroke-width="1" />
<line x1="682.50" y1="347.20" x2="684.50" y2="347.20" stroke="#8a8a8a" stroke-width="1" />
<text x="480.50" y="351.60" font-size="10.0" text-anchor="end" fill="#262626" font-weight="normal" font-style="normal" >0</text>
<line x1="486.50" y1="338.00" x2="488.50" y2="338.00" stroke="#8a8a8a" stroke-width="1" />
<line x1="682.50" y1="338.00" x2="684.50" y2="338.00" stroke="#8a8a8a" stroke-width="1" />
<text id="t42" x="480.50" y="342.40" font-size="10.0" text-anchor="end" fill="#262626" font-weight="normal" font-style="normal" >&#8199;</text>
<line x1="511.40" y1="368.20" x2="511.40" y2="370.20" stroke="#8a8a8a" stroke-width="1" />
<line x1="511.40" y1="408.30" x2="511.40" y2="410.30" stroke="#8a8a8a" stroke-width="1" />
<line x1="573.50" y1="368.20" x2="573.50" y2="370.20" stroke="#8a8a8a" stroke-width="1" />
<line x1="573.50" y1="408.30" x2="573.50" y2="410.30" stroke="#8a8a8a" stroke-width="1" />
<line x1="635.60" y1="368.20" x2="635.60" y2="370.20" stroke="#8a8a8a" stroke-width="1" />
<line x1="635.60" y1="408.30" x2="635.60" y2="410.30" stroke="#8a8a8a" stroke-width="1" />
<line x1="486.50" y1="407.50" x2="488.50" y2="407.50" stroke="#8a8a8a" stroke-width="1" />
<line x1="682.50" y1="407.50" x2="684.50" y2="407.50" stroke="#8a8a8a" stroke-width="1" />
<text x="483.10" y="411.90" font-size="10.0" text-anchor="end" fill="#262626" font-weight="normal" font-style="normal" >-2</text>
<line x1="486.50" y1="398.40" x2="488.50" y2="398.40" stroke="#8a8a8a" stroke-width="1" />
<line x1="682.50" y1="398.40" x2="684.50" y2="398.40" stroke="#8a8a8a" stroke-width="1" />
<text id="t43" x="483.10" y="402.80" font-size="10.0" text-anchor="end" fill="#262626" font-weight="normal" font-style="normal" >-&#8199;</text>
<line x1="486.50" y1="389.30" x2="488.50" y2="389.30" stroke="#8a8a8a" stroke-width="1" />
<line x1="682.50" y1="389.30" x2="684.50" y2="389.30" stroke="#8a8a8a" stroke-width="1" />
<text x="480.50" y="393.70" font-size="10.0" text-anchor="end" fill="#262626" font-weight="normal" font-style="normal" >0</text>
<line x1="486.50" y1="380.20" x2="488.50" y2="380.20" stroke="#8a8a8a" stroke-width="1" />
<line x1="682.50" y1="380.20" x2="684.50" y2="380.20" stroke="#8a8a8a" stroke-width="1" />
<text id="t44" x="480.50" y="384.60" font-size="10.0" text-anchor="end" fill="#262626" font-weight="normal" font-style="normal" >&#8199;</text>
<line x1="486.50" y1="371.10" x2="488.50" y2="371.10" stroke="#8a8a8a" stroke-width="1" />
<line x1="682.50" y1="371.10" x2="684.50" y2="371.10" stroke="#8a8a8a" stroke-width="1" />
<text x="480.50" y="375.50" font-size="10.0" text-anchor="end" fill="#262626" font-weight="normal" font-style="normal" >2</text>
<text id="t45" x="511.40" y="424.80" font-size="10.2" text-anchor="middle" fill="#262626" font-weight="normal" font-style="normal" >&#8199;00</text>
<text id="t46" x="573.50" y="424.80" font-size="10.2" text-anchor="middle" fill="#262626" font-weight="normal" font-style="normal" >&#8199;50</text>
<text x="635.60" y="424.80" font-size="10.2" text-anchor="middle" fill="#262626" font-weight="normal" font-style="normal" >200</text>
<text x="585.55" y="280.40" font-size="11.2" text-anchor="middle" fill="#111" font-weight="bold" font-style="normal" >C</text>
<text x="38.60" y="323.60" font-size="10.35" text-anchor="start" fill="#262626" font-weight="normal" font-style="normal" >Air pressure</text>
<text x="38.60" y="365.40" font-size="10.35" text-anchor="start" fill="#262626" font-weight="normal" font-style="normal" >Sea surface</text>
<text x="38.60" y="407.80" font-size="10.35" text-anchor="start" fill="#262626" font-weight="normal" font-style="normal" >Bottom pressure</text>
<text x="134.50" y="438.90" font-size="11.45" text-anchor="middle" fill="#262626" font-weight="normal" font-style="normal" >Time (min)</text>
<text x="-0.10" y="276.40" font-size="11.8" text-anchor="start" fill="#262626" font-weight="normal" font-style="normal" >(b)</text>
<text x="18.00" y="304.75" font-size="11.3" text-anchor="middle" fill="#262626" transform="rotate(-90 18.00 304.75)">(hPa)</text>
<text x="18.00" y="347.20" font-size="11.3" text-anchor="middle" fill="#262626" transform="rotate(-90 18.00 347.20)">(cm)</text>
<text x="18.00" y="389.10" font-size="11.3" text-anchor="middle" fill="#262626" transform="rotate(-90 18.00 389.10)">(hPa)</text>
<use href="#g1r" transform="translate(26.13,35.20) scale(0.004980,-0.004980)" fill="#262626"/>
<use href="#g1r" transform="translate(26.13,210.95) scale(0.004980,-0.004980)" fill="#262626"/>
<use href="#g1r" transform="translate(26.13,174.25) scale(0.004980,-0.004980)" fill="#262626"/>
<use href="#g1r" transform="translate(251.63,33.95) scale(0.004980,-0.004980)" fill="#262626"/>
<use href="#g1r" transform="translate(251.63,134.60) scale(0.004980,-0.004980)" fill="#262626"/>
<use href="#g1r" transform="translate(251.63,81.80) scale(0.004980,-0.004980)" fill="#262626"/>
<use href="#g1r" transform="translate(251.63,210.95) scale(0.004980,-0.004980)" fill="#262626"/>
<use href="#g1r" transform="translate(251.63,174.25) scale(0.004980,-0.004980)" fill="#262626"/>
<use href="#g1r" transform="translate(477.13,35.20) scale(0.004980,-0.004980)" fill="#262626"/>
<use href="#g1r" transform="translate(477.13,134.60) scale(0.004980,-0.004980)" fill="#262626"/>
<use href="#g1r" transform="translate(477.13,81.80) scale(0.004980,-0.004980)" fill="#262626"/>
<use href="#g1r" transform="translate(477.13,210.95) scale(0.004980,-0.004980)" fill="#262626"/>
<use href="#g1r" transform="translate(477.13,174.25) scale(0.004980,-0.004980)" fill="#262626"/>
<use href="#g1r" transform="translate(68.68,25.10) scale(0.004980,-0.004980)" fill="#262626"/>
<use href="#g1r" transform="translate(286.38,24.40) scale(0.004980,-0.004980)" fill="#262626"/>
<use href="#g1r" transform="translate(369.88,24.40) scale(0.004980,-0.004980)" fill="#262626"/>
<use href="#g1r" transform="translate(524.17,25.10) scale(0.004980,-0.004980)" fill="#262626"/>
<use href="#g1r" transform="translate(113.75,34.80) scale(0.005054,-0.005054)" fill="#b0191e"/>
<use href="#g1r" transform="translate(65.03,85.50) scale(0.005713,-0.005713)" fill="#2a7fd4"/>
<use href="#g1r" transform="translate(71.53,85.50) scale(0.005713,-0.005713)" fill="#2a7fd4"/>
<use href="#g1b" transform="translate(82.92,85.10) scale(0.006104,-0.006104)" fill="#2a2a2a"/>
<use href="#g1b" transform="translate(383.30,82.90) scale(0.006104,-0.006104)" fill="#2a2a2a"/>
<use href="#g1b" transform="translate(620.80,82.90) scale(0.006104,-0.006104)" fill="#2a2a2a"/>
<use href="#g1i" transform="translate(55.61,210.90) scale(0.005566,-0.005566)" fill="#444"/>
<use href="#g1r" transform="translate(26.52,318.85) scale(0.004883,-0.004883)" fill="#262626"/>
<use href="#g1r" transform="translate(23.94,299.95) scale(0.004883,-0.004883)" fill="#262626"/>
<use href="#g1r" transform="translate(26.52,360.80) scale(0.004883,-0.004883)" fill="#262626"/>
<use href="#g1r" transform="translate(23.94,342.40) scale(0.004883,-0.004883)" fill="#262626"/>
<use href="#g1r" transform="translate(26.52,402.80) scale(0.004883,-0.004883)" fill="#262626"/>
<use href="#g1r" transform="translate(23.94,384.60) scale(0.004883,-0.004883)" fill="#262626"/>
<use href="#g1r" transform="translate(51.70,424.80) scale(0.004980,-0.004980)" fill="#262626"/>
<use href="#g1r" transform="translate(113.80,424.80) scale(0.004980,-0.004980)" fill="#262626"/>
<use href="#g1r" transform="translate(252.02,318.85) scale(0.004883,-0.004883)" fill="#262626"/>
<use href="#g1r" transform="translate(249.44,299.95) scale(0.004883,-0.004883)" fill="#262626"/>
<use href="#g1r" transform="translate(252.02,360.80) scale(0.004883,-0.004883)" fill="#262626"/>
<use href="#g1r" transform="translate(249.44,342.40) scale(0.004883,-0.004883)" fill="#262626"/>
<use href="#g1r" transform="translate(252.02,402.80) scale(0.004883,-0.004883)" fill="#262626"/>
<use href="#g1r" transform="translate(249.44,384.60) scale(0.004883,-0.004883)" fill="#262626"/>
<use href="#g1r" transform="translate(276.95,424.80) scale(0.004980,-0.004980)" fill="#262626"/>
<use href="#g1r" transform="translate(339.05,424.80) scale(0.004980,-0.004980)" fill="#262626"/>
<use href="#g1r" transform="translate(477.52,318.85) scale(0.004883,-0.004883)" fill="#262626"/>
<use href="#g1r" transform="translate(474.94,299.95) scale(0.004883,-0.004883)" fill="#262626"/>
<use href="#g1r" transform="translate(477.52,360.80) scale(0.004883,-0.004883)" fill="#262626"/>
<use href="#g1r" transform="translate(474.94,342.40) scale(0.004883,-0.004883)" fill="#262626"/>
<use href="#g1r" transform="translate(477.52,402.80) scale(0.004883,-0.004883)" fill="#262626"/>
<use href="#g1r" transform="translate(474.94,384.60) scale(0.004883,-0.004883)" fill="#262626"/>
<use href="#g1r" transform="translate(502.90,424.80) scale(0.004980,-0.004980)" fill="#262626"/>
<use href="#g1r" transform="translate(565.00,424.80) scale(0.004980,-0.004980)" fill="#262626"/>
</svg></body></html>
